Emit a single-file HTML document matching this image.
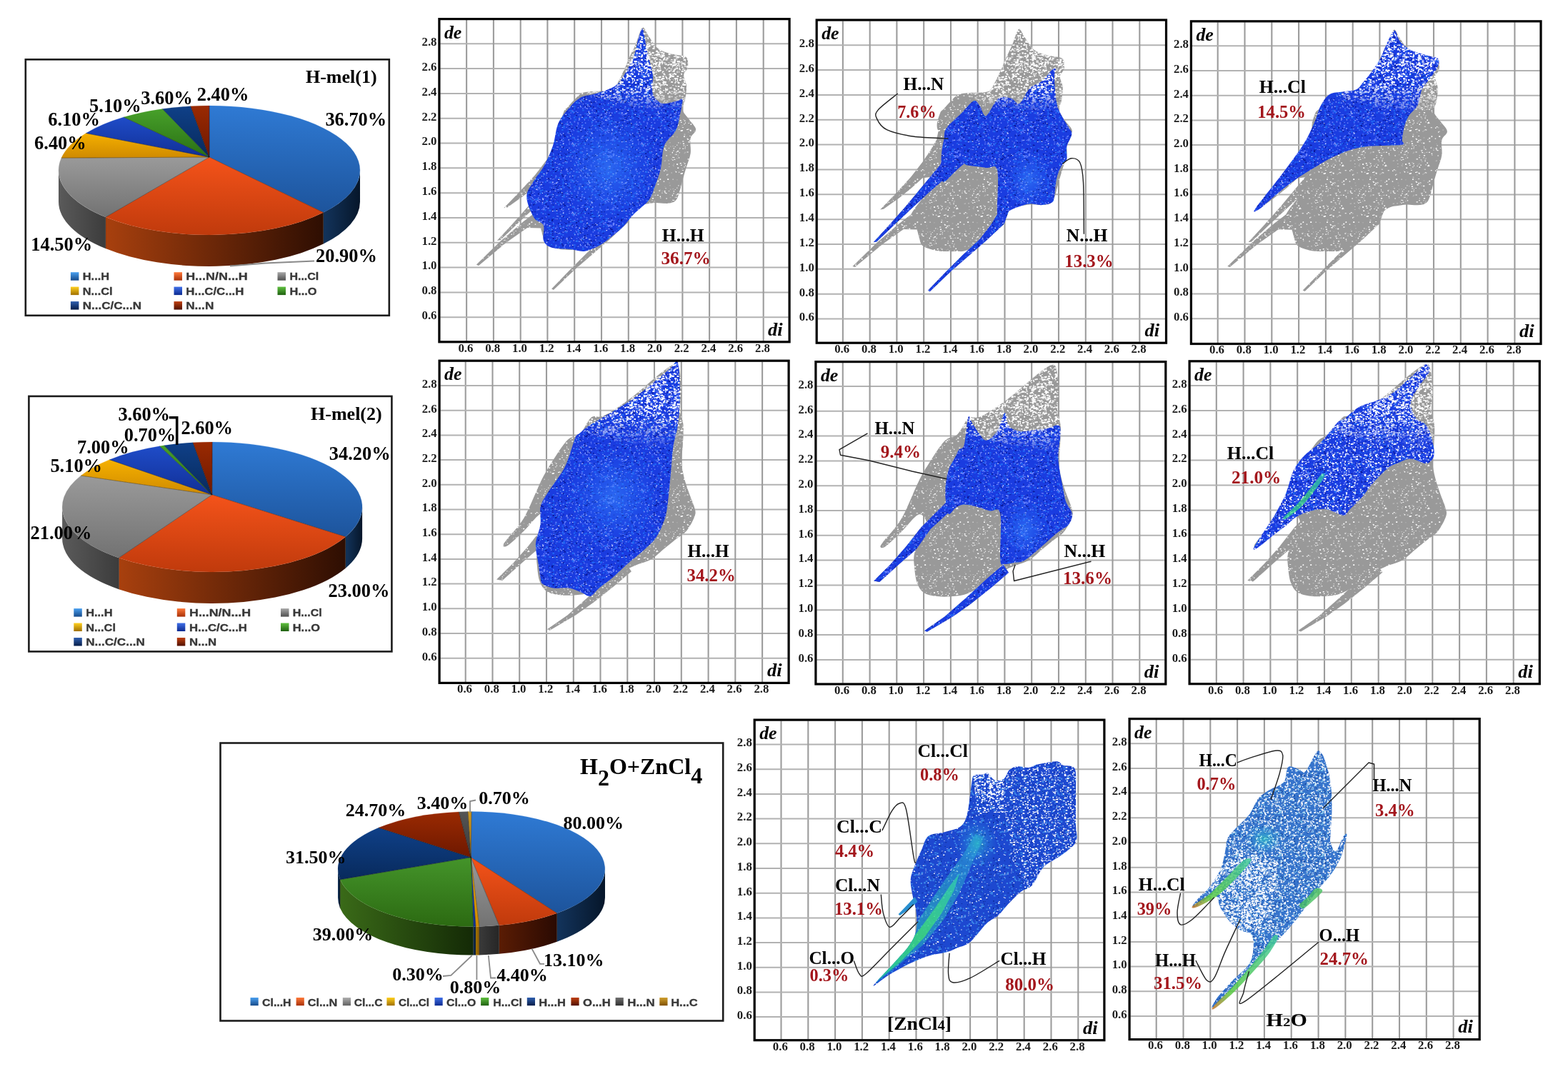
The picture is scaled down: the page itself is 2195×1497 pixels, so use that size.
<!DOCTYPE html>
<html><head><meta charset="utf-8"><title>Hirshfeld fingerprint plots</title>
<style>html,body{margin:0;padding:0;background:#fff;overflow:hidden;width:2195px;height:1497px} svg{display:block}</style></head>
<body><svg width="2195" height="1497" viewBox="0 0 2195 1497">
<defs><pattern id="gsp" width="60" height="60" patternUnits="userSpaceOnUse"><rect width="60" height="60" fill="#999999"/><path d="M8.1 50.8h1.9v1.0h-1.9zM29.7 27.0h1.8v1.5h-1.8zM5.6 1.7h2.0v1.2h-2.0zM45.7 0.1h1.5v1.5h-1.5zM13.7 56.7h2.1v0.7h-2.1zM1.5 32.5h2.1v1.1h-2.1zM13.0 25.3h1.0v0.9h-1.0zM26.3 29.7h1.3v0.9h-1.3zM13.1 27.6h1.3v0.7h-1.3zM50.3 33.4h1.8v0.9h-1.8zM58.9 51.6h1.1v1.1h-1.1zM43.3 42.7h2.1v1.1h-2.1zM49.8 40.2h1.4v1.3h-1.4zM52.9 50.8h1.6v1.3h-1.6zM2.1 14.6h2.0v1.1h-2.0zM10.4 32.9h1.8v1.4h-1.8zM22.5 26.3h1.6v1.5h-1.6zM31.3 23.6h1.6v0.7h-1.6zM2.6 42.2h2.2v1.3h-2.2zM23.6 10.2h1.6v1.7h-1.6zM46.2 32.4h2.0v0.9h-2.0zM30.8 57.1h1.7v1.2h-1.7zM16.2 32.9h2.1v0.7h-2.1zM47.0 49.2h2.1v1.5h-2.1zM48.5 31.1h1.7v1.2h-1.7zM3.4 52.2h1.7v0.9h-1.7zM30.3 29.1h1.4v1.1h-1.4zM32.3 37.4h1.7v1.2h-1.7zM1.7 13.8h1.2v1.3h-1.2zM51.7 47.9h2.0v1.6h-2.0zM15.3 50.5h1.8v0.8h-1.8zM1.0 0.9h1.9v1.0h-1.9zM6.6 37.5h1.4v0.8h-1.4zM9.6 31.6h1.2v1.0h-1.2zM42.7 27.3h1.4v1.2h-1.4zM1.4 23.2h1.5v0.9h-1.5zM6.5 54.0h1.6v0.9h-1.6zM36.3 49.0h1.0v0.7h-1.0zM8.8 43.1h1.2v1.4h-1.2zM40.7 32.7h1.3v1.7h-1.3zM47.9 31.0h1.3v1.4h-1.3zM23.7 34.6h1.4v1.4h-1.4zM3.5 17.9h2.2v1.6h-2.2zM18.4 51.5h1.4v1.7h-1.4zM44.6 25.0h1.3v0.7h-1.3zM52.7 2.3h2.0v1.7h-2.0zM34.2 10.3h2.0v1.7h-2.0zM42.2 30.5h1.5v1.1h-1.5zM12.3 40.4h1.5v0.9h-1.5zM6.3 40.0h1.4v1.2h-1.4zM19.5 52.3h2.1v0.7h-2.1zM12.1 19.7h2.2v1.5h-2.2zM20.3 12.8h1.8v1.6h-1.8zM55.9 20.6h2.1v1.4h-2.1zM29.1 58.5h1.3v1.5h-1.3zM5.1 10.2h2.1v0.9h-2.1zM45.5 36.0h2.0v1.1h-2.0zM20.4 17.5h2.0v1.3h-2.0zM57.3 53.2h1.2v1.3h-1.2zM6.3 2.3h1.1v1.6h-1.1zM47.3 49.7h1.4v1.4h-1.4zM46.9 22.7h1.7v0.9h-1.7zM4.9 16.0h2.1v1.3h-2.1zM55.5 27.5h1.3v1.5h-1.3zM49.7 0.7h1.8v0.8h-1.8zM6.9 53.1h1.0v1.0h-1.0zM58.9 25.3h1.1v0.9h-1.1zM14.5 44.6h1.1v1.7h-1.1zM22.7 58.2h2.1v1.0h-2.1zM15.2 28.6h1.1v1.4h-1.1zM2.4 0.6h2.2v1.0h-2.2zM35.8 27.0h1.4v0.8h-1.4zM54.8 58.2h2.2v0.8h-2.2zM12.9 37.1h2.2v1.3h-2.2zM41.3 39.7h1.3v1.3h-1.3zM18.4 14.8h1.1v1.0h-1.1zM58.2 26.9h1.8v1.4h-1.8zM56.4 23.4h1.4v1.0h-1.4zM19.0 50.8h2.1v1.0h-2.1zM20.1 32.7h1.7v1.3h-1.7zM14.7 1.2h1.3v0.8h-1.3zM33.1 4.3h1.1v1.4h-1.1zM17.4 47.5h1.6v1.6h-1.6zM9.3 30.1h2.0v0.8h-2.0zM57.0 10.4h1.9v1.7h-1.9zM49.3 19.2h1.1v1.2h-1.1zM55.2 17.6h2.1v0.9h-2.1zM54.6 1.9h1.4v1.7h-1.4zM48.2 54.4h2.0v1.5h-2.0zM41.4 10.7h1.5v0.9h-1.5zM42.9 40.1h1.3v0.8h-1.3zM57.8 48.5h1.7v1.3h-1.7zM51.1 27.2h1.5v1.1h-1.5zM15.5 1.5h1.8v1.1h-1.8zM34.2 3.7h1.4v0.8h-1.4zM7.5 15.5h2.0v1.1h-2.0zM24.1 36.7h1.3v0.7h-1.3zM31.7 30.1h1.8v1.2h-1.8zM41.2 43.9h1.3v1.2h-1.3zM28.7 13.5h1.5v1.3h-1.5z" fill="#ffffff"/><path d="M54.4 55.1h1.3v1.3h-1.3zM2.9 4.3h1.5v1.5h-1.5zM9.6 46.0h1.9v1.0h-1.9zM41.6 50.9h1.4v1.3h-1.4zM44.2 35.7h1.9v1.5h-1.9zM57.6 34.3h1.2v0.9h-1.2zM13.1 34.2h1.8v0.7h-1.8zM40.9 43.0h1.3v1.2h-1.3zM9.9 43.8h1.0v1.6h-1.0zM48.5 37.7h1.3v1.5h-1.3zM57.6 8.3h1.8v1.5h-1.8zM39.6 42.0h1.4v1.5h-1.4zM58.2 22.9h1.8v1.1h-1.8zM9.9 19.5h1.1v1.5h-1.1zM57.6 7.2h1.6v1.1h-1.6zM7.1 17.7h1.2v1.4h-1.2zM0.2 11.4h1.4v0.7h-1.4zM37.7 36.3h1.8v0.9h-1.8zM17.1 32.5h1.3v1.2h-1.3zM15.1 41.0h1.8v1.4h-1.8zM58.4 32.7h1.5v1.5h-1.5zM46.1 34.2h1.4v1.0h-1.4zM6.5 48.5h1.1v1.4h-1.1zM32.7 57.9h1.8v1.6h-1.8zM8.2 30.0h1.6v1.0h-1.6zM30.2 21.4h1.5v0.7h-1.5zM26.5 27.0h1.3v1.1h-1.3zM47.0 41.0h1.5v1.3h-1.5zM22.7 12.2h1.0v0.9h-1.0zM35.9 52.9h1.8v1.2h-1.8zM58.2 27.7h1.8v1.1h-1.8zM44.7 59.1h1.3v0.9h-1.3zM37.2 31.9h1.4v0.7h-1.4zM23.3 25.6h1.4v1.5h-1.4zM35.1 44.0h1.9v1.4h-1.9zM29.6 44.7h1.6v1.3h-1.6zM37.8 24.4h1.6v1.3h-1.6zM56.2 46.9h1.8v1.4h-1.8zM48.9 36.3h1.3v0.9h-1.3zM42.5 52.4h1.5v0.8h-1.5zM50.0 29.1h1.5v0.7h-1.5zM30.6 44.7h1.4v1.0h-1.4zM39.4 1.2h1.5v1.6h-1.5zM41.4 24.1h1.7v1.2h-1.7zM12.5 12.5h1.9v0.9h-1.9zM4.5 49.8h1.5v1.0h-1.5zM30.7 44.2h1.2v1.3h-1.2zM42.8 48.9h1.3v1.2h-1.3zM13.9 33.7h1.2v1.4h-1.2zM52.0 19.8h1.2v1.6h-1.2zM42.4 50.6h1.0v1.5h-1.0zM37.3 19.0h1.4v1.4h-1.4zM47.1 11.4h1.6v0.8h-1.6zM58.1 26.6h1.9v1.4h-1.9zM36.4 15.7h1.5v0.8h-1.5zM8.3 42.9h1.4v1.4h-1.4zM14.4 43.1h1.7v1.0h-1.7zM6.4 23.8h1.5v0.8h-1.5zM11.2 3.3h1.6v1.5h-1.6zM13.0 2.1h1.7v1.4h-1.7z" fill="#b8b8b8"/></pattern><pattern id="bsp" width="97" height="97" patternUnits="userSpaceOnUse"><rect width="97" height="97" fill="#1a3ce0"/><path d="M92.7 91.9h1.1v0.8h-1.1zM81.0 71.4h1.9v1.1h-1.9zM58.8 58.9h1.8v0.9h-1.8zM41.8 38.2h2.0v1.9h-2.0zM92.1 52.8h1.6v1.0h-1.6zM3.5 2.7h1.7v1.1h-1.7zM36.9 86.5h1.7v1.4h-1.7zM22.9 2.3h1.5v0.9h-1.5zM49.5 96.1h1.9v0.9h-1.9zM86.7 77.3h2.0v1.8h-2.0zM74.0 76.6h1.5v1.9h-1.5zM93.3 15.6h2.1v1.6h-2.1zM44.8 51.4h1.7v1.8h-1.7zM48.6 80.7h1.5v1.8h-1.5zM87.3 44.7h1.8v1.8h-1.8zM70.2 47.2h1.3v1.1h-1.3zM67.9 16.1h2.3v1.0h-2.3zM88.4 30.0h2.3v1.6h-2.3zM48.9 50.2h1.9v1.4h-1.9zM30.2 20.2h1.7v1.8h-1.7zM60.5 7.3h2.1v1.6h-2.1zM88.0 18.6h2.0v0.8h-2.0zM63.3 26.5h1.3v1.8h-1.3zM10.3 50.7h2.2v1.0h-2.2zM20.4 85.4h1.6v1.6h-1.6zM3.1 35.1h1.2v1.5h-1.2zM8.0 92.6h1.0v1.6h-1.0zM2.1 24.8h2.1v0.9h-2.1zM17.8 67.1h1.5v0.8h-1.5zM95.9 14.7h1.1v1.1h-1.1zM59.7 72.0h1.2v1.1h-1.2zM3.0 43.5h2.1v1.6h-2.1zM87.5 73.3h2.2v1.6h-2.2zM45.9 21.9h1.9v1.1h-1.9zM9.9 43.4h2.2v0.9h-2.2zM56.7 38.1h1.7v0.9h-1.7zM93.1 25.1h1.8v1.2h-1.8zM1.7 54.1h1.2v0.8h-1.2zM3.3 15.6h1.1v1.5h-1.1zM49.3 95.1h2.3v1.9h-2.3zM22.5 43.1h1.4v1.4h-1.4zM60.5 77.6h2.0v1.0h-2.0zM41.0 51.0h1.0v0.7h-1.0zM39.6 10.8h2.0v1.0h-2.0zM9.7 17.6h1.3v1.0h-1.3zM50.5 45.0h1.4v1.5h-1.4zM20.6 87.9h2.3v1.6h-2.3zM42.1 49.6h1.8v0.8h-1.8zM40.5 50.9h1.3v0.8h-1.3zM77.9 35.5h1.7v1.8h-1.7zM59.2 28.1h2.4v1.2h-2.4zM1.8 66.5h1.1v1.1h-1.1zM81.5 65.2h1.0v1.3h-1.0zM39.8 47.1h1.3v1.4h-1.3zM7.2 27.6h1.5v1.8h-1.5zM7.4 73.2h1.3v1.4h-1.3zM38.0 44.9h2.1v1.2h-2.1zM11.8 11.8h1.1v1.7h-1.1zM62.2 93.1h2.0v0.7h-2.0zM63.9 75.4h2.0v1.3h-2.0zM34.7 44.3h2.1v1.0h-2.1zM51.1 46.3h2.3v1.7h-2.3zM90.4 81.1h1.4v1.0h-1.4zM47.4 25.2h1.6v1.5h-1.6zM89.1 56.8h2.1v0.8h-2.1zM34.5 95.8h1.2v1.2h-1.2zM6.5 8.4h2.3v1.9h-2.3zM62.9 12.5h1.4v1.0h-1.4zM65.1 66.1h1.6v1.3h-1.6zM10.9 52.5h2.3v1.6h-2.3zM9.3 50.1h2.0v1.0h-2.0zM86.8 44.7h2.0v1.2h-2.0zM95.2 75.9h1.8v0.9h-1.8zM42.8 2.9h1.8v1.8h-1.8zM17.5 49.5h1.7v1.2h-1.7zM68.9 90.9h2.0v1.3h-2.0zM93.3 32.1h2.0v1.5h-2.0zM73.9 82.7h1.3v1.5h-1.3zM39.1 64.7h2.4v1.5h-2.4zM1.1 45.1h2.0v1.8h-2.0zM63.1 79.2h1.0v1.9h-1.0zM70.8 58.8h2.3v1.8h-2.3zM9.7 79.1h2.1v0.9h-2.1zM72.2 56.9h1.3v1.7h-1.3zM13.4 59.4h1.6v1.0h-1.6zM54.9 45.3h1.3v1.9h-1.3zM7.1 0.3h1.7v1.7h-1.7zM63.9 73.2h1.7v1.5h-1.7zM32.5 25.9h1.7v0.7h-1.7zM7.7 73.1h1.2v1.6h-1.2zM76.1 39.2h1.9v1.7h-1.9zM83.8 13.1h1.2v1.2h-1.2zM45.1 28.6h1.0v1.4h-1.0zM93.8 35.5h1.8v1.2h-1.8zM43.0 84.4h1.4v1.5h-1.4zM46.9 52.2h2.3v0.8h-2.3zM80.0 29.5h1.9v1.7h-1.9zM63.4 38.1h2.2v0.8h-2.2zM61.4 37.9h1.7v1.7h-1.7zM77.4 61.0h1.4v1.0h-1.4zM44.4 22.5h1.4v1.9h-1.4zM10.9 79.4h1.5v1.1h-1.5zM30.9 7.5h1.6v0.9h-1.6zM42.9 28.3h2.3v1.8h-2.3zM42.9 62.0h2.3v1.1h-2.3zM9.7 23.1h1.3v1.5h-1.3zM36.3 34.5h2.1v1.0h-2.1zM78.4 61.4h1.6v1.7h-1.6zM33.2 85.2h2.3v1.3h-2.3zM66.9 92.0h2.0v1.6h-2.0zM84.3 90.8h2.1v1.9h-2.1zM28.3 60.4h1.9v1.1h-1.9zM38.3 17.0h2.3v1.1h-2.3zM46.2 86.7h1.3v1.9h-1.3zM12.3 2.7h1.5v1.1h-1.5zM89.0 85.7h2.1v1.2h-2.1zM52.6 23.0h2.2v1.2h-2.2zM27.6 61.9h1.2v1.1h-1.2zM89.8 9.2h1.2v0.9h-1.2zM24.3 40.8h1.4v1.1h-1.4zM23.9 23.3h1.9v1.1h-1.9zM36.2 74.5h1.1v0.9h-1.1zM82.5 41.7h2.1v0.9h-2.1zM50.7 82.0h1.5v1.6h-1.5zM59.2 38.3h2.4v1.2h-2.4zM46.0 60.1h1.4v1.7h-1.4zM58.0 57.0h1.8v1.9h-1.8zM95.4 81.6h1.6v1.2h-1.6zM50.9 4.5h1.2v1.9h-1.2zM12.4 90.9h2.0v1.8h-2.0zM7.5 29.7h2.1v0.7h-2.1zM10.3 34.0h1.2v0.9h-1.2zM65.0 8.9h2.4v1.5h-2.4zM4.8 87.2h1.3v1.3h-1.3zM54.2 13.4h1.7v0.8h-1.7zM19.4 89.1h2.2v1.3h-2.2zM66.1 84.9h1.2v1.3h-1.2zM12.8 11.3h1.2v1.0h-1.2zM5.2 20.9h1.5v1.5h-1.5zM83.3 87.7h2.0v1.3h-2.0zM88.9 15.8h1.1v1.7h-1.1zM60.8 20.4h1.5v1.1h-1.5zM41.8 41.5h1.6v1.7h-1.6zM78.7 54.6h1.7v1.0h-1.7zM74.2 95.4h1.3v1.6h-1.3zM67.8 63.8h1.0v1.4h-1.0zM19.6 18.9h1.8v1.5h-1.8zM60.7 72.0h2.0v1.3h-2.0zM4.6 74.9h2.2v1.7h-2.2zM58.0 3.7h1.3v0.8h-1.3zM61.7 52.8h1.3v1.9h-1.3zM94.9 87.2h1.6v1.1h-1.6zM20.3 79.9h2.0v1.0h-2.0zM87.5 55.2h1.6v1.2h-1.6zM69.9 44.2h1.9v0.8h-1.9zM68.1 26.4h2.3v1.0h-2.3zM32.3 52.2h1.5v1.3h-1.5zM89.6 19.5h2.1v1.5h-2.1zM76.3 43.4h1.6v1.1h-1.6zM45.9 24.7h1.3v1.3h-1.3zM18.6 45.5h1.8v1.1h-1.8zM16.5 58.7h2.2v1.0h-2.2zM59.7 63.9h2.2v1.5h-2.2zM29.9 20.1h2.2v1.1h-2.2zM1.2 84.4h1.3v1.1h-1.3zM30.9 24.8h2.0v1.1h-2.0zM42.7 40.7h2.2v0.7h-2.2zM56.2 12.8h1.2v1.4h-1.2zM36.4 6.3h1.8v1.8h-1.8zM62.6 48.1h2.1v1.8h-2.1zM14.7 29.0h2.4v1.8h-2.4zM19.7 68.3h2.2v1.4h-2.2zM68.1 50.8h1.3v1.0h-1.3zM6.0 64.6h1.2v1.5h-1.2zM38.0 42.3h2.4v1.2h-2.4zM46.1 36.9h1.3v1.0h-1.3zM51.7 79.3h1.1v1.9h-1.1zM65.4 5.2h2.0v1.2h-2.0zM49.9 9.8h1.7v1.3h-1.7zM75.9 56.3h2.0v1.6h-2.0zM21.5 2.4h1.7v0.9h-1.7zM13.8 31.2h1.8v1.5h-1.8zM62.7 91.4h1.1v1.4h-1.1zM8.4 65.0h1.6v0.9h-1.6zM30.1 64.1h1.7v1.9h-1.7zM34.5 33.0h2.3v1.4h-2.3zM10.4 76.1h1.5v1.9h-1.5zM61.7 78.1h2.3v1.3h-2.3zM93.8 2.5h1.5v1.7h-1.5zM0.8 65.2h2.4v1.6h-2.4zM83.6 7.4h1.8v1.4h-1.8zM42.2 40.7h2.1v0.9h-2.1zM4.4 57.5h2.4v1.7h-2.4zM65.3 28.6h2.3v0.7h-2.3zM23.9 76.4h2.3v1.2h-2.3zM88.2 10.8h1.8v0.8h-1.8zM22.6 18.4h1.0v1.2h-1.0zM48.5 27.3h1.9v0.8h-1.9zM50.2 51.2h1.6v1.8h-1.6zM12.3 41.4h1.6v1.2h-1.6zM94.4 55.5h1.7v1.2h-1.7zM42.4 92.2h2.1v1.5h-2.1zM15.8 57.7h1.2v1.1h-1.2zM2.2 68.4h2.4v1.5h-2.4zM55.3 24.3h1.6v1.3h-1.6zM41.0 26.1h1.3v1.6h-1.3zM92.4 79.7h1.9v0.7h-1.9zM29.3 81.5h2.4v1.4h-2.4zM55.2 66.6h1.3v1.6h-1.3zM35.4 82.2h1.6v1.5h-1.6zM53.9 51.9h1.6v1.9h-1.6zM73.2 40.7h1.7v1.8h-1.7zM72.5 63.3h2.3v0.8h-2.3zM58.0 60.5h1.6v1.9h-1.6zM93.8 37.9h1.9v1.6h-1.9zM67.5 35.2h2.1v1.1h-2.1zM14.2 64.5h1.9v1.2h-1.9zM48.4 95.8h2.1v1.2h-2.1zM88.4 55.3h1.6v1.5h-1.6zM76.0 86.9h1.9v1.5h-1.9zM38.9 3.9h1.6v0.8h-1.6zM91.4 35.2h1.8v1.6h-1.8zM17.3 80.9h1.5v0.8h-1.5zM58.2 39.0h2.3v1.2h-2.3zM9.2 1.8h1.0v1.3h-1.0zM69.3 5.0h1.5v1.3h-1.5zM87.1 94.1h2.2v1.5h-2.2zM55.8 21.6h1.9v0.9h-1.9zM29.4 80.5h1.8v1.6h-1.8zM45.1 27.1h1.7v1.4h-1.7zM23.4 82.0h2.4v0.9h-2.4zM23.5 78.7h2.0v1.0h-2.0zM56.8 23.1h2.2v1.4h-2.2zM49.5 15.7h1.6v1.3h-1.6zM35.1 17.4h1.3v1.6h-1.3zM89.7 81.9h1.9v1.7h-1.9zM13.0 20.4h2.0v0.7h-2.0zM8.1 75.5h1.3v0.9h-1.3zM38.4 81.2h1.0v1.8h-1.0zM29.6 55.4h1.7v0.8h-1.7zM93.0 17.1h2.1v1.8h-2.1zM44.0 93.1h1.1v0.9h-1.1zM46.9 7.2h2.1v1.3h-2.1zM77.5 27.8h1.0v1.8h-1.0zM20.2 40.4h1.2v1.4h-1.2zM45.0 19.2h1.1v1.1h-1.1zM76.0 14.9h1.3v1.5h-1.3zM61.6 78.0h1.9v1.7h-1.9zM15.1 89.4h1.0v0.8h-1.0zM10.1 75.2h1.7v1.8h-1.7zM94.6 92.4h1.9v1.1h-1.9zM92.8 71.1h1.3v1.4h-1.3zM2.0 1.7h1.9v1.6h-1.9zM83.5 73.1h1.2v1.6h-1.2zM95.2 65.7h1.7v1.1h-1.7zM6.2 60.7h2.3v0.8h-2.3zM79.6 87.1h1.5v1.7h-1.5zM15.1 29.2h1.8v1.8h-1.8zM52.0 8.7h2.3v1.4h-2.3zM75.6 22.3h1.5v0.8h-1.5zM18.1 42.4h1.6v1.5h-1.6zM80.9 32.4h2.3v1.5h-2.3zM33.4 17.9h2.3v1.5h-2.3zM4.2 66.4h1.5v1.2h-1.5zM74.3 21.6h1.4v1.4h-1.4zM87.7 8.4h2.2v1.6h-2.2zM17.2 64.2h1.9v1.6h-1.9zM52.1 30.4h1.7v1.0h-1.7zM44.2 39.4h1.1v1.0h-1.1zM33.4 38.2h1.8v1.6h-1.8zM25.1 53.8h1.5v1.0h-1.5zM13.6 93.1h2.3v1.7h-2.3zM16.6 14.6h1.1v1.1h-1.1zM41.3 0.7h1.6v1.5h-1.6zM80.9 18.4h1.0v1.7h-1.0zM36.9 30.4h1.2v1.0h-1.2zM25.8 24.9h1.3v1.3h-1.3zM78.9 30.0h1.6v1.3h-1.6zM81.7 74.3h2.4v0.9h-2.4zM78.1 28.6h1.8v1.3h-1.8zM55.7 31.2h1.1v0.7h-1.1zM90.0 86.0h1.6v0.8h-1.6zM81.3 48.7h1.7v1.5h-1.7zM15.3 21.2h2.1v1.6h-2.1zM94.6 42.0h2.4v1.8h-2.4zM49.2 86.5h1.2v0.8h-1.2zM79.0 13.7h1.7v1.6h-1.7zM65.9 21.3h2.1v0.8h-2.1zM54.5 87.1h1.8v1.1h-1.8zM94.9 70.5h2.1v1.8h-2.1z" fill="#0a1a9a"/><path d="M90.7 55.7h2.0v1.2h-2.0zM24.7 27.0h1.3v0.7h-1.3zM60.1 38.8h2.1v0.8h-2.1zM76.0 18.9h1.4v1.0h-1.4zM92.9 62.7h1.6v0.9h-1.6zM4.6 35.6h2.2v1.2h-2.2zM65.5 85.4h1.1v1.0h-1.1zM40.5 21.9h1.5v1.4h-1.5zM13.1 67.4h1.4v1.4h-1.4zM16.8 76.6h1.5v1.6h-1.5zM93.9 56.4h1.0v1.1h-1.0zM94.7 63.3h1.9v1.2h-1.9zM91.2 88.0h1.7v1.3h-1.7zM10.0 0.7h1.2v1.5h-1.2zM82.2 74.7h2.1v0.7h-2.1zM2.8 24.8h1.0v1.3h-1.0zM90.2 87.2h1.1v1.4h-1.1zM65.1 63.8h1.5v1.0h-1.5zM86.0 87.7h1.9v1.3h-1.9zM3.2 26.8h1.3v1.0h-1.3zM21.0 64.8h1.8v0.9h-1.8zM87.5 0.1h2.1v1.3h-2.1zM62.6 27.3h1.8v1.6h-1.8zM19.9 12.8h1.9v1.0h-1.9zM10.2 47.7h1.2v0.9h-1.2zM27.5 8.2h2.0v1.3h-2.0zM63.4 28.3h1.9v1.7h-1.9zM95.6 4.1h1.4v0.8h-1.4zM46.1 63.8h1.7v1.1h-1.7zM93.5 60.5h2.2v1.2h-2.2zM62.5 9.6h1.6v1.4h-1.6zM22.6 60.6h1.2v1.2h-1.2zM58.9 46.5h1.2v0.9h-1.2zM36.4 63.2h1.5v0.9h-1.5zM32.8 29.9h1.2v1.3h-1.2zM45.7 31.6h1.0v1.7h-1.0zM4.4 11.2h1.4v1.5h-1.4zM90.8 73.6h1.2v1.6h-1.2zM3.1 10.9h1.1v1.3h-1.1zM57.6 60.8h2.1v1.5h-2.1zM72.1 16.8h2.1v1.7h-2.1zM80.3 7.8h1.9v1.3h-1.9zM52.1 26.0h1.9v1.6h-1.9zM74.7 29.3h1.9v0.8h-1.9zM66.0 3.0h1.0v0.8h-1.0zM63.3 95.4h1.6v1.4h-1.6zM56.9 81.6h2.2v1.6h-2.2zM32.2 7.0h2.1v1.0h-2.1zM73.6 83.9h1.2v0.9h-1.2zM41.0 81.9h2.0v1.8h-2.0zM26.5 60.4h2.0v1.1h-2.0zM56.9 21.8h2.0v1.2h-2.0zM47.2 63.6h1.4v1.6h-1.4zM44.5 41.7h1.9v1.4h-1.9zM68.8 84.9h2.0v1.1h-2.0zM62.5 83.8h1.1v1.4h-1.1zM51.2 39.1h1.1v1.0h-1.1zM72.7 85.8h2.2v1.5h-2.2zM85.4 80.1h1.2v1.4h-1.2zM84.3 72.9h1.3v1.4h-1.3zM37.8 42.0h1.9v1.4h-1.9zM13.2 62.2h1.1v0.9h-1.1zM80.0 88.6h1.3v1.5h-1.3zM17.7 48.3h1.4v0.8h-1.4zM42.0 53.5h2.0v0.8h-2.0zM27.9 0.4h1.3v1.0h-1.3zM79.5 91.1h1.3v1.2h-1.3zM50.8 47.6h2.2v1.7h-2.2zM3.7 39.6h1.6v1.4h-1.6zM51.4 79.6h1.1v1.2h-1.1zM80.5 16.6h1.2v1.4h-1.2zM14.1 52.9h1.1v0.9h-1.1zM32.4 76.0h1.7v1.3h-1.7zM60.9 38.5h2.2v1.3h-2.2zM61.0 6.5h1.3v1.3h-1.3zM92.7 68.2h1.1v1.6h-1.1zM20.6 57.8h1.2v0.8h-1.2zM74.9 47.1h1.7v1.4h-1.7zM57.6 40.4h1.4v1.3h-1.4zM23.9 25.4h2.0v1.1h-2.0zM69.9 65.9h1.6v1.5h-1.6zM32.0 0.4h2.0v1.5h-2.0zM71.6 89.2h1.5v1.2h-1.5zM59.4 84.6h1.3v1.5h-1.3zM92.8 24.7h1.0v0.9h-1.0zM62.6 21.0h2.1v0.8h-2.1zM86.8 34.3h2.1v1.1h-2.1zM10.8 65.5h1.4v1.7h-1.4zM79.8 24.9h1.6v1.3h-1.6zM75.0 25.6h1.7v1.2h-1.7zM57.0 53.9h1.5v1.1h-1.5zM38.3 96.2h1.6v0.8h-1.6zM38.2 74.3h1.8v0.8h-1.8zM40.1 43.8h2.0v1.0h-2.0zM88.9 78.9h1.0v1.2h-1.0zM51.7 61.2h2.1v0.9h-2.1zM80.4 0.9h2.0v1.0h-2.0zM2.5 78.9h2.2v1.4h-2.2zM75.5 38.5h1.3v1.4h-1.3zM78.4 26.0h1.5v1.0h-1.5zM25.7 84.0h1.0v0.7h-1.0zM17.8 76.1h1.7v1.5h-1.7zM67.5 86.2h1.7v0.7h-1.7zM9.9 39.9h1.1v1.0h-1.1zM26.6 95.4h2.2v1.4h-2.2zM40.9 40.1h1.1v1.2h-1.1zM13.9 51.6h2.0v1.1h-2.0zM68.5 79.0h2.1v1.2h-2.1zM23.0 86.3h1.6v1.0h-1.6zM66.3 83.7h2.2v1.1h-2.2zM25.7 24.3h1.4v0.9h-1.4zM89.2 61.5h1.1v0.8h-1.1zM18.0 93.9h1.4v1.6h-1.4zM21.8 19.0h2.1v0.8h-2.1zM48.6 51.3h1.4v1.5h-1.4zM82.9 22.2h1.4v1.2h-1.4zM46.5 61.3h1.9v1.1h-1.9zM91.2 44.3h1.0v1.1h-1.0zM51.4 17.7h2.1v1.3h-2.1zM50.4 27.6h1.2v1.0h-1.2zM62.2 66.2h1.8v0.7h-1.8zM75.5 67.4h1.8v1.3h-1.8zM82.8 93.4h1.7v1.2h-1.7zM52.5 77.7h1.8v1.5h-1.8zM30.0 58.4h1.3v1.3h-1.3zM1.4 51.8h1.9v1.7h-1.9zM47.1 84.6h1.2v0.7h-1.2zM53.6 33.3h1.5v1.3h-1.5zM73.3 83.6h1.4v1.3h-1.4zM61.1 66.5h1.7v1.2h-1.7zM78.5 1.9h1.9v0.9h-1.9zM17.7 65.2h1.5v1.1h-1.5zM7.6 5.0h1.3v0.8h-1.3zM67.6 19.5h1.5v1.1h-1.5zM68.4 79.2h1.8v0.9h-1.8zM13.3 54.3h1.4v1.5h-1.4zM21.0 67.0h1.4v1.0h-1.4zM17.5 73.2h1.6v1.3h-1.6zM80.7 2.6h1.7v1.0h-1.7zM23.6 80.4h1.3v1.1h-1.3zM42.1 13.4h1.4v0.7h-1.4zM48.5 60.9h2.2v1.7h-2.2zM32.2 93.4h1.1v0.9h-1.1zM51.4 66.2h1.7v0.7h-1.7zM39.6 47.8h1.5v1.5h-1.5zM72.2 8.4h1.6v1.4h-1.6zM76.5 64.3h2.2v1.5h-2.2zM38.2 81.0h1.7v1.3h-1.7zM57.6 73.0h1.9v1.2h-1.9zM76.4 40.8h1.9v1.7h-1.9zM51.4 14.4h2.1v0.9h-2.1zM20.5 4.4h1.5v1.1h-1.5zM79.4 16.7h1.5v1.5h-1.5zM2.3 40.1h1.2v1.5h-1.2zM29.0 13.7h1.1v0.9h-1.1zM68.2 11.2h1.0v1.0h-1.0zM4.1 70.9h1.9v1.3h-1.9zM32.4 3.8h1.9v1.0h-1.9zM53.3 95.6h1.3v1.4h-1.3zM42.5 51.8h1.5v1.4h-1.5zM50.5 3.1h2.0v1.0h-2.0zM34.0 46.5h1.7v1.5h-1.7zM11.5 37.2h1.7v1.2h-1.7zM23.6 77.2h2.2v1.4h-2.2zM51.9 15.0h1.6v1.5h-1.6zM30.6 42.4h1.5v1.0h-1.5zM59.8 28.7h2.1v1.6h-2.1zM29.8 6.5h1.0v1.6h-1.0zM41.1 11.6h1.1v1.5h-1.1zM20.0 89.3h1.4v1.4h-1.4zM33.6 63.6h1.2v1.0h-1.2zM11.9 6.1h1.7v1.8h-1.7zM0.6 85.2h1.3v0.9h-1.3zM3.0 33.9h1.1v1.2h-1.1zM44.5 16.2h2.1v1.3h-2.1zM73.7 23.3h1.9v1.4h-1.9zM75.1 18.0h2.1v1.2h-2.1zM7.8 89.4h1.4v1.6h-1.4zM20.2 7.0h1.6v1.3h-1.6zM65.4 62.2h1.4v1.5h-1.4zM50.0 14.0h1.7v1.1h-1.7zM52.9 15.4h1.3v1.0h-1.3zM64.4 2.3h1.5v1.1h-1.5zM84.7 11.9h1.6v1.6h-1.6zM39.6 92.7h1.3v1.2h-1.3zM29.6 27.3h1.1v1.5h-1.1zM63.4 81.1h1.6v0.9h-1.6zM64.1 90.6h1.7v1.0h-1.7zM50.7 82.8h2.0v1.4h-2.0zM71.9 3.1h1.2v0.7h-1.2zM43.7 47.5h1.0v1.6h-1.0zM53.1 71.0h2.2v1.5h-2.2zM72.4 61.9h1.6v1.5h-1.6zM75.9 29.0h2.0v0.9h-2.0zM51.6 89.3h1.3v1.6h-1.3zM47.0 70.8h1.2v0.8h-1.2zM24.4 57.8h2.1v1.3h-2.1zM50.7 36.8h1.6v1.5h-1.6zM84.1 33.6h1.8v1.1h-1.8zM24.6 5.3h1.5v1.3h-1.5zM49.4 43.5h1.9v1.2h-1.9zM67.0 53.9h2.1v1.1h-2.1zM42.9 74.5h1.4v1.5h-1.4zM31.5 14.9h1.7v1.3h-1.7zM29.6 26.5h2.2v1.2h-2.2zM68.9 40.7h1.7v1.0h-1.7zM16.4 80.8h1.8v1.0h-1.8zM39.4 54.3h1.1v1.4h-1.1zM95.4 66.4h1.6v0.8h-1.6zM52.3 56.4h1.8v1.6h-1.8zM26.1 10.2h2.2v1.3h-2.2zM86.1 58.6h2.1v1.3h-2.1zM70.4 61.5h2.1v1.5h-2.1zM94.5 40.4h1.2v0.9h-1.2zM44.3 54.0h1.8v1.2h-1.8zM93.6 39.3h1.0v1.3h-1.0zM63.8 23.5h1.9v0.9h-1.9zM87.7 43.3h2.1v1.4h-2.1zM70.2 19.9h2.1v1.7h-2.1zM14.5 56.2h1.2v1.6h-1.2zM83.9 88.4h1.9v1.1h-1.9zM61.3 5.7h1.1v1.3h-1.1zM71.9 28.5h1.0v0.7h-1.0zM32.0 36.1h2.1v1.4h-2.1zM85.6 73.3h1.8v1.5h-1.8zM21.5 73.5h1.7v1.4h-1.7zM48.1 43.4h2.0v1.5h-2.0zM18.7 83.4h1.6v0.8h-1.6zM76.6 85.4h1.5v1.2h-1.5zM26.2 18.8h1.6v1.2h-1.6zM63.4 63.8h1.2v1.5h-1.2zM43.7 39.5h1.2v1.3h-1.2zM65.9 75.9h2.0v1.1h-2.0zM53.0 59.6h1.5v0.7h-1.5zM70.7 87.2h1.6v1.7h-1.6zM5.0 56.7h1.5v1.4h-1.5zM35.0 69.7h1.2v1.0h-1.2zM40.0 40.5h1.5v1.7h-1.5zM49.8 54.4h1.2v1.3h-1.2zM73.8 68.2h2.1v1.3h-2.1zM36.0 84.5h2.2v1.7h-2.2zM11.1 65.6h1.2v1.0h-1.2zM75.3 84.7h1.7v1.0h-1.7zM47.1 29.9h1.3v0.9h-1.3zM92.1 90.4h1.2v1.6h-1.2zM72.6 70.3h1.3v1.3h-1.3zM79.1 68.0h2.1v0.8h-2.1zM32.1 35.9h1.5v1.7h-1.5zM93.9 80.7h1.8v1.5h-1.8zM82.3 20.8h1.8v1.7h-1.8zM16.1 43.2h1.4v1.6h-1.4zM44.9 13.4h1.4v1.4h-1.4zM52.9 2.7h2.0v1.0h-2.0zM3.4 60.6h1.8v1.3h-1.8zM8.9 2.0h1.9v1.2h-1.9zM1.1 54.3h1.1v1.2h-1.1zM68.8 21.9h1.5v1.5h-1.5zM26.7 60.2h1.1v1.4h-1.1zM22.9 41.9h2.2v1.5h-2.2zM17.9 77.4h1.5v1.2h-1.5zM27.2 16.9h2.2v1.1h-2.2zM20.0 77.8h1.1v1.1h-1.1zM11.2 3.3h2.2v1.2h-2.2zM63.4 14.3h1.4v0.8h-1.4zM81.7 0.8h2.1v1.7h-2.1zM19.2 27.9h1.2v0.7h-1.2zM46.1 51.0h2.1v1.2h-2.1zM16.9 41.6h1.2v0.7h-1.2zM37.6 80.7h1.1v1.7h-1.1zM81.6 96.0h1.7v1.0h-1.7zM74.7 14.4h1.6v1.6h-1.6zM52.1 74.2h1.2v1.6h-1.2zM14.6 32.3h1.7v1.7h-1.7zM11.6 27.1h1.9v1.0h-1.9zM38.2 17.5h2.2v1.5h-2.2zM36.8 96.0h2.1v1.0h-2.1zM7.3 69.5h1.8v1.0h-1.8zM0.8 27.8h2.1v1.4h-2.1zM64.9 67.6h1.3v1.6h-1.3zM45.8 89.9h1.7v1.4h-1.7zM84.6 95.2h1.9v1.7h-1.9zM40.0 30.6h1.3v1.1h-1.3zM86.8 31.7h1.3v0.8h-1.3zM69.8 90.5h1.5v0.9h-1.5zM74.0 82.3h1.5v1.2h-1.5zM36.3 51.9h1.8v1.7h-1.8zM32.4 93.4h1.7v1.2h-1.7zM81.8 23.2h1.7v1.7h-1.7zM80.9 83.5h1.6v1.4h-1.6zM75.7 23.8h2.2v1.5h-2.2zM47.3 58.1h2.1v0.7h-2.1zM26.6 85.1h1.1v1.4h-1.1zM28.9 23.7h1.1v1.0h-1.1zM35.5 63.3h2.0v1.3h-2.0zM14.9 50.9h2.1v0.9h-2.1zM67.7 21.4h1.4v1.3h-1.4zM80.8 52.2h1.2v1.3h-1.2zM5.1 71.1h1.7v1.1h-1.7zM60.8 34.6h1.6v1.3h-1.6zM77.6 18.6h2.2v1.6h-2.2zM18.3 88.3h1.3v1.6h-1.3zM20.7 83.6h2.0v1.3h-2.0zM65.9 73.2h1.8v1.1h-1.8zM74.7 87.6h1.6v1.6h-1.6zM35.1 43.5h1.8v1.0h-1.8zM76.5 77.2h1.2v1.1h-1.2zM85.5 50.0h1.0v1.6h-1.0zM17.7 45.4h2.1v1.5h-2.1zM72.2 1.6h1.3v0.8h-1.3zM95.1 20.8h1.2v1.5h-1.2zM75.8 69.5h1.6v1.6h-1.6zM58.2 3.6h2.0v0.7h-2.0zM95.2 56.3h1.8v1.0h-1.8zM83.6 35.1h1.7v0.8h-1.7zM65.3 81.7h1.7v1.6h-1.7zM55.2 53.9h2.0v0.9h-2.0zM38.1 78.0h1.9v1.7h-1.9zM70.7 65.1h1.8v0.9h-1.8zM75.1 79.3h1.3v1.1h-1.3zM41.9 71.2h1.1v0.8h-1.1zM89.6 74.5h1.5v0.9h-1.5zM0.4 14.8h2.1v0.8h-2.1zM82.5 17.4h2.0v0.9h-2.0zM68.3 74.7h1.6v1.0h-1.6zM48.1 23.7h2.2v1.2h-2.2zM55.6 31.1h1.5v1.7h-1.5zM86.1 80.5h2.1v1.7h-2.1zM1.4 28.1h1.1v1.6h-1.1zM14.1 76.9h1.2v0.9h-1.2zM31.5 86.6h1.3v0.9h-1.3zM75.9 25.1h1.7v1.2h-1.7zM68.6 47.9h1.3v0.8h-1.3zM81.5 21.9h1.3v1.3h-1.3zM91.9 35.1h1.4v1.1h-1.4zM44.3 88.8h1.7v1.3h-1.7zM30.5 33.0h1.5v1.6h-1.5zM87.5 79.0h1.3v1.7h-1.3zM29.4 31.7h1.6v0.8h-1.6zM50.1 91.8h1.1v1.7h-1.1zM39.7 24.4h1.6v0.8h-1.6zM32.4 73.9h1.4v1.5h-1.4zM27.4 73.0h1.9v1.3h-1.9zM44.7 21.9h1.1v1.2h-1.1zM33.4 81.9h1.1v0.8h-1.1zM32.5 53.2h1.9v1.4h-1.9zM24.8 7.6h1.8v0.8h-1.8zM76.2 60.6h2.1v1.2h-2.1zM44.6 62.0h1.1v1.6h-1.1zM57.6 66.9h1.1v1.0h-1.1zM14.6 31.6h1.5v1.7h-1.5zM45.5 54.6h1.5v1.1h-1.5zM6.7 65.8h1.6v0.9h-1.6zM73.1 1.9h2.1v1.3h-2.1zM81.1 48.5h1.2v1.2h-1.2zM21.0 53.3h1.0v1.4h-1.0zM77.1 54.4h1.4v1.4h-1.4zM38.2 93.8h2.1v1.2h-2.1zM78.1 23.8h2.1v1.4h-2.1zM0.1 62.3h1.5v1.4h-1.5zM11.3 33.4h2.1v1.3h-2.1zM49.3 65.4h1.1v0.8h-1.1zM39.2 34.5h1.6v1.3h-1.6zM8.0 27.9h2.0v1.5h-2.0zM61.2 4.8h1.8v0.8h-1.8zM20.2 24.6h2.2v1.1h-2.2zM30.2 9.6h1.5v1.5h-1.5zM33.3 40.9h1.1v0.9h-1.1zM10.7 80.8h2.0v1.2h-2.0zM55.6 38.0h1.8v0.9h-1.8zM33.9 70.3h1.4v1.8h-1.4zM45.2 0.0h1.6v1.6h-1.6zM17.3 42.8h1.7v1.6h-1.7zM1.4 69.8h1.1v1.4h-1.1zM91.0 61.6h1.0v1.0h-1.0zM45.8 87.1h1.5v1.0h-1.5zM72.4 71.2h2.2v1.4h-2.2zM74.5 85.4h1.2v0.7h-1.2zM79.6 60.5h2.0v1.6h-2.0zM11.8 26.4h2.0v1.3h-2.0zM76.3 88.0h1.0v1.0h-1.0zM7.1 22.0h1.5v1.7h-1.5zM21.1 47.6h1.5v1.7h-1.5zM65.6 40.1h1.1v1.0h-1.1zM12.0 96.1h1.4v0.9h-1.4zM3.0 15.0h1.7v1.2h-1.7zM56.5 69.9h1.2v1.3h-1.2zM57.0 94.8h1.5v0.9h-1.5zM21.9 68.8h2.0v1.0h-2.0zM80.0 90.4h1.5v0.8h-1.5zM89.7 24.6h2.2v1.1h-2.2z" fill="#7088ff"/><path d="M48.5 43.6h0.9v0.9h-0.9zM8.6 47.2h0.9v1.1h-0.9zM52.2 89.3h1.6v1.1h-1.6zM77.1 38.6h1.6v1.1h-1.6zM80.5 84.8h1.5v1.4h-1.5zM1.3 90.5h1.3v1.0h-1.3zM22.6 30.9h1.4v0.9h-1.4zM0.7 33.1h1.0v1.4h-1.0zM8.9 69.9h1.6v1.4h-1.6zM71.2 70.6h1.4v1.3h-1.4zM81.8 49.1h1.8v1.1h-1.8zM39.8 28.3h1.4v1.0h-1.4zM30.2 45.9h1.2v1.3h-1.2zM11.9 7.0h1.3v1.0h-1.3zM3.0 43.2h0.9v0.7h-0.9zM75.1 1.8h1.0v1.0h-1.0zM79.7 76.0h1.3v1.0h-1.3zM78.5 52.4h1.6v0.9h-1.6zM12.1 89.3h1.0v1.1h-1.0zM65.5 48.0h1.2v0.6h-1.2zM42.6 7.6h1.3v1.0h-1.3zM6.9 34.9h1.2v0.8h-1.2zM92.3 28.9h0.9v0.6h-0.9zM6.2 41.9h0.8v1.0h-0.8zM89.6 25.1h1.5v1.0h-1.5zM16.9 42.3h0.8v0.9h-0.8zM10.0 11.3h1.3v0.9h-1.3zM18.0 15.1h1.1v1.4h-1.1zM93.5 30.0h0.8v1.0h-0.8zM86.0 23.4h1.8v0.9h-1.8zM26.2 7.5h1.1v1.0h-1.1zM28.1 37.2h1.5v1.0h-1.5zM7.9 8.7h1.7v0.7h-1.7zM38.1 66.8h1.8v1.0h-1.8zM72.6 59.7h1.6v1.0h-1.6zM21.1 52.5h1.4v0.7h-1.4zM57.3 44.4h1.2v1.0h-1.2zM35.5 35.4h1.8v0.8h-1.8zM46.0 0.4h1.1v1.3h-1.1zM48.9 66.3h1.7v1.2h-1.7zM92.1 83.8h1.0v1.1h-1.0zM2.2 61.8h1.7v1.2h-1.7zM85.9 55.5h1.6v0.8h-1.6zM27.3 8.5h0.9v1.2h-0.9zM10.1 74.9h1.1v1.3h-1.1zM93.9 4.1h1.4v1.1h-1.4zM44.8 2.3h1.3v1.2h-1.3zM50.6 15.4h1.3v0.6h-1.3zM17.1 32.5h1.3v0.9h-1.3zM25.1 90.8h0.9v0.7h-0.9zM72.4 30.9h1.7v1.3h-1.7zM48.9 61.5h1.2v1.2h-1.2zM94.3 60.7h1.2v1.4h-1.2zM0.5 73.2h1.8v0.8h-1.8zM61.8 10.4h1.2v1.4h-1.2zM8.4 18.3h1.0v0.7h-1.0zM21.8 92.8h1.4v1.0h-1.4zM78.1 63.8h1.8v0.9h-1.8zM51.5 87.9h1.1v1.4h-1.1zM36.8 44.0h1.2v0.7h-1.2zM34.1 68.5h1.6v1.1h-1.6zM5.7 56.8h1.5v1.1h-1.5zM25.1 5.9h1.3v0.8h-1.3zM80.0 83.2h0.9v1.2h-0.9zM43.8 41.7h1.3v1.3h-1.3zM9.0 91.4h1.7v0.9h-1.7zM94.6 77.7h1.5v1.0h-1.5zM69.4 55.9h1.6v0.8h-1.6zM41.1 25.9h0.8v1.2h-0.8zM58.9 23.2h1.6v1.2h-1.6zM74.1 56.8h1.1v1.1h-1.1zM24.9 51.8h1.6v1.0h-1.6zM83.7 80.0h1.3v0.9h-1.3zM26.8 45.2h0.9v1.3h-0.9zM23.7 7.3h0.9v0.9h-0.9zM32.2 60.0h1.1v0.8h-1.1zM46.2 49.3h1.3v0.9h-1.3zM53.0 95.4h1.2v1.2h-1.2zM41.8 69.1h1.2v1.3h-1.2zM95.5 68.9h1.5v0.6h-1.5zM66.5 67.2h1.0v1.2h-1.0zM79.7 89.0h1.2v0.7h-1.2zM19.6 1.2h1.3v1.4h-1.3zM35.9 50.8h0.9v1.2h-0.9zM34.4 27.7h1.6v1.2h-1.6zM55.7 69.4h0.9v1.2h-0.9zM55.6 60.4h1.1v1.0h-1.1zM9.0 44.4h1.3v1.1h-1.3zM47.7 59.3h1.3v1.4h-1.3zM15.5 62.8h1.5v1.3h-1.5zM16.8 25.0h1.5v1.1h-1.5zM31.4 79.2h1.2v0.8h-1.2zM45.4 20.7h1.5v1.4h-1.5zM70.1 55.9h0.9v1.4h-0.9zM84.6 80.5h1.5v0.6h-1.5zM30.7 47.1h1.4v0.7h-1.4zM85.7 47.8h1.5v1.3h-1.5zM24.8 18.8h1.4v0.7h-1.4zM2.7 3.4h1.6v1.3h-1.6zM37.3 45.4h1.4v0.8h-1.4z" fill="#d8e0ff"/><path d="M32.7 37.5h1.9v2.0h-1.9zM53.9 10.9h1.6v2.1h-1.6zM46.8 83.3h2.6v1.8h-2.6zM24.7 59.2h2.2v2.1h-2.2zM24.8 94.6h2.9v2.4h-2.9zM37.3 18.8h2.2v2.1h-2.2zM63.3 1.3h1.8v2.3h-1.8zM51.8 6.7h2.4v2.1h-2.4zM88.2 11.2h2.6v1.2h-2.6zM62.0 52.6h1.5v1.3h-1.5zM40.6 68.6h3.0v1.4h-3.0zM26.8 66.8h2.2v1.9h-2.2zM82.6 72.9h2.1v1.5h-2.1zM67.1 58.3h2.5v1.7h-2.5zM70.9 22.7h2.7v1.6h-2.7zM40.9 4.8h2.7v1.8h-2.7zM61.6 31.9h1.6v1.8h-1.6zM49.6 18.7h2.7v1.1h-2.7zM83.0 88.6h1.7v2.3h-1.7zM91.1 34.3h2.2v2.2h-2.2zM5.9 79.1h1.5v1.9h-1.5zM4.5 43.9h2.6v1.8h-2.6zM35.1 25.6h1.6v1.4h-1.6zM20.7 22.8h1.7v1.3h-1.7zM39.5 9.8h2.6v1.4h-2.6zM75.3 54.5h2.6v2.0h-2.6zM34.7 66.0h1.6v2.2h-1.6zM69.8 89.6h2.0v1.3h-2.0zM71.0 17.5h2.8v1.5h-2.8zM83.5 7.2h1.9v2.1h-1.9zM7.4 70.6h2.1v1.8h-2.1zM17.2 23.5h2.8v2.0h-2.8zM11.1 8.0h1.7v1.3h-1.7zM27.4 51.0h2.0v2.3h-2.0zM7.7 48.4h2.4v2.1h-2.4zM46.2 61.1h1.7v1.4h-1.7zM83.1 2.3h2.3v2.3h-2.3zM89.4 18.5h3.0v1.7h-3.0zM12.6 78.8h2.3v2.4h-2.3zM12.1 81.7h2.0v1.1h-2.0zM15.4 75.2h2.9v2.0h-2.9zM63.9 41.3h2.0v1.6h-2.0zM7.0 13.6h1.9v2.3h-1.9zM88.3 27.1h2.9v1.2h-2.9zM64.0 10.9h2.4v2.4h-2.4zM71.4 66.3h2.5v2.2h-2.5zM48.0 86.5h2.6v2.0h-2.6zM23.0 76.6h2.9v1.1h-2.9zM43.2 67.1h2.7v2.1h-2.7zM30.8 45.6h2.6v2.4h-2.6zM11.5 1.5h2.8v1.1h-2.8zM8.2 35.4h1.5v2.3h-1.5zM2.6 7.2h2.2v1.6h-2.2zM72.8 83.8h1.5v2.3h-1.5zM6.6 35.9h1.9v1.3h-1.9zM7.7 77.8h2.0v1.5h-2.0zM86.5 37.9h1.7v1.2h-1.7zM34.9 5.9h2.5v1.5h-2.5zM65.9 42.7h1.6v2.4h-1.6zM72.6 56.7h1.7v1.9h-1.7zM51.6 68.9h1.6v1.9h-1.6zM92.1 78.1h2.5v1.3h-2.5zM61.0 66.2h1.9v2.3h-1.9zM27.7 6.2h2.2v2.3h-2.2zM68.1 25.2h2.1v2.3h-2.1zM90.9 43.6h2.2v1.4h-2.2zM65.4 86.3h2.0v2.2h-2.0zM48.4 67.1h2.6v1.9h-2.6zM16.9 93.7h1.6v1.3h-1.6zM10.8 65.4h2.2v2.4h-2.2zM16.5 8.5h1.5v1.5h-1.5zM78.8 34.8h2.3v1.4h-2.3zM27.5 70.8h1.5v1.8h-1.5zM91.4 30.5h2.2v1.9h-2.2zM28.1 18.7h2.8v1.1h-2.8zM22.5 46.3h1.6v1.1h-1.6zM84.5 78.0h2.3v2.3h-2.3zM79.9 71.3h2.0v2.0h-2.0zM33.5 33.7h1.8v1.1h-1.8zM77.2 75.3h2.8v1.6h-2.8zM68.0 58.1h1.9v1.7h-1.9zM10.7 79.7h2.6v1.1h-2.6zM68.3 68.6h1.6v2.4h-1.6zM94.9 47.3h2.1v1.1h-2.1zM74.2 70.5h1.8v1.1h-1.8zM39.1 77.2h2.0v1.9h-2.0zM66.6 17.6h2.4v1.2h-2.4zM77.8 46.3h2.8v1.6h-2.8zM38.9 42.8h2.2v2.1h-2.2zM29.1 1.5h2.5v1.3h-2.5zM14.8 33.1h2.2v1.4h-2.2zM88.5 29.8h2.9v1.4h-2.9zM1.4 81.4h2.1v1.1h-2.1zM60.1 76.1h2.1v2.0h-2.1zM94.6 26.6h2.4v2.4h-2.4zM28.3 80.9h1.6v2.0h-1.6zM51.7 72.5h2.3v2.0h-2.3zM10.2 83.9h2.3v2.0h-2.3zM73.8 48.8h2.8v2.0h-2.8zM24.7 8.7h2.6v2.3h-2.6zM32.6 31.1h2.5v2.3h-2.5zM59.7 7.6h2.2v1.7h-2.2zM19.5 62.3h2.3v1.6h-2.3zM59.1 11.4h2.9v1.5h-2.9zM32.7 85.8h2.4v2.4h-2.4zM76.3 72.3h2.9v2.0h-2.9zM6.0 54.0h2.2v1.8h-2.2zM94.4 94.8h2.6v2.2h-2.6zM0.4 43.5h2.2v1.4h-2.2zM89.4 2.7h2.8v2.4h-2.8zM32.8 2.6h2.1v1.2h-2.1zM92.3 50.7h1.8v2.0h-1.8zM50.0 53.7h1.8v2.4h-1.8zM85.0 86.0h2.7v2.3h-2.7zM22.6 75.2h2.1v1.3h-2.1zM69.2 49.4h1.9v1.8h-1.9zM39.1 56.4h2.6v2.1h-2.6zM27.3 34.8h1.8v2.3h-1.8zM94.9 22.3h2.1v1.7h-2.1zM11.0 62.2h2.5v1.3h-2.5zM28.3 65.4h2.9v1.2h-2.9zM70.0 84.2h2.6v2.4h-2.6zM24.6 18.4h3.0v1.7h-3.0zM66.5 51.6h2.4v1.1h-2.4zM6.5 8.5h2.8v1.2h-2.8zM36.1 12.8h2.5v2.0h-2.5zM77.7 71.9h2.7v1.3h-2.7zM43.4 93.9h2.2v2.2h-2.2zM53.0 30.4h2.9v1.1h-2.9zM62.4 73.9h2.7v1.1h-2.7zM59.6 30.3h2.5v1.1h-2.5zM45.5 47.5h1.9v1.4h-1.9zM71.4 55.5h2.1v1.7h-2.1zM60.5 58.1h2.5v2.3h-2.5zM94.7 13.3h2.2v1.8h-2.2zM12.2 25.7h1.8v1.6h-1.8zM32.5 7.7h2.6v2.1h-2.6zM22.0 15.6h2.0v2.0h-2.0zM11.4 68.4h2.9v1.4h-2.9zM22.3 57.1h2.8v1.3h-2.8zM5.7 41.1h2.1v1.2h-2.1zM77.9 6.2h2.5v1.4h-2.5zM10.8 37.0h2.1v1.5h-2.1zM61.4 45.3h2.0v1.3h-2.0zM58.0 82.2h2.8v1.4h-2.8zM65.7 33.5h2.5v1.1h-2.5zM74.2 40.7h2.6v2.2h-2.6zM12.5 81.4h2.9v1.4h-2.9zM63.6 84.2h1.6v1.9h-1.6zM29.9 46.5h1.8v1.6h-1.8zM86.7 26.7h2.1v1.2h-2.1zM35.9 19.6h2.0v1.6h-2.0zM51.2 60.3h2.4v1.1h-2.4zM47.4 95.1h2.8v1.9h-2.8zM66.8 31.9h1.5v1.4h-1.5zM90.7 38.2h2.2v1.5h-2.2zM2.1 53.3h1.6v2.1h-1.6zM55.6 11.3h1.8v1.1h-1.8zM15.7 28.3h2.1v1.6h-2.1zM5.1 91.3h2.1v2.4h-2.1zM17.9 65.3h2.8v1.6h-2.8zM72.4 25.7h2.6v1.3h-2.6zM82.2 89.8h1.9v1.4h-1.9zM69.2 31.9h2.4v1.6h-2.4zM90.1 60.3h2.8v1.8h-2.8zM55.7 78.1h2.8v2.1h-2.8zM42.2 61.5h2.6v1.3h-2.6zM11.6 59.7h1.9v2.0h-1.9zM1.4 66.6h1.6v1.1h-1.6zM16.5 33.6h1.7v1.9h-1.7zM83.9 59.6h1.8v2.3h-1.8zM94.1 39.4h2.9v1.9h-2.9zM0.3 3.2h1.7v2.4h-1.7zM18.6 86.5h2.6v2.3h-2.6zM62.5 23.6h2.7v1.1h-2.7zM33.1 33.7h2.7v1.6h-2.7zM13.6 12.5h1.8v1.6h-1.8zM51.0 0.1h3.0v1.9h-3.0zM25.5 59.1h3.0v1.2h-3.0zM7.0 24.8h2.4v2.3h-2.4zM52.5 10.2h2.5v2.3h-2.5zM64.7 19.3h2.4v1.9h-2.4zM62.6 31.0h2.3v1.6h-2.3zM71.6 14.0h2.6v2.3h-2.6zM41.0 25.2h1.9v1.5h-1.9zM60.1 50.5h1.8v1.7h-1.8zM22.4 21.4h2.0v2.0h-2.0zM43.2 23.1h1.5v1.3h-1.5zM58.2 61.7h1.8v1.5h-1.8zM65.1 9.8h2.4v1.7h-2.4zM27.5 54.6h1.7v1.7h-1.7zM35.2 17.8h2.1v2.3h-2.1zM81.3 49.7h2.7v2.0h-2.7zM47.0 21.6h1.9v1.6h-1.9zM10.6 56.7h2.2v2.0h-2.2zM3.1 88.2h2.5v1.8h-2.5zM29.1 69.5h1.8v2.3h-1.8zM18.3 48.0h1.9v2.4h-1.9zM22.8 57.5h1.6v2.3h-1.6zM90.4 67.6h1.6v1.4h-1.6z" fill="#1f66f4"/></pattern><pattern id="bsp2" width="60" height="60" patternUnits="userSpaceOnUse"><rect width="60" height="60" fill="#1d48d0"/><path d="M14.3 32.7h1.2v1.2h-1.2zM37.5 3.9h0.8v1.4h-0.8zM15.6 14.1h2.0v1.0h-2.0zM50.2 28.6h1.6v0.7h-1.6zM38.1 52.1h1.4v1.3h-1.4zM40.3 3.8h1.7v1.2h-1.7zM18.1 1.9h1.8v1.1h-1.8zM43.1 52.7h1.7v1.5h-1.7zM23.7 48.1h1.3v1.5h-1.3zM52.7 5.8h1.0v0.8h-1.0zM57.9 26.2h1.6v0.9h-1.6zM30.4 23.2h1.2v1.2h-1.2zM35.1 54.3h1.6v1.5h-1.6zM51.4 59.3h1.6v0.7h-1.6zM51.6 57.9h1.9v1.2h-1.9zM42.8 12.7h1.8v1.2h-1.8zM17.1 3.8h1.8v1.6h-1.8zM5.3 48.0h1.3v0.7h-1.3zM17.6 46.1h1.8v0.6h-1.8zM36.9 2.7h1.7v0.9h-1.7zM52.9 58.4h1.4v1.6h-1.4zM18.6 4.6h1.5v0.6h-1.5zM11.8 24.5h1.5v0.7h-1.5zM2.5 52.1h1.2v1.6h-1.2zM53.8 22.7h1.4v1.1h-1.4zM38.6 35.7h1.5v1.2h-1.5zM56.4 30.4h1.3v1.3h-1.3zM14.3 18.1h2.0v1.1h-2.0zM32.9 0.7h1.3v1.2h-1.3zM1.2 36.9h1.6v0.6h-1.6zM37.6 28.0h1.6v0.9h-1.6zM42.4 44.3h0.8v0.6h-0.8zM40.6 57.8h1.1v1.0h-1.1zM35.6 19.2h1.2v0.9h-1.2zM22.1 35.7h1.2v1.0h-1.2zM46.3 1.6h1.5v1.3h-1.5zM18.6 13.4h1.8v0.8h-1.8zM11.2 26.1h1.6v0.7h-1.6zM19.3 20.0h1.8v1.0h-1.8zM51.3 10.2h1.2v1.2h-1.2zM53.1 27.1h1.1v0.7h-1.1zM31.8 11.4h1.8v1.4h-1.8zM11.0 16.7h1.8v1.2h-1.8zM48.4 20.7h1.0v0.9h-1.0zM47.6 16.3h1.2v1.0h-1.2zM25.2 24.6h1.9v0.7h-1.9zM0.3 56.6h1.9v1.6h-1.9zM26.1 57.0h1.9v0.8h-1.9zM44.7 50.2h1.6v1.1h-1.6zM17.3 20.5h1.1v0.6h-1.1zM35.3 17.2h1.8v0.6h-1.8zM54.2 41.6h1.9v1.5h-1.9zM54.0 34.6h0.8v1.3h-0.8zM10.3 18.0h1.6v1.1h-1.6zM24.8 56.3h1.5v0.9h-1.5zM15.1 51.7h1.4v1.4h-1.4zM21.1 11.8h1.4v1.4h-1.4zM10.3 47.5h1.9v1.4h-1.9zM49.4 0.5h1.6v1.5h-1.6zM3.0 16.3h1.1v1.1h-1.1zM25.4 28.4h1.7v0.6h-1.7zM3.3 7.6h0.9v0.6h-0.9zM58.5 51.3h0.9v1.1h-0.9zM19.0 18.9h1.2v1.2h-1.2zM35.2 21.7h1.0v0.9h-1.0zM7.4 33.3h1.7v1.0h-1.7zM4.8 10.7h1.2v1.2h-1.2zM47.0 22.8h1.8v1.2h-1.8zM25.9 22.3h1.4v1.3h-1.4zM25.2 41.6h1.4v0.8h-1.4z" fill="#ffffff"/><path d="M32.2 41.7h1.6v1.6h-1.6zM25.6 52.8h2.9v1.6h-2.9zM53.9 47.5h1.9v1.7h-1.9zM7.4 48.8h2.5v2.2h-2.5zM47.5 40.1h2.6v1.8h-2.6zM6.2 35.3h1.5v1.2h-1.5zM46.5 2.7h1.6v1.2h-1.6zM52.8 10.7h1.5v2.2h-1.5zM7.3 50.6h2.5v2.2h-2.5zM57.1 34.7h2.7v1.1h-2.7zM46.0 30.7h2.6v1.2h-2.6zM44.9 56.1h1.6v1.5h-1.6zM33.8 49.7h1.9v1.3h-1.9zM15.0 37.0h2.6v1.6h-2.6zM22.0 23.8h2.0v1.6h-2.0zM5.0 30.0h3.0v1.6h-3.0zM44.8 9.6h2.5v2.1h-2.5zM40.4 31.0h2.2v1.9h-2.2zM53.8 9.0h1.6v2.1h-1.6zM55.0 31.0h2.2v2.0h-2.2zM11.2 16.0h1.8v1.8h-1.8zM18.9 13.9h2.5v2.3h-2.5zM17.8 42.3h2.1v2.2h-2.1zM35.1 16.0h1.8v1.1h-1.8zM28.8 23.0h1.8v1.5h-1.8zM19.3 46.5h1.7v2.4h-1.7zM28.8 35.9h2.2v2.2h-2.2zM49.3 33.4h2.2v2.0h-2.2zM51.4 24.0h2.6v2.3h-2.6zM28.0 13.8h1.9v2.0h-1.9zM40.5 57.5h2.8v1.4h-2.8zM11.4 15.5h1.8v2.0h-1.8zM51.5 54.0h1.9v2.2h-1.9zM18.8 25.4h2.6v1.2h-2.6zM5.6 50.0h1.9v1.5h-1.9zM34.8 40.5h1.5v1.5h-1.5zM26.2 29.2h1.8v1.8h-1.8zM57.3 23.5h2.3v1.2h-2.3zM16.5 39.9h1.7v2.2h-1.7zM54.5 5.8h2.9v1.6h-2.9zM46.3 45.4h1.9v2.0h-1.9zM39.2 48.4h1.9v2.1h-1.9zM57.7 40.4h2.3v1.2h-2.3zM29.6 21.1h2.6v2.0h-2.6zM34.0 10.9h2.5v1.9h-2.5zM10.7 53.4h2.5v1.2h-2.5zM55.9 8.5h2.0v2.0h-2.0zM35.8 33.3h2.5v1.7h-2.5zM18.7 10.6h1.6v2.0h-1.6zM45.3 32.6h2.6v1.5h-2.6zM16.0 23.0h2.8v1.1h-2.8zM30.3 14.8h2.7v1.5h-2.7zM20.0 24.2h2.3v2.1h-2.3zM21.2 50.8h1.7v1.4h-1.7zM6.0 6.8h2.7v2.0h-2.7zM11.1 11.4h2.1v2.1h-2.1zM48.9 44.9h2.4v1.2h-2.4zM23.9 11.6h2.3v1.8h-2.3zM12.1 15.0h2.7v1.1h-2.7zM48.2 53.5h2.9v1.6h-2.9zM33.2 35.0h2.5v2.4h-2.5zM41.2 18.0h2.8v1.7h-2.8zM36.1 43.6h1.5v2.1h-1.5zM39.7 29.5h2.3v1.7h-2.3zM11.6 31.8h1.6v1.7h-1.6zM38.8 26.7h2.3v2.3h-2.3zM53.5 8.1h2.7v1.9h-2.7zM3.0 21.6h1.9v1.2h-1.9zM32.3 55.8h2.0v2.2h-2.0zM41.7 8.1h2.8v1.9h-2.8zM55.6 43.0h2.6v1.5h-2.6zM48.4 55.9h2.8v1.6h-2.8zM45.4 29.1h1.7v1.1h-1.7zM4.7 12.0h1.7v1.7h-1.7zM42.0 32.2h2.1v1.9h-2.1zM18.3 27.9h2.6v1.6h-2.6zM10.8 54.0h2.6v1.5h-2.6zM22.3 31.8h2.4v1.4h-2.4zM0.2 12.5h2.7v1.2h-2.7zM27.6 11.7h1.8v1.3h-1.8zM24.2 10.1h1.5v1.2h-1.5zM10.1 29.4h1.6v1.1h-1.6zM26.9 24.5h2.6v1.1h-2.6zM24.2 23.8h1.5v2.4h-1.5zM13.1 5.7h2.2v1.3h-2.2zM37.3 20.8h1.7v1.1h-1.7zM43.7 16.5h2.7v1.7h-2.7zM56.0 18.0h1.9v1.4h-1.9zM48.9 37.7h2.0v1.2h-2.0zM40.9 58.2h2.4v1.1h-2.4z" fill="#3a86e8"/><path d="M1.8 5.4h1.2v0.7h-1.2zM3.2 39.3h2.1v0.9h-2.1zM58.0 28.6h2.0v1.7h-2.0zM56.4 2.1h1.4v1.3h-1.4zM56.8 5.3h1.4v1.6h-1.4zM6.9 23.4h1.4v1.4h-1.4zM55.7 10.5h1.9v1.5h-1.9zM50.1 33.2h2.1v1.1h-2.1zM24.9 13.8h1.9v1.2h-1.9zM16.2 10.2h1.9v1.3h-1.9zM42.6 23.2h1.6v0.9h-1.6zM42.6 1.4h1.6v1.5h-1.6zM40.6 5.8h1.3v1.6h-1.3zM38.5 52.7h2.0v1.2h-2.0zM53.8 44.0h1.4v1.1h-1.4zM4.3 24.0h2.1v0.8h-2.1zM34.1 6.6h1.1v1.4h-1.1zM14.4 2.9h1.2v1.4h-1.2zM35.1 0.7h1.3v1.7h-1.3zM13.2 33.7h1.5v1.5h-1.5zM36.3 47.3h1.6v0.9h-1.6zM10.7 4.7h2.0v0.8h-2.0zM1.4 58.0h1.2v1.6h-1.2zM5.1 27.9h1.3v1.6h-1.3zM36.9 38.5h1.9v1.6h-1.9zM20.8 36.2h1.5v0.8h-1.5zM50.1 35.7h2.0v0.9h-2.0zM32.4 27.9h1.9v0.8h-1.9zM20.8 29.1h1.1v1.3h-1.1zM44.1 25.4h1.8v1.3h-1.8zM12.9 21.0h2.2v1.1h-2.2zM25.8 5.1h1.3v0.9h-1.3zM55.9 43.6h2.0v1.7h-2.0zM36.7 55.9h1.6v1.1h-1.6zM56.9 54.2h2.1v1.2h-2.1zM46.4 24.4h2.2v1.7h-2.2zM17.5 56.1h1.2v0.8h-1.2zM43.3 17.7h1.6v1.4h-1.6zM2.4 44.7h1.3v1.2h-1.3zM20.7 44.5h1.9v1.0h-1.9zM6.2 18.0h1.5v0.8h-1.5zM9.2 45.8h1.8v1.7h-1.8zM58.6 52.6h1.4v0.9h-1.4zM18.7 27.8h1.6v1.3h-1.6zM21.6 51.2h1.3v1.2h-1.3zM53.2 48.4h1.4v1.0h-1.4zM48.4 0.6h1.2v1.3h-1.2zM32.2 9.9h1.1v0.9h-1.1zM46.2 27.9h2.2v1.5h-2.2zM58.8 2.1h1.2v0.7h-1.2zM25.9 20.3h1.1v1.3h-1.1zM5.6 18.7h1.3v1.6h-1.3zM25.1 15.6h1.1v1.2h-1.1zM37.6 40.5h2.1v1.6h-2.1zM14.8 8.1h1.9v1.5h-1.9zM30.5 49.9h1.7v1.0h-1.7zM10.1 1.0h1.8v1.7h-1.8zM54.4 28.0h1.8v1.7h-1.8zM48.8 36.2h1.5v1.2h-1.5zM10.2 11.0h1.8v1.8h-1.8z" fill="#0c2a9a"/></pattern><pattern id="hsp" width="60" height="60" patternUnits="userSpaceOnUse"><rect width="60" height="60" fill="#3674cc"/><path d="M14.2 6.2h1.6v0.9h-1.6zM4.0 24.1h2.5v1.8h-2.5zM45.9 13.3h1.9v1.1h-1.9zM10.4 6.4h1.3v2.0h-1.3zM49.7 48.4h2.3v1.0h-2.3zM18.6 37.6h2.2v1.9h-2.2zM52.8 5.2h2.0v1.6h-2.0zM30.4 10.7h1.8v0.8h-1.8zM56.1 51.9h1.9v1.1h-1.9zM54.5 34.3h2.4v1.9h-2.4zM30.5 24.8h2.0v1.3h-2.0zM9.7 18.3h2.3v0.8h-2.3zM2.8 37.6h1.4v1.4h-1.4zM28.3 20.6h2.6v1.0h-2.6zM24.8 12.2h2.0v1.1h-2.0zM21.3 44.8h1.5v1.5h-1.5zM54.3 6.1h1.1v1.0h-1.1zM45.9 36.9h1.4v1.2h-1.4zM10.7 27.5h1.1v1.7h-1.1zM53.8 57.3h2.2v2.0h-2.2zM1.1 17.3h2.5v1.8h-2.5zM24.6 56.6h2.0v1.8h-2.0zM17.6 11.5h1.7v0.9h-1.7zM22.9 57.7h1.5v0.7h-1.5zM2.7 10.2h2.3v1.2h-2.3zM17.4 5.8h2.6v1.3h-2.6zM12.5 3.6h1.1v0.9h-1.1zM40.6 9.0h1.1v1.4h-1.1zM14.9 58.6h1.2v1.4h-1.2zM46.4 24.6h2.6v1.4h-2.6zM14.5 24.6h1.1v1.3h-1.1zM14.9 53.4h2.3v1.4h-2.3zM1.9 15.3h1.4v1.0h-1.4zM13.9 52.2h1.2v0.8h-1.2zM55.7 33.9h2.6v1.3h-2.6zM54.1 39.2h2.3v1.7h-2.3zM29.7 5.6h1.3v1.9h-1.3zM54.0 55.5h1.5v1.6h-1.5zM48.0 38.5h2.3v1.4h-2.3zM39.3 41.2h1.4v2.0h-1.4zM57.4 4.5h2.6v2.0h-2.6zM40.1 2.7h2.4v0.9h-2.4zM58.1 40.0h1.1v0.9h-1.1zM38.1 34.2h2.2v2.0h-2.2zM13.1 0.2h2.5v0.7h-2.5zM52.6 7.0h2.3v1.8h-2.3zM52.7 33.0h2.4v1.0h-2.4zM40.3 19.8h2.4v1.8h-2.4zM28.3 31.6h1.0v0.7h-1.0zM35.7 29.3h2.4v1.5h-2.4zM8.3 21.8h2.2v1.4h-2.2zM0.6 50.3h2.3v0.8h-2.3zM32.6 22.9h2.3v1.1h-2.3zM14.0 29.2h2.5v0.8h-2.5zM6.9 37.3h2.4v1.4h-2.4zM26.0 51.5h2.2v0.8h-2.2zM52.9 11.8h1.5v1.9h-1.5zM25.3 47.9h1.3v1.9h-1.3zM10.6 9.0h1.8v1.2h-1.8zM32.5 54.2h2.1v0.7h-2.1zM18.7 32.7h1.8v1.7h-1.8zM29.1 4.5h1.4v1.9h-1.4zM21.4 46.0h2.6v1.6h-2.6zM40.6 36.6h1.5v2.0h-1.5zM28.0 54.7h1.5v1.9h-1.5zM47.2 36.8h1.7v0.9h-1.7zM46.3 21.7h2.1v0.9h-2.1zM5.0 8.6h2.3v0.9h-2.3zM54.1 22.3h1.9v1.2h-1.9zM37.2 5.6h1.6v2.0h-1.6zM10.8 39.3h1.5v1.1h-1.5zM1.4 1.2h2.5v1.8h-2.5zM48.1 48.4h2.5v0.9h-2.5zM35.1 29.7h1.9v2.0h-1.9zM45.6 58.1h1.2v1.6h-1.2zM40.5 44.7h2.0v1.8h-2.0zM18.2 55.7h1.6v1.5h-1.6zM53.8 42.2h1.5v1.0h-1.5zM19.6 37.6h2.6v1.9h-2.6zM24.0 24.0h2.3v1.1h-2.3zM24.7 0.8h1.3v1.4h-1.3zM41.6 36.9h1.6v2.0h-1.6zM37.4 9.4h1.1v2.0h-1.1zM58.0 55.2h2.0v1.1h-2.0zM5.5 15.5h1.4v2.0h-1.4zM53.6 46.7h1.2v1.0h-1.2zM18.0 56.9h1.3v1.8h-1.3zM40.8 32.8h2.5v1.1h-2.5zM31.5 9.5h1.2v0.7h-1.2zM19.0 7.3h1.1v2.1h-1.1zM17.3 53.4h2.1v1.7h-2.1zM39.3 57.2h2.4v1.7h-2.4zM33.6 41.6h2.2v1.5h-2.2zM30.2 9.3h2.4v1.4h-2.4zM4.1 10.1h2.4v1.1h-2.4zM23.5 40.9h2.4v1.2h-2.4zM23.2 25.4h1.0v1.9h-1.0zM1.1 57.6h1.2v0.9h-1.2zM50.9 49.4h1.4v1.5h-1.4zM28.6 43.1h1.3v1.8h-1.3zM57.5 42.4h2.5v2.0h-2.5zM22.8 50.9h2.3v1.5h-2.3zM6.4 37.2h2.5v1.1h-2.5zM38.8 53.8h2.0v0.8h-2.0zM37.9 15.3h2.4v1.6h-2.4zM18.4 53.7h2.0v1.2h-2.0zM50.1 53.5h2.4v1.9h-2.4zM39.5 41.9h2.0v1.4h-2.0zM58.9 21.2h1.1v1.7h-1.1zM29.9 32.7h2.0v1.0h-2.0zM12.1 4.3h2.3v2.0h-2.3zM41.8 7.0h2.6v1.8h-2.6zM30.6 0.1h2.4v1.6h-2.4zM37.3 1.1h2.2v0.7h-2.2zM28.7 8.7h1.6v1.9h-1.6zM44.9 49.0h1.5v1.2h-1.5zM36.3 2.0h1.7v2.0h-1.7zM45.2 51.8h1.5v1.7h-1.5zM47.3 42.3h1.7v0.9h-1.7zM1.1 53.2h2.5v1.1h-2.5zM45.3 24.4h2.0v1.9h-2.0zM19.3 37.2h1.4v1.4h-1.4zM1.8 15.8h1.5v2.0h-1.5zM7.9 45.5h1.1v2.1h-1.1zM10.0 5.5h1.3v2.0h-1.3zM40.1 53.4h1.8v0.9h-1.8zM20.4 27.3h2.6v0.9h-2.6zM14.6 50.6h1.2v2.0h-1.2zM17.8 34.0h2.1v2.0h-2.1zM4.5 50.8h1.3v1.7h-1.3zM1.6 46.0h1.3v1.0h-1.3zM2.1 19.5h1.5v2.1h-1.5zM36.4 21.9h2.6v0.9h-2.6zM12.9 57.4h2.5v1.6h-2.5zM57.6 3.4h2.4v1.7h-2.4zM40.1 50.6h1.2v1.0h-1.2zM8.3 28.7h1.9v1.4h-1.9zM21.7 44.6h2.3v1.7h-2.3zM2.3 9.2h1.4v1.0h-1.4zM34.4 11.7h2.0v1.2h-2.0zM21.8 42.5h2.5v1.0h-2.5zM20.9 58.9h1.3v0.7h-1.3zM11.5 49.5h2.2v2.0h-2.2zM29.8 2.5h1.5v1.7h-1.5zM23.6 8.4h1.6v1.3h-1.6zM21.4 26.8h1.2v0.7h-1.2zM47.0 43.9h1.7v0.9h-1.7zM17.7 33.5h2.4v1.4h-2.4zM58.4 31.6h1.3v1.5h-1.3zM36.0 36.0h2.2v0.7h-2.2zM26.2 48.0h1.2v0.8h-1.2zM11.0 17.1h1.7v1.1h-1.7zM38.1 10.2h1.6v1.6h-1.6zM32.7 57.5h2.5v1.1h-2.5zM20.1 32.3h1.9v1.2h-1.9zM51.8 11.8h1.8v0.9h-1.8zM53.0 35.7h2.6v0.9h-2.6zM42.7 35.8h1.1v1.8h-1.1zM52.5 4.8h2.5v1.8h-2.5zM36.3 32.6h1.4v0.8h-1.4zM28.5 52.0h1.3v1.4h-1.3zM16.9 41.5h2.5v1.9h-2.5zM17.3 25.0h1.0v1.4h-1.0zM51.2 50.7h1.1v1.3h-1.1zM4.8 25.5h2.5v1.1h-2.5zM50.7 57.3h2.3v1.0h-2.3zM55.1 55.4h2.6v0.7h-2.6zM0.2 17.5h1.8v1.3h-1.8zM5.5 38.4h2.1v1.6h-2.1zM30.6 33.0h2.1v0.8h-2.1zM26.2 8.1h1.2v1.8h-1.2zM19.5 20.4h1.4v1.5h-1.4zM7.1 38.5h1.1v2.0h-1.1zM9.4 46.1h1.9v1.3h-1.9zM18.3 21.6h2.2v1.4h-2.2zM32.2 14.9h2.0v0.9h-2.0zM28.9 39.1h1.9v1.5h-1.9zM34.2 11.6h2.5v1.6h-2.5zM43.5 57.3h1.7v1.2h-1.7zM18.2 19.0h1.5v1.1h-1.5zM12.5 29.0h1.5v1.2h-1.5zM39.8 18.9h2.4v1.8h-2.4zM19.7 50.1h1.3v0.8h-1.3zM59.0 2.0h1.0v1.9h-1.0zM0.2 39.3h1.9v1.0h-1.9zM14.7 58.0h1.6v1.0h-1.6zM26.5 43.9h1.5v0.8h-1.5zM47.4 5.8h1.1v0.7h-1.1zM57.8 26.1h2.2v1.5h-2.2zM58.4 20.6h1.6v1.6h-1.6zM0.0 21.8h2.2v1.5h-2.2zM29.4 56.2h1.7v1.7h-1.7zM23.5 5.2h1.6v1.0h-1.6zM1.6 17.2h1.2v1.3h-1.2zM44.3 45.5h2.4v1.1h-2.4zM40.2 53.3h1.6v2.0h-1.6zM6.2 55.2h2.4v2.1h-2.4zM49.8 42.6h1.7v1.7h-1.7zM52.7 34.6h2.0v2.0h-2.0zM17.1 20.1h1.1v1.9h-1.1zM37.8 40.4h1.4v1.0h-1.4zM28.7 52.6h1.6v1.3h-1.6zM25.1 50.7h1.2v1.9h-1.2zM0.7 41.9h2.2v1.3h-2.2zM44.5 16.8h1.2v1.2h-1.2zM15.9 43.0h1.9v1.6h-1.9zM57.7 46.4h2.3v2.0h-2.3zM55.7 44.5h1.6v1.4h-1.6zM45.3 47.2h2.4v1.7h-2.4zM40.1 15.3h2.0v1.0h-2.0zM38.8 10.6h1.0v2.0h-1.0zM52.2 18.3h1.1v1.8h-1.1zM46.3 9.3h2.3v1.9h-2.3zM34.5 16.4h1.1v0.8h-1.1zM26.5 43.3h2.0v1.0h-2.0zM47.9 3.8h2.0v0.9h-2.0zM0.3 11.6h2.3v1.0h-2.3zM0.8 29.0h1.6v1.5h-1.6zM34.6 42.5h2.5v1.2h-2.5zM38.1 7.1h1.4v0.8h-1.4zM51.7 20.3h2.1v1.9h-2.1zM23.1 12.4h1.4v1.4h-1.4zM23.2 4.2h2.4v1.6h-2.4zM52.3 50.7h2.2v1.8h-2.2zM42.2 25.7h2.3v2.0h-2.3zM6.5 8.7h1.3v1.3h-1.3zM51.9 31.6h2.4v1.2h-2.4zM33.9 14.8h2.0v1.1h-2.0zM0.4 23.9h1.9v1.9h-1.9zM17.2 55.6h2.3v0.9h-2.3zM46.7 56.1h2.5v1.7h-2.5zM23.4 32.6h2.0v1.5h-2.0zM11.3 53.1h1.9v0.8h-1.9zM18.4 4.8h1.7v0.8h-1.7zM31.8 16.7h2.3v1.8h-2.3zM11.3 48.7h1.9v1.1h-1.9zM54.7 0.4h1.6v1.5h-1.6zM9.8 29.5h2.4v1.2h-2.4zM42.5 11.4h2.6v2.0h-2.6zM9.9 45.9h1.5v0.7h-1.5zM12.7 43.7h1.7v1.4h-1.7zM7.7 10.3h1.6v1.4h-1.6zM49.2 27.0h1.5v2.0h-1.5zM41.4 45.4h2.3v1.4h-2.3zM15.6 6.7h2.1v1.7h-2.1zM54.1 55.2h1.8v1.4h-1.8zM57.9 5.1h1.6v1.5h-1.6zM36.1 36.7h1.3v1.4h-1.3zM10.6 23.0h1.3v1.1h-1.3zM37.6 23.9h1.3v1.3h-1.3zM40.2 18.1h1.4v1.3h-1.4zM41.7 2.2h2.1v0.8h-2.1zM53.4 11.5h2.3v0.7h-2.3zM29.6 15.4h2.2v1.8h-2.2zM7.6 3.1h2.2v1.3h-2.2zM22.4 20.9h1.6v1.5h-1.6zM23.3 7.7h1.8v2.1h-1.8zM46.0 43.1h2.5v1.3h-2.5zM21.7 47.6h1.2v1.8h-1.2zM8.9 37.4h1.8v1.8h-1.8zM3.8 40.3h2.3v0.8h-2.3zM41.0 16.8h2.2v2.1h-2.2zM0.2 24.4h1.8v2.1h-1.8zM55.4 1.7h1.2v1.3h-1.2zM48.2 47.4h1.9v2.0h-1.9zM49.2 52.7h2.0v1.1h-2.0zM44.1 43.0h2.5v0.9h-2.5zM1.3 20.5h1.4v1.2h-1.4zM3.6 36.6h1.7v1.1h-1.7zM6.1 34.4h1.2v1.9h-1.2zM16.6 53.9h1.2v1.2h-1.2zM46.7 31.3h1.7v1.9h-1.7zM9.8 51.1h1.8v1.1h-1.8zM21.0 16.7h2.0v1.3h-2.0zM31.1 39.0h2.4v1.7h-2.4zM17.7 39.9h2.1v2.0h-2.1zM23.2 31.9h2.2v1.2h-2.2zM19.6 37.3h1.6v1.9h-1.6zM20.8 13.2h2.0v1.5h-2.0zM58.3 56.5h1.7v1.3h-1.7zM39.1 30.3h1.9v1.3h-1.9zM51.6 53.5h2.3v1.7h-2.3zM53.3 15.3h2.5v1.0h-2.5zM6.1 29.7h1.3v1.1h-1.3zM36.3 8.9h1.6v1.2h-1.6zM56.6 4.7h1.8v1.3h-1.8zM9.7 20.8h1.6v1.2h-1.6zM33.4 33.4h1.7v1.3h-1.7zM36.6 29.1h1.2v1.6h-1.2zM24.5 51.2h1.2v1.5h-1.2zM18.0 38.0h2.3v1.6h-2.3zM34.3 55.9h1.4v2.1h-1.4zM26.3 38.0h1.2v0.7h-1.2zM9.5 32.6h1.4v1.8h-1.4zM9.3 39.8h2.4v1.7h-2.4zM55.4 49.4h2.4v0.8h-2.4zM30.6 17.9h1.7v1.7h-1.7zM43.9 12.2h1.3v0.8h-1.3zM44.4 49.4h1.1v0.9h-1.1zM8.3 58.5h1.1v1.5h-1.1zM52.6 10.2h2.1v1.2h-2.1zM38.5 28.1h1.2v1.9h-1.2zM30.0 58.0h2.0v2.0h-2.0zM39.3 3.5h1.0v2.1h-1.0zM40.0 47.5h2.3v1.2h-2.3zM42.3 38.8h1.1v1.4h-1.1zM55.8 33.4h2.3v0.8h-2.3zM24.9 30.4h1.9v1.9h-1.9zM29.4 34.0h1.8v1.6h-1.8zM34.8 23.7h1.5v1.9h-1.5zM21.3 42.8h1.4v2.1h-1.4zM13.0 25.2h1.6v1.9h-1.6zM43.9 15.7h1.4v1.7h-1.4zM26.8 10.8h1.2v1.7h-1.2zM39.7 48.4h1.1v1.4h-1.1zM8.7 34.2h1.4v1.0h-1.4zM33.7 9.8h2.3v0.9h-2.3zM16.0 45.3h1.4v1.1h-1.4zM47.0 33.8h2.3v1.9h-2.3zM57.8 5.2h1.6v1.3h-1.6zM17.2 52.0h1.6v2.0h-1.6zM4.2 26.7h2.0v1.8h-2.0zM29.0 54.0h1.5v1.2h-1.5zM11.6 11.4h1.8v1.7h-1.8zM11.6 29.3h1.7v2.1h-1.7zM29.6 48.5h1.4v1.9h-1.4zM1.4 9.1h2.0v1.4h-2.0zM31.6 37.3h1.6v1.6h-1.6zM23.8 35.1h2.1v1.1h-2.1zM45.7 49.5h2.6v0.8h-2.6zM25.6 9.8h1.3v1.4h-1.3zM46.7 7.5h2.3v1.9h-2.3zM58.0 45.4h1.3v1.7h-1.3zM34.5 16.4h2.3v1.2h-2.3zM50.4 52.8h1.6v0.9h-1.6zM48.9 9.4h1.2v1.9h-1.2zM14.2 15.6h1.6v1.7h-1.6zM11.7 19.0h1.1v1.1h-1.1zM44.8 38.3h2.0v1.9h-2.0zM1.8 16.9h2.0v1.2h-2.0zM57.5 13.4h2.5v1.7h-2.5zM40.6 56.5h1.7v1.2h-1.7zM26.2 44.1h2.3v1.6h-2.3zM47.5 39.9h2.2v0.9h-2.2zM49.8 32.0h1.5v0.9h-1.5zM36.4 13.2h1.6v1.5h-1.6zM12.5 13.9h1.1v1.2h-1.1zM49.6 14.7h1.4v0.9h-1.4zM36.4 44.5h1.3v1.8h-1.3zM0.6 7.0h1.2v1.8h-1.2zM5.0 43.8h1.3v1.1h-1.3zM6.0 48.7h1.6v2.0h-1.6zM41.6 33.8h1.7v1.5h-1.7zM34.8 58.2h1.4v0.9h-1.4zM58.0 41.3h2.0v1.3h-2.0zM0.8 13.4h2.3v1.1h-2.3zM36.3 29.3h1.3v0.8h-1.3zM3.9 42.8h1.4v1.4h-1.4zM34.6 45.6h1.3v1.3h-1.3zM45.3 39.9h1.8v1.6h-1.8z" fill="#ffffff"/><path d="M47.2 52.6h1.7v0.8h-1.7zM7.8 39.9h2.0v1.2h-2.0zM41.8 13.1h1.6v1.2h-1.6zM45.0 57.9h1.4v0.8h-1.4zM22.2 52.0h2.4v0.8h-2.4zM20.2 28.6h2.3v1.4h-2.3zM25.7 58.2h2.0v1.8h-2.0zM48.6 58.3h2.0v1.7h-2.0zM30.2 40.7h2.3v1.9h-2.3zM54.0 40.5h1.7v1.2h-1.7zM23.5 57.1h1.9v1.7h-1.9zM40.0 6.0h1.6v1.1h-1.6zM58.1 41.3h1.5v1.3h-1.5zM53.6 31.7h2.0v1.1h-2.0zM25.6 46.0h1.3v1.5h-1.3zM50.5 58.6h1.7v1.4h-1.7zM57.8 47.6h2.2v1.3h-2.2zM7.9 49.6h1.1v1.6h-1.1zM17.5 48.5h1.9v1.3h-1.9zM28.8 17.9h2.4v1.4h-2.4zM57.6 7.2h1.0v0.9h-1.0zM19.2 58.7h1.2v1.3h-1.2zM51.4 18.3h1.4v1.0h-1.4zM3.3 34.9h1.8v1.0h-1.8zM33.7 30.1h2.0v1.0h-2.0zM13.6 52.6h2.0v1.6h-2.0zM20.6 35.0h1.5v1.5h-1.5zM57.4 29.3h1.6v1.6h-1.6zM29.8 22.0h1.0v1.7h-1.0zM30.6 50.9h1.5v1.8h-1.5zM48.4 14.0h2.1v0.8h-2.1zM38.7 46.8h2.0v1.1h-2.0zM21.1 10.9h2.3v1.4h-2.3zM46.9 29.4h1.6v1.8h-1.6zM56.1 44.5h1.9v1.8h-1.9zM19.4 19.2h2.1v1.5h-2.1zM45.9 42.9h1.6v0.8h-1.6zM46.4 52.2h1.7v1.1h-1.7zM50.7 11.3h1.3v1.4h-1.3zM28.8 45.6h1.0v1.8h-1.0zM16.8 29.9h1.0v1.2h-1.0zM30.4 56.8h1.3v0.9h-1.3zM51.9 55.3h1.7v1.3h-1.7zM52.8 27.7h1.6v1.2h-1.6zM14.6 16.5h1.5v0.8h-1.5zM27.8 46.8h2.2v0.9h-2.2zM21.9 52.2h2.3v1.1h-2.3zM10.7 50.4h1.4v1.5h-1.4zM55.5 15.1h1.4v1.4h-1.4zM5.1 30.4h1.8v1.2h-1.8zM44.4 40.0h1.8v1.7h-1.8zM8.6 10.7h1.4v0.9h-1.4zM53.9 51.0h2.3v1.2h-2.3zM51.1 56.1h2.1v1.7h-2.1zM41.1 0.7h1.5v1.0h-1.5zM31.8 33.8h2.3v1.0h-2.3zM57.9 9.1h2.1v1.1h-2.1zM33.8 37.0h1.1v1.4h-1.1zM39.6 15.6h1.1v1.4h-1.1zM15.6 10.6h1.3v1.4h-1.3zM28.1 23.0h1.2v1.0h-1.2zM36.8 24.0h1.3v1.7h-1.3zM32.8 20.7h2.4v1.4h-2.4zM9.2 28.7h1.4v1.7h-1.4zM46.8 4.5h1.2v1.5h-1.2zM30.2 18.7h1.7v0.9h-1.7zM28.1 34.0h2.3v1.4h-2.3zM34.6 2.3h1.7v1.4h-1.7zM39.9 18.8h2.3v1.6h-2.3zM43.3 58.7h2.3v0.9h-2.3zM53.9 31.8h1.8v0.7h-1.8zM4.0 47.8h1.5v1.9h-1.5zM56.8 32.4h1.8v1.4h-1.8zM32.3 48.7h2.4v1.1h-2.4zM24.9 23.5h1.1v0.9h-1.1zM10.9 44.6h1.3v1.4h-1.3zM57.6 24.5h2.4v1.0h-2.4zM21.3 8.6h1.2v1.2h-1.2zM46.5 39.3h1.3v0.8h-1.3zM4.5 19.8h1.8v0.7h-1.8zM6.3 40.0h1.3v0.8h-1.3zM48.6 4.5h2.0v0.8h-2.0zM51.7 28.4h1.5v1.0h-1.5zM49.2 25.0h1.8v1.1h-1.8zM10.8 18.5h1.4v1.6h-1.4zM49.4 46.5h1.4v1.1h-1.4zM56.6 27.7h1.8v0.8h-1.8zM46.6 26.6h1.3v1.3h-1.3zM12.1 21.1h1.5v1.2h-1.5zM20.3 10.1h2.2v1.3h-2.2zM22.7 37.7h1.1v1.1h-1.1zM21.4 28.9h2.2v1.2h-2.2zM24.5 36.1h2.1v1.1h-2.1zM40.7 21.8h1.0v0.8h-1.0zM3.0 23.5h1.3v1.4h-1.3zM44.1 27.1h2.0v1.1h-2.0zM11.3 49.5h1.8v1.0h-1.8zM21.5 53.0h1.1v1.7h-1.1zM6.9 52.7h1.7v0.9h-1.7zM16.5 23.6h1.8v1.7h-1.8zM50.6 13.2h1.8v1.6h-1.8zM11.4 48.5h1.3v1.4h-1.3zM29.9 32.1h2.2v0.9h-2.2zM15.6 57.9h1.9v1.8h-1.9zM13.8 19.2h1.8v1.6h-1.8zM30.7 4.5h1.6v1.6h-1.6zM52.9 5.4h1.5v1.8h-1.5zM44.0 37.0h1.2v1.3h-1.2zM25.1 30.1h1.7v0.8h-1.7zM48.7 26.4h1.3v1.5h-1.3z" fill="#8ad0f0"/><path d="M19.4 7.6h1.6v0.7h-1.6zM55.0 34.2h1.3v1.5h-1.3zM34.9 0.8h1.7v0.7h-1.7zM16.6 34.2h1.7v1.6h-1.7zM49.1 10.7h1.5v0.8h-1.5zM42.2 25.6h1.7v0.8h-1.7zM29.6 26.2h1.0v1.3h-1.0zM58.0 44.8h2.0v0.8h-2.0zM38.4 35.0h1.5v1.4h-1.5zM24.7 5.2h1.6v1.5h-1.6zM22.2 37.7h1.1v1.6h-1.1zM58.4 0.9h1.6v1.5h-1.6zM30.8 4.8h1.7v1.2h-1.7zM20.5 3.5h1.2v1.4h-1.2zM28.2 31.9h1.6v1.0h-1.6zM45.6 43.4h1.0v1.3h-1.0zM1.6 30.3h1.9v1.4h-1.9zM18.2 56.0h1.2v1.3h-1.2zM45.9 2.4h1.3v1.2h-1.3zM58.5 9.9h1.5v1.5h-1.5zM10.3 50.1h1.7v1.4h-1.7zM20.5 36.2h1.1v1.0h-1.1zM48.6 6.8h1.5v0.8h-1.5zM48.4 38.5h1.1v1.5h-1.1zM39.1 38.6h1.1v1.4h-1.1zM41.9 23.1h1.1v1.4h-1.1zM13.2 47.3h1.6v1.0h-1.6zM26.9 16.9h1.5v1.5h-1.5zM33.8 23.3h1.7v1.6h-1.7zM11.0 33.6h1.9v1.2h-1.9zM14.2 11.2h1.7v1.2h-1.7zM4.7 6.4h1.3v1.2h-1.3zM26.4 17.6h1.2v1.2h-1.2zM47.2 22.5h1.5v1.3h-1.5zM21.9 46.4h1.0v0.9h-1.0zM34.6 6.8h1.0v1.3h-1.0zM33.7 39.1h1.8v1.0h-1.8zM54.4 51.5h2.0v1.0h-2.0zM3.8 46.7h1.2v0.8h-1.2zM43.4 41.8h1.7v0.8h-1.7zM42.9 14.7h1.5v1.3h-1.5zM21.1 21.5h1.8v1.3h-1.8zM49.9 3.0h1.8v0.9h-1.8zM19.4 39.0h1.8v1.3h-1.8zM30.4 32.2h1.6v0.9h-1.6zM22.3 25.9h1.1v1.1h-1.1zM41.5 0.5h1.3v1.5h-1.3zM54.3 7.5h1.9v1.5h-1.9zM37.9 12.7h1.5v0.8h-1.5zM32.9 6.0h1.4v0.8h-1.4zM40.7 21.0h1.8v1.4h-1.8zM9.4 43.8h1.7v0.9h-1.7zM49.6 3.6h1.3v1.3h-1.3zM48.3 56.7h1.6v1.4h-1.6zM57.0 56.1h1.3v1.1h-1.3zM46.3 31.3h1.1v1.5h-1.1zM23.3 9.4h1.3v0.7h-1.3zM54.8 8.4h1.0v1.6h-1.0zM18.5 37.4h1.4v1.0h-1.4zM55.5 43.9h1.3v1.4h-1.3zM46.2 52.0h1.4v1.1h-1.4zM54.0 27.7h1.4v1.3h-1.4zM41.8 31.2h1.1v1.6h-1.1zM10.9 35.1h1.3v0.7h-1.3zM14.0 24.7h1.0v0.8h-1.0zM31.0 24.2h1.1v1.0h-1.1zM13.5 51.5h1.9v1.5h-1.9zM53.7 28.7h1.2v1.3h-1.2zM13.4 55.3h1.2v1.2h-1.2zM36.9 6.0h1.7v1.1h-1.7zM41.8 32.5h1.8v0.8h-1.8zM13.2 40.8h1.1v1.1h-1.1zM42.7 8.4h1.4v1.3h-1.4zM12.4 18.5h1.5v1.5h-1.5zM31.2 51.1h1.5v0.8h-1.5zM53.7 26.2h1.1v1.2h-1.1zM26.3 0.2h1.3v0.8h-1.3zM23.8 19.3h1.9v0.7h-1.9zM17.9 1.6h1.4v1.0h-1.4zM19.3 11.3h1.3v1.5h-1.3zM54.2 31.6h1.6v0.9h-1.6zM57.1 1.3h1.5v1.2h-1.5zM30.5 55.8h1.6v0.8h-1.6zM6.5 35.6h1.0v1.0h-1.0zM46.7 27.9h2.0v1.1h-2.0zM20.4 5.3h1.5v1.1h-1.5zM43.0 35.0h1.9v1.1h-1.9zM25.3 6.3h1.7v1.0h-1.7zM27.9 39.7h1.5v0.9h-1.5zM40.1 9.0h1.9v1.6h-1.9zM58.6 28.9h1.4v1.2h-1.4zM45.9 13.4h1.6v1.0h-1.6zM22.7 4.1h1.7v1.0h-1.7zM33.5 31.9h1.9v1.4h-1.9zM44.4 56.0h1.8v0.8h-1.8zM52.1 52.7h1.2v1.0h-1.2zM45.8 53.2h1.1v1.4h-1.1zM52.3 26.9h1.2v0.9h-1.2zM14.3 51.1h1.8v0.9h-1.8zM44.7 49.1h1.3v1.5h-1.3zM36.9 3.9h1.4v1.0h-1.4zM11.7 37.6h1.4v1.6h-1.4zM27.0 34.1h1.9v0.7h-1.9zM18.8 54.3h1.7v1.5h-1.7zM4.0 47.5h1.3v1.0h-1.3zM21.3 31.6h1.8v1.3h-1.8zM41.6 13.7h1.7v1.0h-1.7zM49.9 36.6h1.2v1.1h-1.2zM39.9 38.8h1.2v0.9h-1.2zM44.4 5.5h1.5v1.4h-1.5z" fill="#12409a"/></pattern><pattern id="wsp" width="60" height="60" patternUnits="userSpaceOnUse"><path d="M37.4 44.5h2.6v2.3h-2.6zM44.4 55.3h1.3v1.6h-1.3zM56.6 38.9h2.8v1.0h-2.8zM28.1 14.8h2.2v1.7h-2.2zM0.8 13.0h1.7v2.3h-1.7zM45.9 9.6h2.6v1.1h-2.6zM37.0 7.6h1.2v2.2h-1.2zM12.6 12.9h3.0v2.2h-3.0zM17.4 57.7h2.2v1.9h-2.2zM12.3 56.5h2.4v2.3h-2.4zM53.6 17.9h1.9v1.1h-1.9zM8.7 3.9h1.7v1.8h-1.7zM0.2 40.7h1.8v1.3h-1.8zM49.1 28.8h1.8v1.6h-1.8zM42.3 3.4h3.0v0.9h-3.0zM45.0 50.7h1.2v2.1h-1.2zM22.0 34.7h1.2v0.9h-1.2zM10.9 57.3h1.6v2.0h-1.6zM55.8 56.5h1.8v1.4h-1.8zM31.5 46.5h1.4v2.0h-1.4zM47.8 51.6h1.3v2.3h-1.3zM5.5 20.4h2.3v2.3h-2.3zM20.4 55.5h2.2v1.3h-2.2zM19.0 10.6h1.3v1.1h-1.3zM41.4 59.1h1.5v0.9h-1.5zM58.1 32.0h1.9v1.2h-1.9zM35.6 49.6h2.0v1.5h-2.0zM3.3 55.0h1.3v1.6h-1.3zM50.3 7.8h2.5v2.3h-2.5zM37.8 47.3h1.4v1.5h-1.4zM9.0 50.7h1.7v1.5h-1.7zM57.0 51.1h3.0v1.5h-3.0zM29.3 43.8h2.1v1.3h-2.1zM24.2 8.8h1.9v2.4h-1.9zM57.6 37.6h2.1v1.4h-2.1zM5.3 16.3h2.6v2.2h-2.6zM21.7 47.2h2.6v1.9h-2.6zM39.8 45.6h1.9v1.9h-1.9zM16.9 29.1h2.6v1.9h-2.6zM17.6 56.7h2.4v1.7h-2.4zM0.7 32.8h1.7v1.9h-1.7zM27.8 49.0h2.4v2.1h-2.4zM20.9 38.6h2.5v2.1h-2.5zM21.0 50.6h2.8v1.9h-2.8zM57.9 57.4h2.1v1.7h-2.1zM10.0 50.2h2.9v1.6h-2.9zM41.5 43.2h2.5v1.1h-2.5zM46.8 34.9h2.4v1.5h-2.4zM37.4 46.5h2.3v2.0h-2.3zM1.7 9.6h2.0v1.9h-2.0zM13.1 41.2h2.3v0.9h-2.3zM28.3 13.6h1.3v1.0h-1.3zM19.0 10.9h1.5v0.9h-1.5zM27.9 22.8h2.3v1.8h-2.3zM14.3 54.2h1.2v1.5h-1.2zM16.7 24.6h1.4v2.1h-1.4zM22.4 2.2h2.3v1.0h-2.3zM32.7 20.4h2.2v2.3h-2.2zM49.1 25.1h2.7v1.8h-2.7zM22.2 8.5h2.3v1.7h-2.3zM57.4 58.1h2.3v1.4h-2.3zM53.6 0.1h1.4v1.7h-1.4zM36.9 8.4h2.3v2.2h-2.3zM22.6 25.9h1.6v1.3h-1.6zM57.1 22.8h2.9v2.3h-2.9zM35.7 15.6h3.0v1.6h-3.0zM24.9 19.1h3.0v1.6h-3.0zM17.2 28.6h1.4v1.8h-1.4zM26.6 17.6h2.6v2.1h-2.6zM0.8 32.0h1.7v2.3h-1.7zM46.9 14.7h1.7v1.1h-1.7zM57.7 17.6h2.3v1.6h-2.3zM38.7 36.2h2.5v1.0h-2.5zM45.6 18.0h2.2v1.4h-2.2zM17.8 31.8h2.0v1.4h-2.0zM44.7 35.4h1.3v1.2h-1.3zM27.3 55.0h2.8v1.7h-2.8zM0.9 46.7h2.0v1.7h-2.0zM42.5 37.9h2.1v2.3h-2.1zM23.1 23.5h2.7v1.1h-2.7zM17.8 49.8h1.3v2.1h-1.3zM41.7 26.0h1.7v2.1h-1.7zM54.6 8.6h2.1v1.7h-2.1zM29.9 19.8h1.5v1.8h-1.5zM48.7 4.1h1.6v2.1h-1.6zM47.5 39.8h1.2v2.0h-1.2zM57.5 59.1h2.5v0.9h-2.5zM50.5 13.2h2.4v2.3h-2.4zM42.7 8.1h1.7v2.3h-1.7zM9.0 36.6h1.9v1.1h-1.9zM37.3 2.6h1.4v1.4h-1.4zM4.3 3.5h2.2v2.0h-2.2zM52.7 8.1h2.0v1.3h-2.0zM36.0 29.4h2.9v1.4h-2.9zM3.3 41.8h1.5v1.8h-1.5zM30.4 54.6h2.2v1.8h-2.2zM15.8 33.1h1.7v2.0h-1.7zM31.0 8.0h1.6v1.4h-1.6zM44.2 10.8h2.5v1.9h-2.5zM5.1 40.1h1.4v1.0h-1.4zM35.6 14.3h2.8v1.6h-2.8zM19.4 47.8h1.3v2.0h-1.3zM3.2 9.0h2.9v1.9h-2.9zM13.4 7.0h3.0v1.9h-3.0zM49.2 8.4h2.3v1.4h-2.3zM14.1 20.0h2.3v1.4h-2.3zM23.1 8.2h2.7v1.9h-2.7zM48.3 26.0h2.7v1.6h-2.7zM35.6 34.4h2.5v1.5h-2.5zM5.8 2.0h1.6v0.9h-1.6zM53.4 28.9h2.6v0.8h-2.6zM28.2 53.4h2.3v1.5h-2.3zM27.9 6.0h1.5v1.1h-1.5zM22.5 23.1h2.8v1.1h-2.8zM15.2 16.6h1.5v1.3h-1.5zM14.1 28.9h1.3v2.3h-1.3zM22.1 56.3h2.4v1.9h-2.4zM28.3 56.7h1.4v1.9h-1.4zM17.5 40.5h2.5v1.1h-2.5zM12.1 1.5h1.6v1.0h-1.6zM24.1 58.4h1.9v1.3h-1.9zM28.1 17.0h2.5v2.0h-2.5zM9.8 14.4h2.4v2.3h-2.4zM38.8 25.8h3.0v0.8h-3.0zM3.7 46.8h1.9v0.9h-1.9zM32.9 58.6h2.1v1.4h-2.1zM5.6 4.3h2.8v1.6h-2.8zM56.1 3.2h1.6v0.9h-1.6zM23.8 3.6h1.7v1.5h-1.7zM18.4 3.1h1.3v2.4h-1.3zM10.8 30.5h1.9v1.7h-1.9zM5.1 18.8h1.4v1.7h-1.4zM55.3 35.9h2.7v1.2h-2.7zM1.0 32.4h2.1v1.7h-2.1zM22.6 37.5h2.5v2.3h-2.5zM18.5 26.9h2.7v1.2h-2.7zM6.9 18.7h1.4v2.0h-1.4zM49.2 18.8h1.4v1.0h-1.4zM14.7 5.1h2.0v1.7h-2.0zM14.7 3.7h2.5v0.9h-2.5zM12.0 17.2h1.9v1.0h-1.9zM25.2 18.8h2.6v1.7h-2.6zM53.8 39.2h2.6v1.7h-2.6zM26.5 49.0h2.4v2.3h-2.4zM43.7 42.1h1.7v2.1h-1.7zM22.9 7.8h1.3v1.1h-1.3zM15.8 40.6h1.7v0.9h-1.7zM45.8 33.4h1.2v0.9h-1.2zM7.8 21.4h2.7v2.3h-2.7zM36.7 13.9h2.0v1.4h-2.0zM19.8 0.7h2.3v2.1h-2.3zM43.6 5.7h2.2v1.1h-2.2zM42.6 26.8h2.9v2.1h-2.9zM7.1 19.0h2.8v1.6h-2.8zM26.0 26.5h2.6v2.3h-2.6zM32.0 58.2h2.3v1.0h-2.3zM48.9 25.2h1.3v2.4h-1.3zM2.0 34.6h2.1v2.2h-2.1zM23.6 12.9h1.7v1.2h-1.7zM33.7 21.4h2.6v1.2h-2.6zM21.1 14.9h3.0v2.2h-3.0zM51.0 37.1h1.9v1.1h-1.9zM49.9 29.4h1.3v1.1h-1.3zM5.9 43.1h2.8v1.2h-2.8zM47.8 19.4h2.4v2.2h-2.4zM37.4 48.0h1.9v0.9h-1.9zM30.7 35.2h1.5v1.4h-1.5zM19.0 1.6h1.8v1.4h-1.8zM28.6 42.2h1.9v2.4h-1.9zM48.9 55.4h2.4v1.9h-2.4zM32.2 47.9h1.9v1.8h-1.9zM40.8 31.3h1.7v1.0h-1.7zM5.2 21.4h2.2v2.0h-2.2zM42.9 18.4h2.9v1.3h-2.9zM43.0 4.3h2.6v1.9h-2.6zM57.4 53.8h2.4v2.1h-2.4zM44.3 36.7h1.6v1.6h-1.6zM53.8 14.3h3.0v1.7h-3.0zM23.6 0.2h1.9v1.1h-1.9zM39.2 54.0h2.8v1.8h-2.8zM23.2 6.5h2.4v1.7h-2.4zM42.9 22.4h2.8v1.2h-2.8zM18.3 16.1h2.3v2.2h-2.3zM10.0 38.0h2.6v1.2h-2.6zM3.8 34.0h2.7v2.2h-2.7zM43.7 25.0h2.0v1.7h-2.0zM54.3 18.1h1.7v1.8h-1.7zM58.0 11.2h1.3v1.0h-1.3zM33.8 36.2h1.5v1.1h-1.5zM35.7 38.8h2.4v2.0h-2.4zM3.7 29.1h2.7v2.3h-2.7zM19.1 51.0h2.4v2.3h-2.4zM13.7 41.8h2.7v1.6h-2.7zM6.0 11.6h1.5v1.0h-1.5zM9.1 36.9h1.4v2.0h-1.4zM44.2 49.0h2.6v2.0h-2.6zM55.4 57.4h2.3v2.3h-2.3zM6.2 6.2h1.3v1.2h-1.3zM22.5 27.5h2.4v2.0h-2.4zM5.0 24.2h2.2v1.4h-2.2zM7.1 35.8h1.9v1.9h-1.9zM29.7 57.8h2.9v1.0h-2.9zM45.6 43.3h1.7v1.0h-1.7zM28.7 21.2h2.5v2.3h-2.5zM22.9 17.4h2.1v1.9h-2.1zM47.3 34.5h1.7v1.4h-1.7zM50.9 31.2h1.3v1.5h-1.3zM14.3 40.0h1.3v1.3h-1.3zM5.8 28.7h3.0v1.7h-3.0zM23.2 56.0h1.4v1.4h-1.4zM48.6 0.3h2.6v1.4h-2.6zM1.0 15.1h2.0v1.4h-2.0zM31.0 3.2h1.6v2.4h-1.6zM26.6 28.3h1.4v1.3h-1.4zM57.3 41.2h2.1v0.9h-2.1zM23.6 46.7h2.0v1.8h-2.0zM54.1 38.7h2.3v0.9h-2.3zM1.4 46.2h1.9v2.2h-1.9zM49.5 54.9h1.9v2.4h-1.9zM45.4 53.5h1.5v2.1h-1.5zM25.3 58.3h3.0v1.2h-3.0zM25.3 16.3h2.0v1.3h-2.0zM40.0 7.4h1.5v1.6h-1.5zM4.4 22.9h2.8v2.2h-2.8zM11.8 1.1h2.7v2.3h-2.7zM35.9 8.2h1.6v2.3h-1.6zM56.3 1.9h1.5v1.5h-1.5zM16.0 45.2h1.9v2.0h-1.9zM9.1 31.1h3.0v1.9h-3.0zM5.4 6.7h2.4v1.4h-2.4zM22.1 28.7h2.2v2.3h-2.2zM14.5 34.1h1.7v1.7h-1.7zM43.9 8.0h2.1v1.9h-2.1zM0.5 46.3h2.0v1.6h-2.0zM36.6 47.6h1.3v1.6h-1.3zM2.3 23.1h1.8v0.9h-1.8zM17.9 27.0h2.4v2.3h-2.4zM22.2 31.8h2.5v2.3h-2.5zM57.0 58.9h1.7v1.1h-1.7zM55.9 4.6h2.0v2.0h-2.0zM31.7 23.3h2.9v1.3h-2.9zM33.1 49.8h1.4v1.4h-1.4zM29.7 34.0h1.6v1.5h-1.6zM3.6 5.3h1.8v1.1h-1.8zM58.1 15.8h1.7v2.1h-1.7zM44.5 15.7h2.7v1.8h-2.7zM23.3 37.7h1.6v1.3h-1.6zM52.6 26.3h2.8v1.1h-2.8zM8.2 3.1h2.5v1.7h-2.5zM0.6 2.6h2.7v1.6h-2.7zM52.3 2.4h2.3v1.0h-2.3zM43.3 36.7h2.3v1.2h-2.3zM56.9 6.7h1.3v1.9h-1.3zM5.6 4.0h2.0v1.9h-2.0zM53.5 43.3h1.3v1.8h-1.3zM50.6 7.2h2.6v1.2h-2.6zM17.9 0.1h2.6v1.6h-2.6zM54.1 27.9h1.5v1.2h-1.5zM15.8 56.8h1.6v1.0h-1.6zM21.2 4.7h2.0v1.8h-2.0zM39.0 10.5h1.4v1.6h-1.4zM41.2 26.8h2.2v2.3h-2.2zM8.7 16.1h2.1v1.7h-2.1zM54.0 33.3h2.4v1.5h-2.4zM47.1 50.2h1.7v1.0h-1.7zM15.6 21.5h2.8v1.3h-2.8zM37.8 38.4h2.9v1.0h-2.9zM46.2 20.2h1.4v1.8h-1.4zM50.7 34.9h1.3v2.4h-1.3zM23.0 38.2h2.5v1.2h-2.5zM24.5 19.8h1.4v0.9h-1.4zM43.0 24.6h2.8v0.9h-2.8zM18.1 10.8h2.9v2.1h-2.9zM53.8 30.4h1.4v1.5h-1.4zM13.6 1.6h2.2v1.3h-2.2zM6.5 30.7h2.9v2.3h-2.9zM28.0 6.2h2.6v1.0h-2.6zM32.2 5.0h3.0v1.7h-3.0zM26.2 16.3h2.2v2.4h-2.2zM25.7 12.6h2.1v2.3h-2.1zM22.9 38.0h2.9v1.3h-2.9zM48.7 31.7h1.5v0.9h-1.5zM56.3 28.0h2.0v2.3h-2.0zM34.4 30.0h1.7v2.0h-1.7zM15.4 28.2h2.6v1.8h-2.6zM8.1 12.2h2.5v2.0h-2.5zM6.2 58.9h1.4v1.1h-1.4zM5.4 26.8h2.3v2.2h-2.3zM9.8 41.9h1.4v1.7h-1.4zM15.1 21.4h1.3v2.0h-1.3zM7.3 45.8h1.8v1.8h-1.8zM38.3 29.3h2.8v2.3h-2.8zM16.9 20.0h2.8v1.0h-2.8zM25.2 24.9h3.0v1.0h-3.0zM39.3 45.4h2.5v0.8h-2.5zM56.6 18.7h2.7v1.9h-2.7zM25.2 50.3h2.4v1.4h-2.4zM43.9 30.3h2.5v1.8h-2.5zM47.8 9.6h2.1v0.8h-2.1zM47.4 46.3h2.7v0.9h-2.7zM32.1 28.7h1.4v1.2h-1.4zM58.4 51.2h1.6v2.1h-1.6zM39.1 23.1h2.4v1.2h-2.4zM16.4 0.6h2.4v1.7h-2.4zM44.6 30.2h2.0v1.3h-2.0zM44.1 22.4h2.3v2.0h-2.3zM26.7 41.2h1.3v1.2h-1.3zM50.4 8.8h1.3v0.9h-1.3zM46.0 6.4h2.0v1.5h-2.0zM48.2 28.6h2.1v0.9h-2.1zM47.7 46.0h2.3v2.1h-2.3zM36.8 43.0h2.7v1.8h-2.7zM1.2 53.1h3.0v1.2h-3.0zM4.0 20.4h1.4v1.4h-1.4zM5.4 13.2h1.2v1.5h-1.2zM18.0 43.7h1.9v1.1h-1.9zM57.2 53.7h2.4v1.2h-2.4zM24.2 27.1h1.9v0.9h-1.9zM27.3 46.1h2.4v2.2h-2.4zM41.0 45.8h2.8v2.3h-2.8zM47.6 25.0h2.4v1.9h-2.4zM53.0 42.8h2.0v1.1h-2.0zM19.6 15.0h2.4v2.0h-2.4zM11.5 32.0h2.7v1.4h-2.7zM5.7 36.3h1.9v1.1h-1.9zM17.3 0.4h1.5v1.5h-1.5zM6.3 0.4h2.2v2.3h-2.2zM50.0 19.6h2.9v1.0h-2.9zM9.0 0.4h1.3v1.8h-1.3zM45.4 28.7h2.6v1.5h-2.6zM55.1 36.5h2.2v1.1h-2.2zM25.6 26.4h2.7v1.2h-2.7zM17.7 49.0h1.3v1.7h-1.3zM13.2 39.9h2.3v1.0h-2.3zM43.8 24.4h1.8v2.2h-1.8zM46.7 18.6h2.4v1.0h-2.4zM31.1 5.0h2.4v2.3h-2.4zM38.2 2.4h2.1v1.6h-2.1zM26.6 9.1h1.7v1.5h-1.7zM4.3 40.5h1.6v1.3h-1.6zM5.4 18.2h2.9v1.3h-2.9zM5.8 20.7h2.9v1.0h-2.9zM20.5 12.5h2.4v1.6h-2.4zM5.9 51.7h1.8v1.9h-1.8zM27.2 52.3h1.3v1.2h-1.3zM17.1 15.9h2.7v1.6h-2.7zM20.8 30.4h2.7v1.7h-2.7zM27.1 39.4h2.3v1.5h-2.3zM25.6 7.9h2.0v2.2h-2.0zM18.4 21.9h2.3v1.8h-2.3zM10.5 26.8h2.5v0.9h-2.5zM6.5 45.3h2.8v0.9h-2.8zM4.9 37.6h1.7v1.9h-1.7zM2.1 27.4h1.5v1.4h-1.5zM41.6 30.6h2.7v2.2h-2.7zM37.2 50.9h1.5v1.6h-1.5zM19.2 37.5h1.4v2.2h-1.4zM22.2 47.0h2.9v2.3h-2.9zM23.4 51.4h3.0v1.0h-3.0zM44.8 43.6h2.0v1.3h-2.0zM10.4 24.7h2.9v1.5h-2.9zM15.3 37.2h2.0v1.8h-2.0zM27.3 17.2h1.3v2.1h-1.3zM39.5 14.6h2.1v1.7h-2.1zM30.2 54.1h2.6v1.3h-2.6zM20.3 36.7h1.5v2.3h-1.5zM2.7 30.0h1.7v1.7h-1.7zM2.7 13.5h3.0v2.1h-3.0zM13.3 27.4h1.3v1.0h-1.3zM11.5 58.8h1.8v1.2h-1.8zM3.9 6.6h3.0v2.0h-3.0zM55.2 50.1h2.6v1.2h-2.6zM10.1 16.2h1.3v1.1h-1.3zM43.2 29.5h1.2v1.3h-1.2zM51.0 51.1h2.5v2.0h-2.5zM54.7 33.4h1.9v1.7h-1.9zM16.9 2.2h1.7v1.6h-1.7zM7.2 4.8h1.6v1.4h-1.6zM57.3 29.2h2.7v2.0h-2.7zM35.5 19.3h1.9v1.3h-1.9z" fill="#ffffff"/></pattern><pattern id="wsp2" width="60" height="60" patternUnits="userSpaceOnUse"><path d="M47.6 49.3h1.8v1.1h-1.8zM0.0 39.8h1.8v1.7h-1.8zM22.4 46.2h1.4v1.8h-1.4zM43.8 24.8h1.9v1.6h-1.9zM11.6 33.2h2.3v1.1h-2.3zM48.2 41.1h2.4v1.2h-2.4zM5.6 48.0h2.3v1.3h-2.3zM5.6 11.8h2.0v1.1h-2.0zM57.1 35.3h1.3v1.6h-1.3zM21.6 56.0h2.5v1.4h-2.5zM38.7 41.9h2.3v2.0h-2.3zM1.7 21.7h2.0v1.1h-2.0zM35.3 5.4h2.4v1.4h-2.4zM7.0 39.8h1.5v1.0h-1.5zM29.0 8.3h1.3v1.9h-1.3zM41.9 0.8h2.2v0.7h-2.2zM20.0 54.3h2.0v1.1h-2.0zM22.6 23.3h1.2v2.1h-1.2zM3.2 25.4h2.2v1.2h-2.2zM57.4 14.7h2.6v1.9h-2.6zM40.2 53.4h1.7v1.8h-1.7zM47.8 31.0h1.8v1.7h-1.8zM24.5 5.2h2.2v1.1h-2.2zM29.3 47.0h1.3v0.7h-1.3zM7.4 35.4h1.6v1.1h-1.6zM27.1 55.7h1.4v1.3h-1.4zM52.8 36.7h1.4v1.4h-1.4zM28.7 8.5h1.6v1.1h-1.6zM48.3 19.4h2.1v2.0h-2.1zM55.4 22.6h2.0v1.1h-2.0zM23.9 29.3h2.3v2.0h-2.3zM17.4 0.4h1.7v0.8h-1.7zM1.8 46.4h1.2v1.7h-1.2zM21.7 56.3h2.4v0.8h-2.4zM11.6 56.8h2.0v1.3h-2.0zM46.9 48.8h1.8v1.3h-1.8zM6.0 21.7h1.2v1.6h-1.2zM36.4 8.7h2.0v0.8h-2.0zM6.3 38.7h1.7v1.9h-1.7zM37.8 42.1h1.2v1.8h-1.2zM5.0 37.1h2.5v2.0h-2.5zM53.6 27.1h2.1v1.8h-2.1zM8.2 56.6h2.5v1.3h-2.5zM46.7 26.8h1.4v1.7h-1.4zM3.8 48.0h2.6v1.1h-2.6zM56.4 5.0h2.4v1.1h-2.4zM57.5 25.8h2.5v0.7h-2.5zM5.1 49.0h2.0v1.4h-2.0zM2.0 10.4h1.6v0.8h-1.6zM57.5 45.9h2.5v1.7h-2.5zM20.6 4.7h2.2v0.9h-2.2zM32.8 27.8h1.8v0.8h-1.8zM4.4 31.2h1.0v1.4h-1.0zM9.0 16.9h1.2v1.5h-1.2zM23.3 13.4h1.4v1.5h-1.4zM54.6 25.1h1.3v1.1h-1.3zM14.4 34.3h2.3v1.5h-2.3zM11.3 19.5h1.6v1.3h-1.6zM23.9 58.4h1.9v1.6h-1.9zM43.0 38.7h2.3v1.2h-2.3zM40.0 58.4h1.3v1.6h-1.3zM23.1 3.7h1.1v1.7h-1.1zM6.9 42.7h1.2v1.2h-1.2zM1.9 32.6h2.3v1.0h-2.3zM33.9 55.3h1.5v1.4h-1.5zM43.4 51.9h1.3v1.6h-1.3zM7.2 6.7h2.6v0.8h-2.6zM55.2 45.0h2.1v1.7h-2.1zM39.1 17.2h1.7v1.0h-1.7zM51.6 46.7h2.3v1.0h-2.3zM35.5 15.3h2.3v1.7h-2.3zM57.9 42.5h2.1v1.8h-2.1zM5.6 35.7h1.1v1.2h-1.1zM7.0 56.9h1.0v2.0h-1.0zM56.9 26.1h2.3v0.8h-2.3zM8.4 0.6h1.1v0.7h-1.1zM49.7 5.3h1.9v1.1h-1.9zM7.9 25.2h1.3v2.0h-1.3zM23.0 35.6h1.9v1.6h-1.9zM28.8 16.2h1.2v1.9h-1.2zM11.6 26.9h2.3v1.5h-2.3zM56.9 48.6h1.8v0.9h-1.8zM35.6 28.4h2.4v1.4h-2.4zM41.7 48.7h1.8v1.9h-1.8zM54.0 9.3h2.5v1.9h-2.5zM51.3 20.3h1.4v0.9h-1.4zM22.3 51.3h1.6v0.7h-1.6zM18.3 5.0h2.0v1.8h-2.0zM55.6 5.4h1.6v0.9h-1.6zM54.6 50.2h1.8v2.0h-1.8zM31.2 46.6h1.8v1.2h-1.8zM58.1 50.5h1.9v1.9h-1.9zM39.0 47.9h1.1v0.9h-1.1zM6.6 36.2h2.2v0.9h-2.2zM30.3 6.8h2.1v1.8h-2.1zM5.2 58.8h2.1v0.9h-2.1zM21.1 9.5h2.2v2.0h-2.2zM10.5 11.0h2.0v1.9h-2.0zM44.3 27.5h1.2v1.5h-1.2zM27.3 48.2h1.9v1.7h-1.9zM57.5 37.6h2.5v1.1h-2.5zM0.1 52.9h1.0v2.1h-1.0zM27.3 3.7h1.4v1.7h-1.4zM23.0 37.4h1.2v1.9h-1.2zM22.4 50.0h1.2v1.6h-1.2zM28.1 24.3h1.0v1.4h-1.0zM50.3 6.2h1.7v0.7h-1.7zM57.9 58.2h2.1v1.4h-2.1zM4.2 7.3h2.1v1.8h-2.1zM58.3 51.7h1.7v1.1h-1.7zM32.5 20.8h1.9v1.9h-1.9zM27.2 58.9h2.1v0.8h-2.1zM44.8 39.7h2.0v0.7h-2.0zM52.7 29.7h1.9v0.9h-1.9zM2.1 0.8h1.3v1.1h-1.3zM9.2 3.5h2.2v1.7h-2.2zM52.9 13.1h2.2v1.5h-2.2zM5.4 52.5h1.6v1.0h-1.6zM11.0 55.5h1.4v1.2h-1.4zM32.8 21.5h2.0v0.8h-2.0zM25.8 35.1h2.0v1.5h-2.0zM16.2 38.3h2.6v1.4h-2.6zM38.6 50.2h1.4v1.1h-1.4zM58.2 18.0h1.7v1.2h-1.7zM57.6 32.7h2.4v0.9h-2.4zM16.7 39.0h1.5v1.6h-1.5zM30.5 4.7h1.2v1.3h-1.2zM32.0 10.6h1.4v0.7h-1.4zM16.0 18.6h1.6v1.5h-1.6zM51.2 43.0h2.2v1.1h-2.2zM29.7 43.6h2.4v1.0h-2.4zM0.9 3.1h1.8v1.9h-1.8zM9.2 47.0h2.0v1.9h-2.0zM54.1 6.4h2.3v0.9h-2.3zM7.1 23.9h1.8v0.8h-1.8zM16.5 10.5h1.2v0.8h-1.2zM1.4 13.1h1.5v1.3h-1.5zM41.7 36.7h1.8v1.1h-1.8zM36.9 11.6h1.3v0.9h-1.3zM40.2 8.4h1.4v1.2h-1.4zM33.8 38.9h1.9v1.5h-1.9zM11.6 54.8h2.2v1.3h-2.2zM23.8 34.6h1.2v1.6h-1.2zM54.2 21.8h1.8v1.0h-1.8zM54.6 22.6h1.6v1.7h-1.6zM22.3 54.3h1.7v1.5h-1.7zM18.3 35.4h1.8v0.8h-1.8zM53.3 9.6h1.9v1.6h-1.9zM28.1 19.7h1.7v2.1h-1.7zM0.7 53.1h2.0v1.4h-2.0zM38.3 38.4h2.3v2.0h-2.3zM30.9 21.1h1.6v2.0h-1.6zM28.8 4.2h1.9v0.9h-1.9zM20.8 39.0h2.0v1.4h-2.0zM49.8 36.5h2.6v1.8h-2.6zM15.9 46.9h1.6v2.0h-1.6zM37.2 25.1h1.3v1.9h-1.3zM21.2 0.9h2.3v0.7h-2.3zM2.7 1.8h2.0v1.5h-2.0zM29.0 56.1h1.8v1.0h-1.8zM58.9 6.6h1.1v1.0h-1.1zM58.4 25.1h1.6v1.2h-1.6zM22.2 45.3h2.0v1.1h-2.0zM11.4 49.0h1.9v1.4h-1.9zM12.0 58.0h1.8v2.0h-1.8zM40.4 38.3h1.0v2.0h-1.0zM51.3 4.6h1.1v1.6h-1.1zM40.1 11.6h2.6v0.8h-2.6zM34.1 28.9h1.5v1.6h-1.5zM26.5 46.0h2.2v0.7h-2.2zM19.6 32.5h1.5v1.5h-1.5zM1.7 6.3h1.8v1.0h-1.8zM12.5 24.8h2.0v1.6h-2.0zM35.9 29.9h1.7v1.9h-1.7zM51.8 53.9h2.5v1.6h-2.5zM12.0 42.1h1.5v1.1h-1.5zM24.0 2.0h1.7v1.0h-1.7zM14.0 25.9h2.2v1.6h-2.2zM18.9 43.4h1.6v1.2h-1.6zM24.5 17.2h1.2v2.0h-1.2zM35.8 39.4h2.0v1.4h-2.0zM37.8 0.4h1.1v1.4h-1.1zM27.9 0.7h1.3v1.1h-1.3zM58.1 50.2h1.1v1.2h-1.1zM21.0 8.2h1.5v2.1h-1.5zM55.0 16.2h2.2v0.9h-2.2zM37.9 5.2h2.0v1.5h-2.0zM57.5 34.7h2.5v1.0h-2.5zM37.5 12.5h1.1v2.1h-1.1zM1.6 21.2h1.5v1.0h-1.5zM51.4 45.2h1.6v1.5h-1.6zM49.8 3.5h2.0v1.9h-2.0zM36.3 31.4h1.4v0.9h-1.4zM10.6 21.4h1.5v1.8h-1.5zM9.6 7.6h2.3v1.3h-2.3zM6.9 48.9h1.1v1.2h-1.1zM24.3 31.1h1.4v2.0h-1.4zM34.9 19.6h2.0v1.2h-2.0zM33.6 35.8h1.4v1.9h-1.4zM5.6 56.0h1.7v1.4h-1.7z" fill="#ffffff"/></pattern><clipPath id="cp1"><path d="M900.6,38.6 C902.6,39.4 905.0,46.1 908.1,50.8 C911.3,55.4 915.4,62.7 919.5,66.4 C923.6,70.2 928.0,71.6 932.7,73.4 C937.4,75.1 943.1,75.7 947.8,76.9 C952.5,78.0 958.5,77.5 961.0,80.4 C963.5,83.3 963.5,90.2 962.9,94.3 C962.3,98.3 957.6,100.4 957.2,104.7 C956.9,109.1 960.7,114.6 961.0,120.4 C961.3,126.2 960.1,134.0 959.1,139.6 C958.2,145.1 954.4,148.8 955.4,153.5 C956.3,158.1 961.7,162.8 964.8,167.4 C967.9,172.1 973.9,177.0 974.2,181.4 C974.6,185.7 967.9,188.0 966.7,193.5 C965.4,199.1 967.6,207.8 966.7,214.4 C965.7,221.1 962.9,227.2 961.0,233.6 C959.1,240.0 957.2,246.1 955.4,252.8 C953.5,259.4 951.6,268.7 949.7,273.6 C947.8,278.6 946.9,280.5 944.0,282.4 C941.2,284.2 937.1,284.7 932.7,285.0 C928.3,285.3 922.3,283.9 917.6,284.1 C912.8,284.2 908.1,285.3 904.3,285.8 C900.6,286.4 898.1,286.3 894.9,287.6 C891.8,288.9 888.0,290.8 885.5,293.7 C882.9,296.6 882.3,301.1 879.8,305.0 C877.3,308.9 874.8,312.5 870.3,317.2 C865.9,321.8 858.7,328.5 853.3,332.9 C848.0,337.2 843.3,340.5 838.2,343.3 C833.2,346.1 827.3,348.3 823.1,349.4 C818.9,350.5 817.5,349.8 813.1,349.9 C808.8,350.0 802.4,350.2 797.0,349.9 C791.7,349.7 786.4,349.7 781.0,348.4 C775.6,347.0 768.2,344.8 764.7,341.9 C761.3,339.0 761.3,334.5 760.0,330.8 C758.7,327.0 758.3,323.2 756.8,319.4 C755.4,315.7 752.7,312.0 751.3,308.5 C750.0,304.9 746.2,303.8 748.7,298.0 C751.2,292.2 760.3,281.2 766.4,273.6 C772.6,266.1 779.0,259.1 785.3,252.8 C791.6,246.4 801.7,244.0 804.2,235.3 C806.7,226.6 803.6,210.1 800.4,200.5 C797.3,190.9 787.2,185.1 785.3,177.9 C783.4,170.6 787.5,161.6 789.1,157.0 C790.7,152.3 792.3,152.9 794.8,150.0 C797.3,147.1 801.1,142.8 804.2,139.6 C807.4,136.4 810.2,132.7 813.7,130.9 C817.1,129.0 820.4,128.8 825.0,128.2 C829.6,127.7 835.7,127.8 841.1,127.4 C846.4,126.9 853.1,127.7 857.1,125.6 C861.1,123.6 862.2,120.1 865.1,115.2 C868.0,110.2 871.8,101.8 874.5,96.0 C877.2,90.2 878.4,86.3 881.1,80.4 C883.8,74.4 888.1,66.0 890.6,60.2 C893.0,54.4 894.2,49.1 895.8,45.5 C897.5,41.9 898.5,37.7 900.6,38.6 Z"/></clipPath><linearGradient id="fgcp1" gradientUnits="userSpaceOnUse" x1="0" y1="122.1" x2="0" y2="157.0"><stop offset="0" stop-color="#fff"/><stop offset="1" stop-color="#000"/></linearGradient><mask id="mkcp1"><rect x="613.3" y="25.0" width="493.4" height="455.4" fill="url(#fgcp1)"/></mask><clipPath id="cp2"><path d="M1427.3,40.7 C1429.3,41.5 1431.7,48.2 1434.8,52.8 C1438.0,57.5 1442.0,64.8 1446.1,68.5 C1450.2,72.3 1454.6,73.8 1459.4,75.5 C1464.1,77.2 1469.7,77.8 1474.5,79.0 C1479.2,80.1 1485.2,79.6 1487.7,82.5 C1490.2,85.4 1490.2,92.3 1489.6,96.4 C1488.9,100.5 1484.2,102.5 1483.9,106.8 C1483.6,111.2 1487.4,116.7 1487.7,122.5 C1488.0,128.3 1486.7,136.2 1485.8,141.7 C1484.8,147.2 1481.1,151.0 1482.0,155.6 C1483.0,160.3 1488.3,164.9 1491.4,169.6 C1494.6,174.2 1500.6,179.1 1500.9,183.5 C1501.2,187.8 1494.6,190.2 1493.3,195.7 C1492.1,201.2 1494.3,209.9 1493.3,216.6 C1492.4,223.3 1489.6,229.4 1487.7,235.7 C1485.8,242.1 1483.9,248.2 1482.0,254.9 C1480.1,261.6 1478.2,270.9 1476.3,275.8 C1474.5,280.7 1473.5,282.6 1470.7,284.5 C1467.8,286.4 1463.8,286.8 1459.4,287.1 C1454.9,287.4 1449.0,286.1 1444.2,286.3 C1439.5,286.4 1434.8,287.4 1431.0,288.0 C1427.3,288.6 1424.7,288.4 1421.6,289.7 C1418.4,291.0 1414.7,292.9 1412.1,295.8 C1409.6,298.7 1409.0,303.2 1406.5,307.2 C1404.0,311.1 1401.4,314.7 1397.0,319.3 C1392.6,324.0 1385.4,330.7 1380.0,335.0 C1374.7,339.4 1370.0,342.7 1364.9,345.5 C1359.9,348.2 1354.0,350.5 1349.8,351.6 C1345.7,352.7 1344.2,352.0 1339.8,352.1 C1335.5,352.2 1329.1,352.4 1323.8,352.1 C1318.4,351.8 1313.1,351.9 1307.7,350.5 C1302.3,349.2 1295.0,347.0 1291.5,344.1 C1288.0,341.1 1288.1,336.7 1286.8,332.9 C1285.4,329.2 1285.0,325.3 1283.6,321.6 C1282.1,317.9 1279.4,314.2 1278.1,310.6 C1276.7,307.1 1272.9,306.0 1275.4,300.2 C1278.0,294.4 1287.1,283.3 1293.2,275.8 C1299.3,268.3 1305.8,261.3 1312.1,254.9 C1318.4,248.5 1328.4,246.2 1331.0,237.5 C1333.5,228.8 1330.3,212.2 1327.2,202.6 C1324.0,193.1 1314.0,187.3 1312.1,180.0 C1310.2,172.7 1314.3,163.7 1315.8,159.1 C1317.4,154.5 1319.0,155.0 1321.5,152.1 C1324.0,149.2 1327.8,144.9 1331.0,141.7 C1334.1,138.5 1336.9,134.9 1340.4,133.0 C1343.9,131.1 1347.2,130.9 1351.7,130.4 C1356.3,129.8 1362.4,129.9 1367.8,129.5 C1373.1,129.1 1379.8,129.8 1383.8,127.7 C1387.8,125.7 1388.9,122.2 1391.8,117.3 C1394.6,112.4 1398.5,103.9 1401.2,98.1 C1403.9,92.3 1405.1,88.4 1407.8,82.5 C1410.5,76.5 1414.8,68.1 1417.2,62.3 C1419.7,56.4 1420.9,51.2 1422.5,47.6 C1424.2,44.0 1425.2,39.8 1427.3,40.7 Z"/></clipPath><linearGradient id="fgcp2" gradientUnits="userSpaceOnUse" x1="0" y1="124.3" x2="0" y2="159.1"><stop offset="0" stop-color="#fff"/><stop offset="1" stop-color="#000"/></linearGradient><mask id="mkcp2"><rect x="1141.6" y="26.4" width="492.5" height="455.4" fill="url(#fgcp2)"/></mask><clipPath id="cp3"><path d="M1952.2,41.6 C1954.3,42.5 1956.6,49.2 1959.8,53.8 C1962.9,58.4 1967.0,65.6 1971.1,69.4 C1975.2,73.2 1979.6,74.6 1984.4,76.4 C1989.1,78.1 1994.7,78.7 1999.5,79.8 C2004.2,81.0 2010.2,80.4 2012.7,83.3 C2015.2,86.2 2015.2,93.1 2014.6,97.2 C2014.0,101.2 2009.2,103.3 2008.9,107.6 C2008.6,111.9 2012.4,117.4 2012.7,123.2 C2013.0,129.0 2011.8,136.8 2010.8,142.3 C2009.9,147.8 2006.1,151.6 2007.0,156.2 C2008.0,160.9 2013.3,165.5 2016.5,170.1 C2019.6,174.7 2025.6,179.7 2025.9,184.0 C2026.2,188.3 2019.6,190.7 2018.4,196.2 C2017.1,201.7 2019.3,210.3 2018.4,217.0 C2017.4,223.7 2014.6,229.7 2012.7,236.1 C2010.8,242.5 2008.9,248.5 2007.0,255.2 C2005.1,261.9 2003.2,271.1 2001.4,276.0 C1999.5,281.0 1998.5,282.8 1995.7,284.7 C1992.9,286.6 1988.8,287.0 1984.4,287.3 C1979.9,287.6 1974.0,286.3 1969.2,286.5 C1964.5,286.6 1959.8,287.6 1956.0,288.2 C1952.2,288.8 1949.7,288.6 1946.6,289.9 C1943.4,291.2 1939.6,293.1 1937.1,296.0 C1934.6,298.9 1934.0,303.4 1931.4,307.3 C1928.9,311.2 1926.4,314.8 1922.0,319.4 C1917.6,324.1 1910.3,330.7 1905.0,335.1 C1899.6,339.4 1894.9,342.7 1889.9,345.5 C1884.8,348.2 1878.9,350.5 1874.8,351.6 C1870.6,352.7 1869.1,352.0 1864.7,352.1 C1860.4,352.2 1854.0,352.3 1848.7,352.1 C1843.3,351.8 1838.0,351.9 1832.6,350.5 C1827.2,349.2 1819.9,347.0 1816.4,344.1 C1812.9,341.2 1813.0,336.7 1811.6,333.0 C1810.3,329.3 1809.9,325.4 1808.4,321.7 C1807.0,318.0 1804.3,314.3 1803.0,310.8 C1801.6,307.2 1797.8,306.1 1800.3,300.3 C1802.8,294.6 1812.0,283.6 1818.1,276.0 C1824.2,268.5 1830.7,261.6 1837.0,255.2 C1843.3,248.8 1853.3,246.5 1855.9,237.8 C1858.4,229.2 1855.2,212.7 1852.1,203.1 C1848.9,193.6 1838.9,187.8 1837.0,180.5 C1835.1,173.3 1839.2,164.3 1840.7,159.7 C1842.3,155.1 1843.9,155.6 1846.4,152.8 C1848.9,149.9 1852.7,145.5 1855.9,142.3 C1859.0,139.2 1861.8,135.5 1865.3,133.7 C1868.8,131.8 1872.1,131.6 1876.6,131.0 C1881.2,130.5 1887.4,130.6 1892.7,130.2 C1898.1,129.7 1904.8,130.5 1908.8,128.4 C1912.8,126.4 1913.8,122.9 1916.7,118.0 C1919.6,113.1 1923.5,104.7 1926.2,98.9 C1928.8,93.1 1930.1,89.3 1932.8,83.3 C1935.4,77.3 1939.8,68.9 1942.2,63.2 C1944.7,57.4 1945.8,52.2 1947.5,48.6 C1949.2,45.0 1950.2,40.8 1952.2,41.6 Z"/><path d="M1756.9,292.7 C1761.9,284.8 1782.2,260.4 1793.5,245.3 C1804.8,230.2 1816.8,214.5 1824.5,202.2 C1832.2,190.0 1835.7,181.0 1839.8,171.9 C1843.9,162.7 1845.4,154.2 1849.1,147.5 C1852.7,140.9 1856.4,135.1 1861.5,131.9 C1866.7,128.7 1873.8,129.5 1879.9,128.4 C1886.0,127.4 1893.6,127.5 1898.2,125.5 C1902.8,123.5 1903.9,120.4 1907.4,116.3 C1911.0,112.2 1915.6,106.6 1919.7,101.0 C1923.8,95.4 1928.4,89.3 1932.0,82.6 C1935.6,75.9 1937.9,67.7 1941.3,61.1 C1944.6,54.4 1949.0,43.2 1952.0,42.7 C1955.1,42.2 1955.9,53.5 1959.8,58.1 C1963.6,62.7 1968.4,66.9 1975.1,70.3 C1981.7,73.6 1993.3,76.0 1999.7,78.1 C2006.1,80.1 2011.4,79.8 2013.5,82.6 C2015.5,85.4 2014.3,89.9 2011.9,94.9 C2009.6,100.0 2003.1,107.7 1999.5,112.8 C1995.9,117.9 1992.9,119.7 1990.4,125.5 C1987.9,131.3 1987.4,141.4 1984.4,147.5 C1981.3,153.7 1975.2,157.3 1972.1,162.3 C1969.0,167.3 1967.4,172.1 1965.8,177.8 C1964.3,183.4 1963.1,192.1 1962.8,196.2 C1962.6,200.2 1967.9,201.0 1964.3,202.2 C1960.7,203.5 1950.2,203.3 1941.3,203.8 C1932.3,204.3 1919.7,204.1 1910.5,205.4 C1901.2,206.6 1893.6,208.9 1885.9,211.4 C1878.3,214.0 1871.7,217.1 1864.6,220.6 C1857.4,224.2 1850.8,228.4 1843.0,233.0 C1835.3,237.6 1826.3,242.6 1818.1,248.3 C1809.8,253.9 1801.1,260.5 1793.5,266.7 C1785.9,272.8 1777.4,280.7 1772.3,285.1 C1767.3,289.4 1765.7,291.4 1763.1,292.7 C1760.5,294.0 1751.8,300.6 1756.9,292.7 Z"/></clipPath><linearGradient id="fgcp3" gradientUnits="userSpaceOnUse" x1="0" y1="116.3" x2="0" y2="168.4"><stop offset="0" stop-color="#fff"/><stop offset="1" stop-color="#000"/></linearGradient><mask id="mkcp3"><rect x="1665.8" y="28.2" width="492.8" height="454.9" fill="url(#fgcp3)"/></mask><clipPath id="cp4"><path d="M948.1,510.5 C950.1,512.3 951.0,516.0 951.9,522.6 C952.9,529.3 953.8,541.7 953.8,550.4 C953.8,559.1 951.4,567.2 951.9,574.7 C952.4,582.2 956.0,587.1 956.6,595.5 C957.3,603.9 956.2,616.6 955.7,625.0 C955.2,633.4 953.5,638.6 953.8,645.8 C954.1,653.1 955.9,661.2 957.6,668.4 C959.3,675.6 961.8,682.3 964.2,689.2 C966.6,696.2 970.5,704.5 971.9,710.0 C973.4,715.5 974.5,716.7 972.7,722.2 C970.9,727.7 965.8,737.5 961.4,743.0 C957.0,748.5 951.3,751.1 946.3,755.1 C941.2,759.2 936.8,762.7 931.2,767.3 C925.5,771.9 918.4,779.1 912.3,782.9 C906.1,786.7 900.0,787.5 894.3,789.8 C888.7,792.2 883.5,794.2 878.3,796.8 C873.1,799.4 868.8,801.7 863.2,805.5 C857.5,809.2 850.6,815.3 844.3,819.3 C838.0,823.4 831.7,827.4 825.4,829.7 C819.1,832.1 813.5,832.6 806.5,833.2 C799.6,833.8 790.8,834.1 783.9,833.2 C776.9,832.3 769.7,831.2 765.0,828.0 C760.3,824.8 757.8,820.2 755.5,814.1 C753.3,808.1 752.4,798.2 751.8,791.6 C751.1,784.9 750.5,780.9 751.8,774.2 C753.0,767.6 756.5,758.9 759.3,751.7 C762.2,744.4 769.1,736.3 768.8,730.9 C768.5,725.4 763.3,717.1 757.4,719.2 C751.6,721.3 741.0,736.2 733.5,743.5 C725.9,750.8 716.9,759.6 712.1,763.1 C707.3,766.6 705.2,765.7 704.6,764.7 C703.9,763.6 703.5,763.4 708.3,756.9 C713.2,750.3 725.3,739.2 733.5,725.3 C741.6,711.4 750.9,686.7 757.4,673.6 C764.0,660.5 766.8,656.1 772.9,646.5 C779.1,637.0 787.7,622.9 794.3,616.3 C800.8,609.8 806.6,612.4 812.2,607.1 C817.8,601.9 822.6,588.6 827.7,584.6 C832.8,580.6 836.7,585.3 842.8,583.0 C848.9,580.7 857.0,575.4 864.1,570.9 C871.2,566.3 878.7,560.8 885.3,555.8 C891.8,550.7 897.0,546.0 903.6,540.5 C910.2,535.0 918.7,527.4 924.7,522.6 C930.8,517.9 936.1,513.9 940.0,511.9 C943.9,509.9 946.2,508.7 948.1,510.5 Z"/></clipPath><linearGradient id="fgcp4" gradientUnits="userSpaceOnUse" x1="0" y1="583.4" x2="0" y2="626.8"><stop offset="0" stop-color="#fff"/><stop offset="1" stop-color="#000"/></linearGradient><mask id="mkcp4"><rect x="613.5" y="503.6" width="492.2" height="454.4" fill="url(#fgcp4)"/></mask><clipPath id="cp5"><path d="M1476.3,511.3 C1478.3,513.1 1479.1,516.8 1480.1,523.5 C1481.0,530.2 1482.0,542.6 1482.0,551.3 C1482.0,560.0 1479.6,568.2 1480.1,575.7 C1480.6,583.3 1484.2,588.2 1484.8,596.6 C1485.4,605.0 1484.3,617.8 1483.9,626.2 C1483.4,634.6 1481.7,639.8 1482.0,647.1 C1482.3,654.3 1484.0,662.5 1485.8,669.7 C1487.5,677.0 1490.0,683.7 1492.4,690.6 C1494.8,697.6 1498.7,706.0 1500.1,711.5 C1501.5,717.0 1502.6,718.2 1500.9,723.7 C1499.1,729.2 1493.9,739.1 1489.5,744.6 C1485.1,750.1 1479.5,752.7 1474.4,756.8 C1469.4,760.8 1465.0,764.3 1459.3,769.0 C1453.7,773.6 1446.6,780.9 1440.4,784.6 C1434.3,788.4 1428.2,789.3 1422.5,791.6 C1416.8,793.9 1411.6,795.9 1406.4,798.6 C1401.2,801.2 1397.0,803.5 1391.3,807.3 C1385.7,811.0 1378.7,817.1 1372.4,821.2 C1366.1,825.2 1359.8,829.3 1353.6,831.6 C1347.3,834.0 1341.6,834.5 1334.7,835.1 C1327.7,835.7 1318.9,836.0 1312.0,835.1 C1305.1,834.2 1297.8,833.1 1293.1,829.9 C1288.4,826.7 1285.9,822.1 1283.7,816.0 C1281.5,809.9 1280.5,800.0 1279.9,793.3 C1279.3,786.7 1278.6,782.6 1279.9,775.9 C1281.2,769.2 1284.6,760.5 1287.5,753.3 C1290.3,746.0 1297.2,737.8 1296.9,732.4 C1296.6,727.0 1291.4,718.6 1285.6,720.7 C1279.7,722.9 1269.1,737.8 1261.6,745.1 C1254.0,752.4 1245.1,761.2 1240.2,764.8 C1235.4,768.3 1233.3,767.4 1232.7,766.3 C1232.1,765.3 1231.6,765.1 1236.5,758.5 C1241.3,751.9 1253.4,740.8 1261.6,726.8 C1269.8,712.9 1279.0,688.1 1285.6,674.9 C1292.1,661.8 1294.9,657.4 1301.1,647.8 C1307.2,638.2 1315.8,624.1 1322.4,617.5 C1328.9,610.9 1334.8,613.6 1340.3,608.3 C1345.9,603.0 1350.7,589.7 1355.8,585.6 C1360.9,581.6 1364.9,586.4 1370.9,584.1 C1377.0,581.8 1385.2,576.4 1392.3,571.9 C1399.4,567.3 1406.8,561.8 1413.4,556.7 C1420.0,551.7 1425.2,547.0 1431.7,541.4 C1438.3,535.9 1446.8,528.3 1452.9,523.5 C1459.0,518.7 1464.3,514.7 1468.2,512.7 C1472.1,510.7 1474.3,509.5 1476.3,511.3 Z"/></clipPath><linearGradient id="fgcp5" gradientUnits="userSpaceOnUse" x1="0" y1="593.1" x2="0" y2="636.6"><stop offset="0" stop-color="#fff"/><stop offset="1" stop-color="#000"/></linearGradient><mask id="mkcp5"><rect x="1140.3" y="505.0" width="493.1" height="454.6" fill="url(#fgcp5)"/></mask><clipPath id="cp6"><path d="M1999.6,510.4 C2001.6,512.2 2002.4,515.9 2003.4,522.6 C2004.3,529.2 2005.3,541.7 2005.3,550.5 C2005.3,559.2 2002.9,567.3 2003.4,574.9 C2003.9,582.4 2007.5,587.4 2008.1,595.8 C2008.7,604.2 2007.6,617.0 2007.2,625.5 C2006.7,633.9 2005.0,639.1 2005.3,646.4 C2005.6,653.7 2007.3,661.8 2009.1,669.1 C2010.8,676.3 2013.3,683.0 2015.7,690.0 C2018.1,697.0 2022.0,705.4 2023.4,710.9 C2024.8,716.4 2025.9,717.6 2024.2,723.1 C2022.4,728.7 2017.2,738.5 2012.8,744.1 C2008.4,749.6 2002.8,752.2 1997.7,756.3 C1992.7,760.3 1988.3,763.8 1982.6,768.5 C1976.9,773.1 1969.8,780.4 1963.7,784.2 C1957.5,788.0 1951.4,788.8 1945.7,791.1 C1940.1,793.5 1934.9,795.5 1929.7,798.1 C1924.5,800.7 1920.2,803.1 1914.5,806.8 C1908.9,810.6 1901.9,816.7 1895.6,820.8 C1889.3,824.9 1883.0,828.9 1876.7,831.3 C1870.4,833.6 1864.7,834.2 1857.8,834.8 C1850.9,835.3 1842.1,835.6 1835.1,834.8 C1828.2,833.9 1821.0,832.7 1816.2,829.5 C1811.5,826.3 1809.0,821.7 1806.8,815.6 C1804.6,809.5 1803.6,799.6 1803.0,792.9 C1802.4,786.2 1801.7,782.1 1803.0,775.5 C1804.3,768.8 1807.7,760.0 1810.6,752.8 C1813.4,745.5 1820.3,737.3 1820.0,731.9 C1819.7,726.4 1814.6,718.0 1808.7,720.2 C1802.8,722.3 1792.2,737.2 1784.7,744.6 C1777.1,751.9 1768.1,760.7 1763.3,764.3 C1758.5,767.8 1756.4,766.9 1755.7,765.9 C1755.1,764.8 1754.7,764.6 1759.5,758.0 C1764.3,751.4 1776.5,740.2 1784.7,726.3 C1792.8,712.3 1802.1,687.5 1808.7,674.3 C1815.3,661.1 1818.0,656.7 1824.2,647.1 C1830.3,637.5 1839.0,623.3 1845.5,616.7 C1852.1,610.1 1857.9,612.8 1863.5,607.5 C1869.1,602.2 1873.9,588.9 1879.0,584.8 C1884.1,580.8 1888.0,585.5 1894.1,583.3 C1900.2,581.0 1908.4,575.6 1915.5,571.0 C1922.6,566.5 1930.1,561.0 1936.6,555.9 C1943.2,550.8 1948.4,546.1 1955.0,540.5 C1961.6,535.0 1970.1,527.4 1976.2,522.6 C1982.2,517.8 1987.6,513.8 1991.5,511.7 C1995.4,509.7 1997.6,508.5 1999.6,510.4 Z"/></clipPath><linearGradient id="fgcp6" gradientUnits="userSpaceOnUse" x1="0" y1="583.6" x2="0" y2="627.2"><stop offset="0" stop-color="#fff"/><stop offset="1" stop-color="#000"/></linearGradient><mask id="mkcp6"><rect x="1663.5" y="504.2" width="493.4" height="455.1" fill="url(#fgcp6)"/></mask><clipPath id="cp7"><path d="M1755.9,765.5 C1759.5,758.4 1775.5,736.1 1782.8,723.8 C1790.1,711.5 1795.1,702.4 1799.8,691.7 C1804.4,681.0 1806.3,668.5 1810.6,659.6 C1814.8,650.7 1818.7,645.5 1825.5,638.4 C1832.3,631.2 1843.4,624.8 1851.2,616.9 C1859.0,609.1 1867.6,596.2 1872.6,591.3 C1877.5,586.3 1876.1,590.6 1881.1,587.1 C1886.0,583.5 1895.0,574.3 1902.4,570.0 C1909.9,565.7 1918.8,564.3 1925.9,561.5 C1933.0,558.6 1938.7,556.8 1945.2,552.9 C1951.6,549.0 1957.7,543.6 1964.4,537.9 C1971.2,532.2 1980.4,523.2 1985.8,518.5 C1991.2,513.9 1994.1,509.6 1996.6,510.0 C1999.1,510.4 2002.5,515.5 2000.7,520.8 C1998.9,526.2 1990.1,535.0 1985.8,542.1 C1981.5,549.2 1975.8,556.4 1975.0,563.5 C1974.3,570.7 1977.9,579.5 1981.5,584.8 C1985.0,590.2 1992.6,590.3 1996.6,595.6 C2000.5,601.0 2003.3,609.8 2005.1,616.9 C2006.8,624.0 2008.6,633.0 2007.2,638.4 C2005.7,643.7 2001.9,648.3 1996.6,649.0 C1991.2,649.7 1981.5,642.7 1975.0,642.6 C1968.6,642.4 1963.3,646.0 1958.0,648.1 C1952.7,650.3 1949.1,650.7 1943.1,655.5 C1937.0,660.2 1927.8,670.0 1921.7,676.7 C1915.7,683.5 1912.1,690.0 1906.8,696.1 C1901.4,702.2 1893.9,708.9 1889.6,713.2 C1885.3,717.5 1886.4,721.7 1881.1,721.7 C1875.7,721.7 1864.9,714.3 1857.4,713.2 C1849.9,712.1 1843.2,713.5 1836.1,715.3 C1829.0,717.1 1820.8,720.3 1814.7,723.8 C1808.7,727.4 1805.1,732.3 1799.8,736.6 C1794.5,740.8 1789.2,744.3 1782.8,749.3 C1776.4,754.3 1765.9,763.7 1761.4,766.4 C1756.9,769.1 1752.4,772.6 1755.9,765.5 Z"/></clipPath><linearGradient id="gcore" x1="0" y1="1" x2="1" y2="0"><stop offset="0" stop-color="#18a8c8"/><stop offset="0.5" stop-color="#2ec8b8"/><stop offset="1" stop-color="#2a9ae0"/></linearGradient><linearGradient id="ggreen" x1="0" y1="1" x2="1" y2="0"><stop offset="0" stop-color="#28d890"/><stop offset="0.5" stop-color="#40e070"/><stop offset="1" stop-color="#30d0b0"/></linearGradient><linearGradient id="hstreak" x1="0" y1="1" x2="1" y2="0"><stop offset="0" stop-color="#c8702a"/><stop offset="0.25" stop-color="#58c840"/><stop offset="1" stop-color="#40c8a0"/></linearGradient><clipPath id="cp8"><path d="M1222.6,1380.4 C1221.5,1383.2 1236.3,1370.3 1244.7,1365.1 C1253.1,1360.0 1263.8,1354.0 1273.0,1349.5 C1282.3,1345.1 1291.7,1341.1 1300.3,1338.4 C1308.8,1335.8 1317.6,1335.5 1324.3,1333.6 C1330.9,1331.7 1334.7,1329.6 1340.3,1327.2 C1346.0,1324.8 1351.4,1324.8 1358.1,1319.2 C1364.8,1313.6 1374.2,1299.8 1380.6,1293.7 C1387.0,1287.6 1391.8,1286.8 1396.7,1282.6 C1401.5,1278.3 1404.2,1273.8 1409.5,1268.2 C1414.9,1262.6 1422.9,1253.9 1428.8,1249.1 C1434.7,1244.4 1439.7,1245.4 1445.0,1239.6 C1450.4,1233.8 1454.4,1221.0 1461.1,1214.1 C1467.8,1207.2 1477.6,1204.0 1485.1,1198.1 C1492.6,1192.3 1502.6,1186.1 1506.1,1178.9 C1509.6,1171.7 1506.1,1166.7 1506.1,1155.0 C1506.1,1143.2 1506.3,1121.6 1506.1,1108.5 C1505.8,1095.4 1507.5,1082.5 1504.6,1076.4 C1501.6,1070.3 1492.3,1073.3 1488.5,1071.7 C1484.8,1070.1 1484.8,1067.7 1482.1,1066.9 C1479.4,1066.1 1477.4,1066.3 1472.4,1066.9 C1467.5,1067.5 1458.0,1069.0 1452.6,1070.3 C1447.2,1071.7 1445.0,1074.4 1440.3,1074.9 C1435.6,1075.3 1428.8,1072.7 1424.2,1073.3 C1419.7,1073.8 1416.3,1075.2 1413.1,1078.1 C1409.9,1081.1 1408.6,1088.4 1405.2,1090.8 C1401.7,1093.2 1396.1,1093.7 1392.3,1092.4 C1388.6,1091.0 1385.3,1084.2 1382.7,1082.8 C1380.0,1081.5 1379.5,1083.8 1376.2,1084.4 C1373.0,1084.9 1366.1,1084.0 1363.4,1086.1 C1360.7,1088.3 1361.5,1089.5 1360.2,1097.2 C1358.9,1104.9 1357.1,1123.4 1355.5,1132.3 C1353.8,1141.1 1352.9,1145.6 1350.5,1150.1 C1348.1,1154.7 1346.1,1156.9 1341.1,1159.5 C1336.0,1162.1 1327.3,1163.8 1320.3,1165.7 C1313.3,1167.6 1304.4,1166.9 1299.3,1170.9 C1294.3,1175.0 1292.9,1183.9 1290.1,1190.0 C1287.3,1196.1 1285.0,1200.7 1282.5,1207.3 C1280.0,1214.0 1275.9,1222.7 1274.9,1229.9 C1274.0,1237.1 1275.6,1242.9 1276.8,1250.7 C1278.1,1258.5 1281.6,1268.0 1282.5,1276.7 C1283.4,1285.4 1284.1,1294.9 1282.5,1302.7 C1280.9,1310.5 1278.2,1315.9 1273.0,1323.5 C1267.9,1331.2 1259.9,1339.0 1251.5,1348.5 C1243.1,1358.0 1223.7,1377.6 1222.6,1380.4 Z"/></clipPath><clipPath id="cp9"><path d="M1222.6,1380.4 C1221.5,1383.2 1236.3,1370.3 1244.7,1365.1 C1253.1,1360.0 1263.8,1354.0 1273.0,1349.5 C1282.3,1345.1 1291.7,1341.1 1300.3,1338.4 C1308.8,1335.8 1317.6,1335.5 1324.3,1333.6 C1330.9,1331.7 1334.7,1329.6 1340.3,1327.2 C1346.0,1324.8 1351.4,1324.8 1358.1,1319.2 C1364.8,1313.6 1374.2,1299.8 1380.6,1293.7 C1387.0,1287.6 1391.8,1286.8 1396.7,1282.6 C1401.5,1278.3 1404.2,1273.8 1409.5,1268.2 C1414.9,1262.6 1422.9,1253.9 1428.8,1249.1 C1434.7,1244.4 1439.7,1245.4 1445.0,1239.6 C1450.4,1233.8 1454.4,1221.0 1461.1,1214.1 C1467.8,1207.2 1477.6,1204.0 1485.1,1198.1 C1492.6,1192.3 1502.6,1186.1 1506.1,1178.9 C1509.6,1171.7 1506.1,1166.7 1506.1,1155.0 C1506.1,1143.2 1506.3,1121.6 1506.1,1108.5 C1505.8,1095.4 1507.5,1082.5 1504.6,1076.4 C1501.6,1070.3 1492.3,1073.3 1488.5,1071.7 C1484.8,1070.1 1484.8,1067.7 1482.1,1066.9 C1479.4,1066.1 1477.4,1066.3 1472.4,1066.9 C1467.5,1067.5 1458.0,1069.0 1452.6,1070.3 C1447.2,1071.7 1445.0,1074.4 1440.3,1074.9 C1435.6,1075.3 1428.8,1072.7 1424.2,1073.3 C1419.7,1073.8 1416.3,1075.2 1413.1,1078.1 C1409.9,1081.1 1408.6,1088.4 1405.2,1090.8 C1401.7,1093.2 1396.1,1093.7 1392.3,1092.4 C1388.6,1091.0 1385.3,1084.2 1382.7,1082.8 C1380.0,1081.5 1379.5,1083.8 1376.2,1084.4 C1373.0,1084.9 1366.1,1084.0 1363.4,1086.1 C1360.7,1088.3 1361.5,1089.5 1360.2,1097.2 C1358.9,1104.9 1357.1,1123.4 1355.5,1132.3 C1353.8,1141.1 1352.9,1145.6 1350.5,1150.1 C1348.1,1154.7 1346.1,1156.9 1341.1,1159.5 C1336.0,1162.1 1327.3,1163.8 1320.3,1165.7 C1313.3,1167.6 1304.4,1166.9 1299.3,1170.9 C1294.3,1175.0 1292.9,1183.9 1290.1,1190.0 C1287.3,1196.1 1285.0,1200.7 1282.5,1207.3 C1280.0,1214.0 1275.9,1222.7 1274.9,1229.9 C1274.0,1237.1 1275.6,1242.9 1276.8,1250.7 C1278.1,1258.5 1281.6,1268.0 1282.5,1276.7 C1283.4,1285.4 1284.1,1294.9 1282.5,1302.7 C1280.9,1310.5 1278.2,1315.9 1273.0,1323.5 C1267.9,1331.2 1259.9,1339.0 1251.5,1348.5 C1243.1,1358.0 1223.7,1377.6 1222.6,1380.4 Z"/></clipPath><clipPath id="cp10"><path d="M1222.6,1380.4 C1221.5,1383.2 1236.3,1370.3 1244.7,1365.1 C1253.1,1360.0 1263.8,1354.0 1273.0,1349.5 C1282.3,1345.1 1291.7,1341.1 1300.3,1338.4 C1308.8,1335.8 1317.6,1335.5 1324.3,1333.6 C1330.9,1331.7 1334.7,1329.6 1340.3,1327.2 C1346.0,1324.8 1351.4,1324.8 1358.1,1319.2 C1364.8,1313.6 1374.2,1299.8 1380.6,1293.7 C1387.0,1287.6 1391.8,1286.8 1396.7,1282.6 C1401.5,1278.3 1404.2,1273.8 1409.5,1268.2 C1414.9,1262.6 1422.9,1253.9 1428.8,1249.1 C1434.7,1244.4 1439.7,1245.4 1445.0,1239.6 C1450.4,1233.8 1454.4,1221.0 1461.1,1214.1 C1467.8,1207.2 1477.6,1204.0 1485.1,1198.1 C1492.6,1192.3 1502.6,1186.1 1506.1,1178.9 C1509.6,1171.7 1506.1,1166.7 1506.1,1155.0 C1506.1,1143.2 1506.3,1121.6 1506.1,1108.5 C1505.8,1095.4 1507.5,1082.5 1504.6,1076.4 C1501.6,1070.3 1492.3,1073.3 1488.5,1071.7 C1484.8,1070.1 1484.8,1067.7 1482.1,1066.9 C1479.4,1066.1 1477.4,1066.3 1472.4,1066.9 C1467.5,1067.5 1458.0,1069.0 1452.6,1070.3 C1447.2,1071.7 1445.0,1074.4 1440.3,1074.9 C1435.6,1075.3 1428.8,1072.7 1424.2,1073.3 C1419.7,1073.8 1416.3,1075.2 1413.1,1078.1 C1409.9,1081.1 1408.6,1088.4 1405.2,1090.8 C1401.7,1093.2 1396.1,1093.7 1392.3,1092.4 C1388.6,1091.0 1385.3,1084.2 1382.7,1082.8 C1380.0,1081.5 1379.5,1083.8 1376.2,1084.4 C1373.0,1084.9 1366.1,1084.0 1363.4,1086.1 C1360.7,1088.3 1361.5,1089.5 1360.2,1097.2 C1358.9,1104.9 1357.1,1123.4 1355.5,1132.3 C1353.8,1141.1 1352.9,1145.6 1350.5,1150.1 C1348.1,1154.7 1346.1,1156.9 1341.1,1159.5 C1336.0,1162.1 1327.3,1163.8 1320.3,1165.7 C1313.3,1167.6 1304.4,1166.9 1299.3,1170.9 C1294.3,1175.0 1292.9,1183.9 1290.1,1190.0 C1287.3,1196.1 1285.0,1200.7 1282.5,1207.3 C1280.0,1214.0 1275.9,1222.7 1274.9,1229.9 C1274.0,1237.1 1275.6,1242.9 1276.8,1250.7 C1278.1,1258.5 1281.6,1268.0 1282.5,1276.7 C1283.4,1285.4 1284.1,1294.9 1282.5,1302.7 C1280.9,1310.5 1278.2,1315.9 1273.0,1323.5 C1267.9,1331.2 1259.9,1339.0 1251.5,1348.5 C1243.1,1358.0 1223.7,1377.6 1222.6,1380.4 Z"/></clipPath><clipPath id="cp11"><path d="M1222.6,1380.4 C1221.5,1383.2 1236.3,1370.3 1244.7,1365.1 C1253.1,1360.0 1263.8,1354.0 1273.0,1349.5 C1282.3,1345.1 1291.7,1341.1 1300.3,1338.4 C1308.8,1335.8 1317.6,1335.5 1324.3,1333.6 C1330.9,1331.7 1334.7,1329.6 1340.3,1327.2 C1346.0,1324.8 1351.4,1324.8 1358.1,1319.2 C1364.8,1313.6 1374.2,1299.8 1380.6,1293.7 C1387.0,1287.6 1391.8,1286.8 1396.7,1282.6 C1401.5,1278.3 1404.2,1273.8 1409.5,1268.2 C1414.9,1262.6 1422.9,1253.9 1428.8,1249.1 C1434.7,1244.4 1439.7,1245.4 1445.0,1239.6 C1450.4,1233.8 1454.4,1221.0 1461.1,1214.1 C1467.8,1207.2 1477.6,1204.0 1485.1,1198.1 C1492.6,1192.3 1502.6,1186.1 1506.1,1178.9 C1509.6,1171.7 1506.1,1166.7 1506.1,1155.0 C1506.1,1143.2 1506.3,1121.6 1506.1,1108.5 C1505.8,1095.4 1507.5,1082.5 1504.6,1076.4 C1501.6,1070.3 1492.3,1073.3 1488.5,1071.7 C1484.8,1070.1 1484.8,1067.7 1482.1,1066.9 C1479.4,1066.1 1477.4,1066.3 1472.4,1066.9 C1467.5,1067.5 1458.0,1069.0 1452.6,1070.3 C1447.2,1071.7 1445.0,1074.4 1440.3,1074.9 C1435.6,1075.3 1428.8,1072.7 1424.2,1073.3 C1419.7,1073.8 1416.3,1075.2 1413.1,1078.1 C1409.9,1081.1 1408.6,1088.4 1405.2,1090.8 C1401.7,1093.2 1396.1,1093.7 1392.3,1092.4 C1388.6,1091.0 1385.3,1084.2 1382.7,1082.8 C1380.0,1081.5 1379.5,1083.8 1376.2,1084.4 C1373.0,1084.9 1366.1,1084.0 1363.4,1086.1 C1360.7,1088.3 1361.5,1089.5 1360.2,1097.2 C1358.9,1104.9 1357.1,1123.4 1355.5,1132.3 C1353.8,1141.1 1352.9,1145.6 1350.5,1150.1 C1348.1,1154.7 1346.1,1156.9 1341.1,1159.5 C1336.0,1162.1 1327.3,1163.8 1320.3,1165.7 C1313.3,1167.6 1304.4,1166.9 1299.3,1170.9 C1294.3,1175.0 1292.9,1183.9 1290.1,1190.0 C1287.3,1196.1 1285.0,1200.7 1282.5,1207.3 C1280.0,1214.0 1275.9,1222.7 1274.9,1229.9 C1274.0,1237.1 1275.6,1242.9 1276.8,1250.7 C1278.1,1258.5 1281.6,1268.0 1282.5,1276.7 C1283.4,1285.4 1284.1,1294.9 1282.5,1302.7 C1280.9,1310.5 1278.2,1315.9 1273.0,1323.5 C1267.9,1331.2 1259.9,1339.0 1251.5,1348.5 C1243.1,1358.0 1223.7,1377.6 1222.6,1380.4 Z"/></clipPath><clipPath id="cp12"><path d="M1698.3,1410.5 C1702.9,1407.1 1719.8,1389.3 1730.2,1378.4 C1740.6,1367.5 1750.5,1355.5 1760.7,1344.9 C1770.8,1334.3 1782.0,1324.2 1791.1,1314.5 C1800.2,1304.9 1807.7,1296.7 1815.3,1287.1 C1822.9,1277.5 1831.2,1264.5 1836.9,1256.7 C1842.5,1249.0 1844.8,1246.4 1849.3,1240.8 C1853.9,1235.2 1859.6,1229.7 1864.1,1223.2 C1868.6,1216.8 1873.3,1208.5 1876.4,1201.9 C1879.4,1195.3 1880.9,1189.1 1882.4,1183.5 C1883.9,1177.9 1885.8,1170.4 1885.4,1168.4 C1885.1,1166.4 1883.1,1167.4 1880.5,1171.4 C1878.0,1175.3 1873.1,1190.7 1870.1,1192.2 C1867.1,1193.6 1863.8,1184.1 1862.6,1180.0 C1861.3,1176.0 1862.3,1176.0 1862.6,1167.9 C1862.9,1159.8 1864.5,1143.6 1864.5,1131.4 C1864.5,1119.3 1864.1,1106.0 1862.6,1095.0 C1861.0,1084.0 1857.2,1072.3 1855.0,1065.5 C1852.8,1058.7 1851.4,1056.2 1849.3,1054.2 C1847.3,1052.2 1846.5,1049.0 1842.9,1053.3 C1839.3,1057.7 1831.7,1076.0 1827.6,1080.1 C1823.5,1084.1 1822.6,1078.6 1818.5,1077.6 C1814.5,1076.7 1806.8,1071.3 1803.2,1074.2 C1799.6,1077.1 1801.8,1089.5 1797.2,1095.0 C1792.6,1100.5 1781.7,1103.1 1775.6,1107.1 C1769.5,1111.2 1765.2,1113.7 1760.7,1119.3 C1756.2,1124.9 1754.2,1133.8 1748.6,1141.0 C1743.0,1148.2 1732.3,1157.0 1727.2,1162.7 C1722.1,1168.3 1720.2,1169.9 1718.1,1174.8 C1716.1,1179.7 1716.7,1185.2 1715.1,1192.2 C1713.6,1199.1 1712.4,1208.3 1708.9,1216.5 C1705.3,1224.7 1698.8,1234.8 1693.8,1241.5 C1688.7,1248.2 1682.7,1252.2 1678.6,1256.7 C1674.6,1261.3 1669.9,1266.9 1669.4,1268.9 C1668.8,1270.9 1670.3,1271.1 1675.4,1268.5 C1680.5,1266.0 1694.4,1253.0 1700.0,1253.6 C1705.6,1254.2 1705.3,1265.9 1708.9,1272.0 C1712.4,1278.1 1716.6,1285.2 1721.2,1290.2 C1725.7,1295.3 1731.2,1299.3 1736.3,1302.4 C1741.4,1305.4 1748.5,1304.4 1751.6,1308.5 C1754.7,1312.5 1755.1,1319.7 1754.6,1326.7 C1754.1,1333.6 1753.6,1342.2 1748.6,1350.1 C1743.5,1358.1 1731.8,1366.3 1724.2,1374.4 C1716.6,1382.5 1707.1,1392.7 1702.8,1398.7 C1698.5,1404.7 1693.7,1413.9 1698.3,1410.5 Z"/></clipPath><radialGradient id="glow"><stop offset="0" stop-color="#3a8cff" stop-opacity="0.55"/><stop offset="0.6" stop-color="#2a70f8" stop-opacity="0.25"/><stop offset="1" stop-color="#2060f0" stop-opacity="0"/></radialGradient><clipPath id="cp13"><path d="M899.4,40.3 C901.0,41.2 902.1,51.3 903.4,57.7 C904.7,64.1 905.6,70.8 907.4,78.6 C909.1,86.4 912.7,96.0 913.8,104.7 C914.9,113.4 911.6,124.2 913.8,130.9 C916.0,137.5 921.4,143.0 927.0,144.8 C932.7,146.5 943.1,142.2 947.8,141.3 C952.5,140.4 954.7,136.1 955.4,139.6 C956.0,143.0 953.2,154.9 951.6,162.2 C950.0,169.5 949.5,176.1 945.9,183.1 C942.3,190.1 933.3,195.3 929.9,204.0 C926.4,212.7 927.3,225.8 925.1,235.3 C922.9,244.9 919.5,253.9 916.6,261.5 C913.8,269.0 913.0,274.2 908.1,280.6 C903.2,287.0 893.0,294.0 887.3,299.8 C881.7,305.6 878.5,310.8 874.1,315.4 C869.7,320.1 866.6,323.0 860.9,327.6 C855.2,332.3 847.1,339.3 840.1,343.3 C833.1,347.3 826.0,350.7 819.0,351.7 C811.9,352.6 805.7,349.9 797.8,349.0 C789.9,348.2 777.5,348.6 771.4,346.4 C765.2,344.3 762.5,341.5 760.8,336.3 C759.0,331.2 763.0,320.7 760.8,315.4 C758.6,310.2 751.5,311.7 747.6,305.0 C743.6,298.3 737.2,284.1 737.2,275.4 C737.2,266.7 743.6,259.7 747.6,252.8 C751.5,245.8 756.4,241.7 760.8,233.6 C765.2,225.5 770.5,214.1 774.0,204.0 C777.5,193.8 777.6,181.6 781.6,172.6 C785.5,163.7 792.5,156.1 797.8,150.0 C803.2,143.9 807.6,139.3 813.7,136.1 C819.8,132.9 826.6,133.5 834.5,130.9 C842.3,128.2 854.3,124.8 860.9,120.4 C867.5,116.1 869.7,111.7 874.1,104.7 C878.5,97.8 884.0,87.3 887.3,78.6 C890.7,69.9 892.1,58.9 894.1,52.5 C896.2,46.1 897.9,39.4 899.4,40.3 Z"/></clipPath><clipPath id="cp14"><path d="M948.7,507.0 C950.9,512.5 951.9,534.2 951.9,548.7 C952.0,563.1 950.7,581.1 949.1,593.8 C947.5,606.5 944.1,614.6 942.5,625.0 C940.9,635.4 940.6,646.1 939.6,656.2 C938.7,666.4 937.9,675.6 936.8,685.7 C935.7,695.9 934.6,708.8 933.0,717.0 C931.5,725.2 929.9,728.9 927.4,735.0 C924.9,741.1 922.0,747.7 917.9,753.4 C913.8,759.1 909.4,762.9 902.8,769.0 C896.2,775.1 885.8,783.2 878.3,789.8 C870.7,796.5 864.1,803.3 857.5,808.9 C850.9,814.5 843.8,819.2 838.6,823.5 C833.5,827.8 830.8,833.9 826.7,835.0 C822.6,836.0 819.2,831.7 814.1,829.7 C809.0,827.8 802.8,824.5 796.1,823.5 C789.5,822.5 780.6,824.5 774.4,823.5 C768.3,822.5 762.3,820.0 759.3,817.6 C756.3,815.2 757.4,813.6 756.5,808.9 C755.5,804.3 754.8,797.6 753.7,789.8 C752.6,782.0 749.4,771.3 749.9,762.1 C750.4,752.8 755.4,743.0 756.5,734.3 C757.6,725.6 755.1,717.0 756.5,710.0 C757.9,703.1 761.4,698.8 765.0,692.7 C768.6,686.6 774.1,679.7 778.2,673.6 C782.3,667.5 786.5,661.7 789.5,656.2 C792.5,650.8 793.5,647.9 796.1,640.6 C798.8,633.4 802.9,618.5 805.4,612.9 C807.9,607.2 807.7,609.8 811.3,606.8 C814.8,603.8 819.0,599.7 826.7,594.7 C834.4,589.6 847.3,582.7 857.5,576.4 C867.7,570.2 877.7,564.6 887.7,557.3 C897.8,550.1 909.4,540.0 917.9,533.1 C926.4,526.1 933.6,520.0 938.7,515.7 C943.8,511.4 946.5,501.5 948.7,507.0 Z"/></clipPath><clipPath id="cp15"><path d="M1327.5,659.6 C1329.9,651.2 1335.6,643.2 1338.1,638.2 C1340.6,633.2 1340.5,632.3 1342.4,629.7 C1344.4,627.1 1347.6,630.3 1349.8,622.7 C1351.9,615.2 1353.6,589.4 1355.4,584.4 C1357.3,579.5 1358.7,589.5 1361.1,593.1 C1363.6,596.8 1366.9,602.2 1370.2,606.2 C1373.5,610.1 1376.7,617.2 1380.9,616.8 C1385.2,616.5 1391.6,610.5 1395.9,604.1 C1400.1,597.7 1403.7,579.6 1406.4,578.3 C1409.1,577.1 1408.5,592.3 1412.1,596.6 C1415.7,600.9 1421.8,603.2 1428.0,604.1 C1434.2,605.0 1442.9,602.6 1449.3,601.8 C1455.7,601.1 1461.1,600.8 1466.5,599.7 C1471.8,598.7 1478.4,594.3 1481.4,595.4 C1484.4,596.5 1484.6,599.0 1484.6,606.2 C1484.6,613.3 1481.6,629.3 1481.4,638.2 C1481.2,647.1 1482.5,652.5 1483.5,659.6 C1484.5,666.8 1486.2,673.9 1487.6,681.0 C1489.1,688.2 1489.8,695.9 1492.0,702.3 C1494.2,708.7 1500.0,714.0 1500.7,719.3 C1501.4,724.7 1499.5,730.0 1496.3,734.3 C1493.1,738.6 1486.4,741.2 1481.4,745.1 C1476.4,749.1 1471.8,753.3 1466.5,758.0 C1461.1,762.6 1455.0,768.3 1449.3,773.0 C1443.6,777.6 1437.3,783.4 1432.3,785.8 C1427.3,788.3 1423.8,787.3 1419.5,787.9 C1415.2,788.6 1409.6,790.6 1406.4,789.8 C1403.2,789.1 1401.2,795.3 1400.2,783.6 C1399.2,771.8 1402.7,730.7 1400.2,719.3 C1397.7,707.9 1391.2,716.9 1385.1,715.2 C1379.0,713.4 1369.8,710.1 1363.8,708.7 C1357.7,707.3 1353.1,706.3 1348.8,706.6 C1344.6,707.0 1341.6,708.7 1338.1,710.8 C1334.5,712.9 1329.9,723.0 1327.5,719.3 C1325.0,715.7 1323.3,698.8 1323.3,688.9 C1323.3,678.9 1325.0,668.1 1327.5,659.6 Z"/></clipPath><clipPath id="cp16"><path d="M1324.9,179.5 C1328.9,173.6 1339.3,165.1 1345.7,158.8 C1352.0,152.4 1358.7,143.1 1363.1,141.3 C1367.4,139.6 1368.8,144.8 1371.7,148.3 C1374.6,151.8 1376.1,164.0 1380.4,162.2 C1384.8,160.5 1392.0,141.9 1397.8,137.8 C1403.6,133.8 1410.3,136.7 1415.2,137.8 C1420.1,139.0 1422.9,147.1 1427.3,144.8 C1431.6,142.5 1436.0,129.3 1441.2,124.1 C1446.4,118.9 1453.4,118.0 1458.6,113.6 C1463.8,109.3 1469.4,101.0 1472.6,98.1 C1475.7,95.3 1477.1,94.4 1477.7,96.4 C1478.2,98.4 1475.7,102.1 1476.0,110.2 C1476.3,118.2 1477.6,136.1 1479.4,144.8 C1481.1,153.5 1483.5,156.5 1486.4,162.2 C1489.2,168.0 1494.4,175.2 1496.7,179.5 C1499.1,183.8 1500.9,183.8 1500.3,188.2 C1499.8,192.5 1494.5,199.8 1493.3,205.6 C1492.2,211.4 1494.5,218.5 1493.3,222.9 C1492.2,227.2 1488.7,227.2 1486.4,231.6 C1484.0,235.9 1481.1,241.7 1479.4,249.0 C1477.6,256.2 1477.1,269.2 1476.0,274.9 C1474.8,280.7 1475.5,281.6 1472.6,283.6 C1469.7,285.7 1463.8,286.8 1458.6,287.1 C1453.4,287.4 1446.8,284.9 1441.2,285.4 C1435.7,285.8 1430.2,288.0 1425.4,289.7 C1420.5,291.5 1415.9,292.9 1412.1,295.8 C1408.4,298.7 1405.4,306.3 1402.7,307.2 C1400.0,308.0 1397.2,312.3 1396.1,300.9 C1395.0,289.4 1398.7,249.5 1396.1,238.5 C1393.5,227.6 1387.4,236.2 1380.4,235.0 C1373.5,233.9 1359.6,232.4 1354.4,231.6 C1349.2,230.7 1352.2,228.4 1349.3,229.8 C1346.4,231.3 1341.9,236.2 1337.0,240.3 C1332.1,244.3 1322.8,257.6 1319.6,254.2 C1316.4,250.8 1317.4,230.1 1317.7,220.1 C1318.1,210.0 1320.3,200.7 1321.5,193.9 C1322.7,187.2 1320.9,185.3 1324.9,179.5 Z"/></clipPath><radialGradient id="cglow"><stop offset="0" stop-color="#30d8c0" stop-opacity="0.55"/><stop offset="0.6" stop-color="#30c0e0" stop-opacity="0.2"/><stop offset="1" stop-color="#30c0e0" stop-opacity="0"/></radialGradient><clipPath id="cp17"><path d="M1698.3,1410.5 C1702.9,1407.1 1719.8,1389.3 1730.2,1378.4 C1740.6,1367.5 1750.5,1355.5 1760.7,1344.9 C1770.8,1334.3 1782.0,1324.2 1791.1,1314.5 C1800.2,1304.9 1807.7,1296.7 1815.3,1287.1 C1822.9,1277.5 1831.2,1264.5 1836.9,1256.7 C1842.5,1249.0 1844.8,1246.4 1849.3,1240.8 C1853.9,1235.2 1859.6,1229.7 1864.1,1223.2 C1868.6,1216.8 1873.3,1208.5 1876.4,1201.9 C1879.4,1195.3 1880.9,1189.1 1882.4,1183.5 C1883.9,1177.9 1885.8,1170.4 1885.4,1168.4 C1885.1,1166.4 1883.1,1167.4 1880.5,1171.4 C1878.0,1175.3 1873.1,1190.7 1870.1,1192.2 C1867.1,1193.6 1863.8,1184.1 1862.6,1180.0 C1861.3,1176.0 1862.3,1176.0 1862.6,1167.9 C1862.9,1159.8 1864.5,1143.6 1864.5,1131.4 C1864.5,1119.3 1864.1,1106.0 1862.6,1095.0 C1861.0,1084.0 1857.2,1072.3 1855.0,1065.5 C1852.8,1058.7 1851.4,1056.2 1849.3,1054.2 C1847.3,1052.2 1846.5,1049.0 1842.9,1053.3 C1839.3,1057.7 1831.7,1076.0 1827.6,1080.1 C1823.5,1084.1 1822.6,1078.6 1818.5,1077.6 C1814.5,1076.7 1806.8,1071.3 1803.2,1074.2 C1799.6,1077.1 1801.8,1089.5 1797.2,1095.0 C1792.6,1100.5 1781.7,1103.1 1775.6,1107.1 C1769.5,1111.2 1765.2,1113.7 1760.7,1119.3 C1756.2,1124.9 1754.2,1133.8 1748.6,1141.0 C1743.0,1148.2 1732.3,1157.0 1727.2,1162.7 C1722.1,1168.3 1720.2,1169.9 1718.1,1174.8 C1716.1,1179.7 1716.7,1185.2 1715.1,1192.2 C1713.6,1199.1 1712.4,1208.3 1708.9,1216.5 C1705.3,1224.7 1698.8,1234.8 1693.8,1241.5 C1688.7,1248.2 1682.7,1252.2 1678.6,1256.7 C1674.6,1261.3 1669.9,1266.9 1669.4,1268.9 C1668.8,1270.9 1670.3,1271.1 1675.4,1268.5 C1680.5,1266.0 1694.4,1253.0 1700.0,1253.6 C1705.6,1254.2 1705.3,1265.9 1708.9,1272.0 C1712.4,1278.1 1716.6,1285.2 1721.2,1290.2 C1725.7,1295.3 1731.2,1299.3 1736.3,1302.4 C1741.4,1305.4 1748.5,1304.4 1751.6,1308.5 C1754.7,1312.5 1755.1,1319.7 1754.6,1326.7 C1754.1,1333.6 1753.6,1342.2 1748.6,1350.1 C1743.5,1358.1 1731.8,1366.3 1724.2,1374.4 C1716.6,1382.5 1707.1,1392.7 1702.8,1398.7 C1698.5,1404.7 1693.7,1413.9 1698.3,1410.5 Z"/></clipPath><clipPath id="cp18"><path d="M1222.6,1380.4 C1221.5,1383.2 1236.3,1370.3 1244.7,1365.1 C1253.1,1360.0 1263.8,1354.0 1273.0,1349.5 C1282.3,1345.1 1291.7,1341.1 1300.3,1338.4 C1308.8,1335.8 1317.6,1335.5 1324.3,1333.6 C1330.9,1331.7 1334.7,1329.6 1340.3,1327.2 C1346.0,1324.8 1351.4,1324.8 1358.1,1319.2 C1364.8,1313.6 1374.2,1299.8 1380.6,1293.7 C1387.0,1287.6 1391.8,1286.8 1396.7,1282.6 C1401.5,1278.3 1404.2,1273.8 1409.5,1268.2 C1414.9,1262.6 1422.9,1253.9 1428.8,1249.1 C1434.7,1244.4 1439.7,1245.4 1445.0,1239.6 C1450.4,1233.8 1454.4,1221.0 1461.1,1214.1 C1467.8,1207.2 1477.6,1204.0 1485.1,1198.1 C1492.6,1192.3 1502.6,1186.1 1506.1,1178.9 C1509.6,1171.7 1506.1,1166.7 1506.1,1155.0 C1506.1,1143.2 1506.3,1121.6 1506.1,1108.5 C1505.8,1095.4 1507.5,1082.5 1504.6,1076.4 C1501.6,1070.3 1492.3,1073.3 1488.5,1071.7 C1484.8,1070.1 1484.8,1067.7 1482.1,1066.9 C1479.4,1066.1 1477.4,1066.3 1472.4,1066.9 C1467.5,1067.5 1458.0,1069.0 1452.6,1070.3 C1447.2,1071.7 1445.0,1074.4 1440.3,1074.9 C1435.6,1075.3 1428.8,1072.7 1424.2,1073.3 C1419.7,1073.8 1416.3,1075.2 1413.1,1078.1 C1409.9,1081.1 1408.6,1088.4 1405.2,1090.8 C1401.7,1093.2 1396.1,1093.7 1392.3,1092.4 C1388.6,1091.0 1385.3,1084.2 1382.7,1082.8 C1380.0,1081.5 1379.5,1083.8 1376.2,1084.4 C1373.0,1084.9 1366.1,1084.0 1363.4,1086.1 C1360.7,1088.3 1361.5,1089.5 1360.2,1097.2 C1358.9,1104.9 1357.1,1123.4 1355.5,1132.3 C1353.8,1141.1 1352.9,1145.6 1350.5,1150.1 C1348.1,1154.7 1346.1,1156.9 1341.1,1159.5 C1336.0,1162.1 1327.3,1163.8 1320.3,1165.7 C1313.3,1167.6 1304.4,1166.9 1299.3,1170.9 C1294.3,1175.0 1292.9,1183.9 1290.1,1190.0 C1287.3,1196.1 1285.0,1200.7 1282.5,1207.3 C1280.0,1214.0 1275.9,1222.7 1274.9,1229.9 C1274.0,1237.1 1275.6,1242.9 1276.8,1250.7 C1278.1,1258.5 1281.6,1268.0 1282.5,1276.7 C1283.4,1285.4 1284.1,1294.9 1282.5,1302.7 C1280.9,1310.5 1278.2,1315.9 1273.0,1323.5 C1267.9,1331.2 1259.9,1339.0 1251.5,1348.5 C1243.1,1358.0 1223.7,1377.6 1222.6,1380.4 Z"/></clipPath><linearGradient id="g1" x1="0" y1="0" x2="0" y2="1"><stop offset="0" stop-color="#2f7ad4"/><stop offset="1" stop-color="#1d549c"/></linearGradient><linearGradient id="g2" x1="0" y1="0" x2="1" y2="0"><stop offset="0" stop-color="#13345c"/><stop offset="1" stop-color="#06162a"/></linearGradient><linearGradient id="g3" x1="0" y1="0" x2="0" y2="1"><stop offset="0" stop-color="#f4531a"/><stop offset="1" stop-color="#c03a0c"/></linearGradient><linearGradient id="g4" x1="0" y1="0" x2="1" y2="0"><stop offset="0" stop-color="#a8400e"/><stop offset="1" stop-color="#2e0e02"/></linearGradient><linearGradient id="g5" x1="0" y1="0" x2="0" y2="1"><stop offset="0" stop-color="#9a9a9a"/><stop offset="1" stop-color="#727272"/></linearGradient><linearGradient id="g6" x1="0" y1="0" x2="1" y2="0"><stop offset="0" stop-color="#5a5a5a"/><stop offset="1" stop-color="#3c3c3c"/></linearGradient><linearGradient id="g7" x1="0" y1="0" x2="0" y2="1"><stop offset="0" stop-color="#f5b000"/><stop offset="1" stop-color="#cf8a00"/></linearGradient><linearGradient id="g8" x1="0" y1="0" x2="0" y2="1"><stop offset="0" stop-color="#1f4cc8"/><stop offset="1" stop-color="#112f96"/></linearGradient><linearGradient id="g9" x1="0" y1="0" x2="0" y2="1"><stop offset="0" stop-color="#47a02a"/><stop offset="1" stop-color="#2a7014"/></linearGradient><linearGradient id="g10" x1="0" y1="0" x2="0" y2="1"><stop offset="0" stop-color="#0f4088"/><stop offset="1" stop-color="#082a5c"/></linearGradient><linearGradient id="g11" x1="0" y1="0" x2="0" y2="1"><stop offset="0" stop-color="#9a2a02"/><stop offset="1" stop-color="#6e1800"/></linearGradient><linearGradient id="g12" x1="0" y1="0" x2="0" y2="1"><stop offset="0" stop-color="#4aa0f0"/><stop offset="1" stop-color="#164a8a"/></linearGradient><linearGradient id="g13" x1="0" y1="0" x2="0" y2="1"><stop offset="0" stop-color="#ff7a3a"/><stop offset="1" stop-color="#a83008"/></linearGradient><linearGradient id="g14" x1="0" y1="0" x2="0" y2="1"><stop offset="0" stop-color="#a8a8a8"/><stop offset="1" stop-color="#505050"/></linearGradient><linearGradient id="g15" x1="0" y1="0" x2="0" y2="1"><stop offset="0" stop-color="#ffd020"/><stop offset="1" stop-color="#a07000"/></linearGradient><linearGradient id="g16" x1="0" y1="0" x2="0" y2="1"><stop offset="0" stop-color="#4070e8"/><stop offset="1" stop-color="#0c2a90"/></linearGradient><linearGradient id="g17" x1="0" y1="0" x2="0" y2="1"><stop offset="0" stop-color="#60c040"/><stop offset="1" stop-color="#1f6010"/></linearGradient><linearGradient id="g18" x1="0" y1="0" x2="0" y2="1"><stop offset="0" stop-color="#3060b0"/><stop offset="1" stop-color="#061c48"/></linearGradient><linearGradient id="g19" x1="0" y1="0" x2="0" y2="1"><stop offset="0" stop-color="#c04010"/><stop offset="1" stop-color="#501000"/></linearGradient><linearGradient id="g20" x1="0" y1="0" x2="0" y2="1"><stop offset="0" stop-color="#4aa0f0"/><stop offset="1" stop-color="#164a8a"/></linearGradient><linearGradient id="g21" x1="0" y1="0" x2="0" y2="1"><stop offset="0" stop-color="#ff7a3a"/><stop offset="1" stop-color="#a83008"/></linearGradient><linearGradient id="g22" x1="0" y1="0" x2="0" y2="1"><stop offset="0" stop-color="#a8a8a8"/><stop offset="1" stop-color="#505050"/></linearGradient><linearGradient id="g23" x1="0" y1="0" x2="0" y2="1"><stop offset="0" stop-color="#ffd020"/><stop offset="1" stop-color="#a07000"/></linearGradient><linearGradient id="g24" x1="0" y1="0" x2="0" y2="1"><stop offset="0" stop-color="#4070e8"/><stop offset="1" stop-color="#0c2a90"/></linearGradient><linearGradient id="g25" x1="0" y1="0" x2="0" y2="1"><stop offset="0" stop-color="#60c040"/><stop offset="1" stop-color="#1f6010"/></linearGradient><linearGradient id="g26" x1="0" y1="0" x2="0" y2="1"><stop offset="0" stop-color="#3060b0"/><stop offset="1" stop-color="#061c48"/></linearGradient><linearGradient id="g27" x1="0" y1="0" x2="0" y2="1"><stop offset="0" stop-color="#c04010"/><stop offset="1" stop-color="#501000"/></linearGradient><linearGradient id="g28" x1="0" y1="0" x2="1" y2="0"><stop offset="0" stop-color="#3a6a18"/><stop offset="1" stop-color="#142a06"/></linearGradient><linearGradient id="g29" x1="0" y1="0" x2="0" y2="1"><stop offset="0" stop-color="#555555"/><stop offset="1" stop-color="#3a3a3a"/></linearGradient><linearGradient id="g30" x1="0" y1="0" x2="0" y2="1"><stop offset="0" stop-color="#d09a20"/><stop offset="1" stop-color="#a07010"/></linearGradient><linearGradient id="g31" x1="0" y1="0" x2="0" y2="1"><stop offset="0" stop-color="#2050c0"/><stop offset="1" stop-color="#103090"/></linearGradient><linearGradient id="g32" x1="0" y1="0" x2="1" y2="0"><stop offset="0" stop-color="#5a1c04"/><stop offset="1" stop-color="#2a0a02"/></linearGradient><linearGradient id="g33" x1="0" y1="0" x2="1" y2="0"><stop offset="0" stop-color="#3a3a3a"/><stop offset="1" stop-color="#262626"/></linearGradient><linearGradient id="g34" x1="0" y1="0" x2="0" y2="1"><stop offset="0" stop-color="#44942a"/><stop offset="1" stop-color="#2c6a12"/></linearGradient><linearGradient id="g35" x1="0" y1="0" x2="1" y2="0"><stop offset="0" stop-color="#b08000"/><stop offset="1" stop-color="#805000"/></linearGradient><linearGradient id="g36" x1="0" y1="0" x2="0" y2="1"><stop offset="0" stop-color="#4aa0f0"/><stop offset="1" stop-color="#164a8a"/></linearGradient><linearGradient id="g37" x1="0" y1="0" x2="0" y2="1"><stop offset="0" stop-color="#ff7a3a"/><stop offset="1" stop-color="#a83008"/></linearGradient><linearGradient id="g38" x1="0" y1="0" x2="0" y2="1"><stop offset="0" stop-color="#b0b0b0"/><stop offset="1" stop-color="#606060"/></linearGradient><linearGradient id="g39" x1="0" y1="0" x2="0" y2="1"><stop offset="0" stop-color="#ffd020"/><stop offset="1" stop-color="#a07000"/></linearGradient><linearGradient id="g40" x1="0" y1="0" x2="0" y2="1"><stop offset="0" stop-color="#4070e8"/><stop offset="1" stop-color="#0c2a90"/></linearGradient><linearGradient id="g41" x1="0" y1="0" x2="0" y2="1"><stop offset="0" stop-color="#60c040"/><stop offset="1" stop-color="#1f6010"/></linearGradient><linearGradient id="g42" x1="0" y1="0" x2="0" y2="1"><stop offset="0" stop-color="#3060b0"/><stop offset="1" stop-color="#061c48"/></linearGradient><linearGradient id="g43" x1="0" y1="0" x2="0" y2="1"><stop offset="0" stop-color="#c04010"/><stop offset="1" stop-color="#501000"/></linearGradient><linearGradient id="g44" x1="0" y1="0" x2="0" y2="1"><stop offset="0" stop-color="#707070"/><stop offset="1" stop-color="#303030"/></linearGradient><linearGradient id="g45" x1="0" y1="0" x2="0" y2="1"><stop offset="0" stop-color="#d0a030"/><stop offset="1" stop-color="#805000"/></linearGradient></defs>
<rect width="2195" height="1497" fill="#fff"/>
<rect x="35.8" y="83.3" width="509.0" height="358.5" fill="#fff" stroke="#1c1c1c" stroke-width="2.6"/>
<path d="M504.0,238.5 A211,90.5 0 0 1 452.7,297.6 L452.7,341.6 A211,90.5 0 0 0 504.0,282.5 Z" fill="url(#g2)"/>
<path d="M452.7,297.6 A211,90.5 0 0 1 147.8,304.1 L147.8,348.1 A211,90.5 0 0 0 452.7,341.6 Z" fill="url(#g4)"/>
<path d="M147.8,304.1 A211,90.5 0 0 1 82.0,238.5 L82.0,282.5 A211,90.5 0 0 0 147.8,348.1 Z" fill="url(#g6)"/>
<path d="M293.0,220.0 L293.0,148.0 A211,90.5 0 0 1 452.7,297.6 Z" fill="url(#g1)" stroke="url(#g1)" stroke-width="0.4" stroke-opacity="0.5"/>
<path d="M293.0,220.0 L452.7,297.6 A211,90.5 0 0 1 147.8,304.1 Z" fill="url(#g3)" stroke="url(#g3)" stroke-width="0.4" stroke-opacity="0.5"/>
<path d="M293.0,220.0 L147.8,304.1 A211,90.5 0 0 1 85.9,221.2 Z" fill="url(#g5)" stroke="url(#g5)" stroke-width="0.4" stroke-opacity="0.5"/>
<path d="M293.0,220.0 L85.9,221.2 A211,90.5 0 0 1 120.4,186.5 Z" fill="url(#g7)" stroke="url(#g7)" stroke-width="0.4" stroke-opacity="0.5"/>
<path d="M293.0,220.0 L120.4,186.5 A211,90.5 0 0 1 173.2,164.0 Z" fill="url(#g8)" stroke="url(#g8)" stroke-width="0.4" stroke-opacity="0.5"/>
<path d="M293.0,220.0 L173.2,164.0 A211,90.5 0 0 1 227.4,152.5 Z" fill="url(#g9)" stroke="url(#g9)" stroke-width="0.4" stroke-opacity="0.5"/>
<path d="M293.0,220.0 L227.4,152.5 A211,90.5 0 0 1 266.9,148.7 Z" fill="url(#g10)" stroke="url(#g10)" stroke-width="0.4" stroke-opacity="0.5"/>
<path d="M293.0,220.0 L266.9,148.7 A211,90.5 0 0 1 293.0,148.0 Z" fill="url(#g11)" stroke="url(#g11)" stroke-width="0.4" stroke-opacity="0.5"/>
<line x1="293.0" y1="220.0" x2="293.0" y2="148.0" stroke="#000" stroke-opacity="0.35" stroke-width="1"/>
<line x1="293.0" y1="220.0" x2="452.7" y2="297.6" stroke="#000" stroke-opacity="0.35" stroke-width="1"/>
<line x1="452.7" y1="297.6" x2="452.7" y2="341.6" stroke="#000" stroke-opacity="0.3" stroke-width="1"/>
<line x1="293.0" y1="220.0" x2="147.8" y2="304.1" stroke="#000" stroke-opacity="0.35" stroke-width="1"/>
<line x1="147.8" y1="304.1" x2="147.8" y2="348.1" stroke="#000" stroke-opacity="0.3" stroke-width="1"/>
<line x1="293.0" y1="220.0" x2="85.9" y2="221.2" stroke="#000" stroke-opacity="0.35" stroke-width="1"/>
<line x1="293.0" y1="220.0" x2="120.4" y2="186.5" stroke="#000" stroke-opacity="0.35" stroke-width="1"/>
<line x1="293.0" y1="220.0" x2="173.2" y2="164.0" stroke="#000" stroke-opacity="0.35" stroke-width="1"/>
<line x1="293.0" y1="220.0" x2="227.4" y2="152.5" stroke="#000" stroke-opacity="0.35" stroke-width="1"/>
<line x1="293.0" y1="220.0" x2="266.9" y2="148.7" stroke="#000" stroke-opacity="0.35" stroke-width="1"/>
<polyline points="322,372.5 372,368.5 440,365.5" fill="none" stroke="#8a8a8a" stroke-width="1.8"/>
<text x="455.4" y="176.4" font-family="'Liberation Serif','Times New Roman',serif" font-size="26.4" font-weight="bold" font-style="normal" fill="#000" text-anchor="start" >36.70%</text>
<text x="275.8" y="141.1" font-family="'Liberation Serif','Times New Roman',serif" font-size="26.4" font-weight="bold" font-style="normal" fill="#000" text-anchor="start" >2.40%</text>
<text x="197.2" y="145.9" font-family="'Liberation Serif','Times New Roman',serif" font-size="26.4" font-weight="bold" font-style="normal" fill="#000" text-anchor="start" >3.60%</text>
<text x="125.1" y="157.2" font-family="'Liberation Serif','Times New Roman',serif" font-size="26.4" font-weight="bold" font-style="normal" fill="#000" text-anchor="start" >5.10%</text>
<text x="67.3" y="176.4" font-family="'Liberation Serif','Times New Roman',serif" font-size="26.4" font-weight="bold" font-style="normal" fill="#000" text-anchor="start" >6.10%</text>
<text x="48.1" y="208.5" font-family="'Liberation Serif','Times New Roman',serif" font-size="26.4" font-weight="bold" font-style="normal" fill="#000" text-anchor="start" >6.40%</text>
<text x="43.3" y="351.2" font-family="'Liberation Serif','Times New Roman',serif" font-size="26.4" font-weight="bold" font-style="normal" fill="#000" text-anchor="start" >14.50%</text>
<text x="442.0" y="367.2" font-family="'Liberation Serif','Times New Roman',serif" font-size="26.4" font-weight="bold" font-style="normal" fill="#000" text-anchor="start" >20.90%</text>
<text x="527.6" y="115.6" font-family="'Liberation Serif','Times New Roman',serif" font-size="26" font-weight="bold" font-style="normal" fill="#000" text-anchor="end" >H-mel(1)</text>
<rect x="98.9" y="381.2" width="11.5" height="11.5" fill="url(#g12)"/>
<text x="115.8" y="392.2" font-family="'Liberation Sans',Arial,sans-serif" font-size="15.5" font-weight="bold" font-style="normal" fill="#383838" text-anchor="start" textLength="37.3" lengthAdjust="spacingAndGlyphs" stroke="#383838" stroke-width="0.35">H...H</text>
<rect x="243.5" y="381.2" width="11.5" height="11.5" fill="url(#g13)"/>
<text x="260.2" y="392.2" font-family="'Liberation Sans',Arial,sans-serif" font-size="15.5" font-weight="bold" font-style="normal" fill="#383838" text-anchor="start" textLength="86.6" lengthAdjust="spacingAndGlyphs" stroke="#383838" stroke-width="0.35">H...N/N...H</text>
<rect x="388.5" y="381.2" width="11.5" height="11.5" fill="url(#g14)"/>
<text x="405.4" y="392.2" font-family="'Liberation Sans',Arial,sans-serif" font-size="15.5" font-weight="bold" font-style="normal" fill="#383838" text-anchor="start" textLength="40.9" lengthAdjust="spacingAndGlyphs" stroke="#383838" stroke-width="0.35">H...Cl</text>
<rect x="98.9" y="401.6" width="11.5" height="11.5" fill="url(#g15)"/>
<text x="115.8" y="412.6" font-family="'Liberation Sans',Arial,sans-serif" font-size="15.5" font-weight="bold" font-style="normal" fill="#383838" text-anchor="start" textLength="41.7" lengthAdjust="spacingAndGlyphs" stroke="#383838" stroke-width="0.35">N...Cl</text>
<rect x="243.5" y="401.6" width="11.5" height="11.5" fill="url(#g16)"/>
<text x="260.2" y="412.6" font-family="'Liberation Sans',Arial,sans-serif" font-size="15.5" font-weight="bold" font-style="normal" fill="#383838" text-anchor="start" textLength="81.2" lengthAdjust="spacingAndGlyphs" stroke="#383838" stroke-width="0.35">H...C/C...H</text>
<rect x="388.5" y="401.6" width="11.5" height="11.5" fill="url(#g17)"/>
<text x="405.4" y="412.6" font-family="'Liberation Sans',Arial,sans-serif" font-size="15.5" font-weight="bold" font-style="normal" fill="#383838" text-anchor="start" textLength="38.2" lengthAdjust="spacingAndGlyphs" stroke="#383838" stroke-width="0.35">H...O</text>
<rect x="98.9" y="422.1" width="11.5" height="11.5" fill="url(#g18)"/>
<text x="115.8" y="433.1" font-family="'Liberation Sans',Arial,sans-serif" font-size="15.5" font-weight="bold" font-style="normal" fill="#383838" text-anchor="start" textLength="82.2" lengthAdjust="spacingAndGlyphs" stroke="#383838" stroke-width="0.35">N...C/C...N</text>
<rect x="243.5" y="422.1" width="11.5" height="11.5" fill="url(#g19)"/>
<text x="260.2" y="433.1" font-family="'Liberation Sans',Arial,sans-serif" font-size="15.5" font-weight="bold" font-style="normal" fill="#383838" text-anchor="start" textLength="39.1" lengthAdjust="spacingAndGlyphs" stroke="#383838" stroke-width="0.35">N...N</text>
<rect x="40.4" y="554.9" width="508.0" height="357.5" fill="#fff" stroke="#1c1c1c" stroke-width="2.6"/>
<path d="M507.1,710.0 A210,91 0 0 1 483.7,751.7 L483.7,795.7 A210,91 0 0 0 507.1,754.0 Z" fill="url(#g2)"/>
<path d="M483.7,751.7 A210,91 0 0 1 166.4,781.2 L166.4,825.2 A210,91 0 0 0 483.7,795.7 Z" fill="url(#g4)"/>
<path d="M166.4,781.2 A210,91 0 0 1 87.1,710.0 L87.1,754.0 A210,91 0 0 0 166.4,825.2 Z" fill="url(#g6)"/>
<path d="M296.8,692.8 L297.1,619.0 A210,91 0 0 1 483.7,751.7 Z" fill="url(#g1)" stroke="url(#g1)" stroke-width="0.4" stroke-opacity="0.5"/>
<path d="M296.8,692.8 L483.7,751.7 A210,91 0 0 1 166.4,781.2 Z" fill="url(#g3)" stroke="url(#g3)" stroke-width="0.4" stroke-opacity="0.5"/>
<path d="M296.8,692.8 L166.4,781.2 A210,91 0 0 1 113.3,666.0 Z" fill="url(#g5)" stroke="url(#g5)" stroke-width="0.4" stroke-opacity="0.5"/>
<path d="M296.8,692.8 L113.3,666.0 A210,91 0 0 1 153.3,643.7 Z" fill="url(#g7)" stroke="url(#g7)" stroke-width="0.4" stroke-opacity="0.5"/>
<path d="M296.8,692.8 L153.3,643.7 A210,91 0 0 1 223.6,624.8 Z" fill="url(#g8)" stroke="url(#g8)" stroke-width="0.4" stroke-opacity="0.5"/>
<path d="M296.8,692.8 L223.6,624.8 A210,91 0 0 1 229.8,623.8 Z" fill="url(#g9)" stroke="url(#g9)" stroke-width="0.4" stroke-opacity="0.5"/>
<path d="M296.8,692.8 L229.8,623.8 A210,91 0 0 1 270.1,619.8 Z" fill="url(#g10)" stroke="url(#g10)" stroke-width="0.4" stroke-opacity="0.5"/>
<path d="M296.8,692.8 L270.1,619.8 A210,91 0 0 1 297.1,619.0 Z" fill="url(#g11)" stroke="url(#g11)" stroke-width="0.4" stroke-opacity="0.5"/>
<line x1="296.8" y1="692.8" x2="297.1" y2="619.0" stroke="#000" stroke-opacity="0.35" stroke-width="1"/>
<line x1="296.8" y1="692.8" x2="483.7" y2="751.7" stroke="#000" stroke-opacity="0.35" stroke-width="1"/>
<line x1="483.7" y1="751.7" x2="483.7" y2="795.7" stroke="#000" stroke-opacity="0.3" stroke-width="1"/>
<line x1="296.8" y1="692.8" x2="166.4" y2="781.2" stroke="#000" stroke-opacity="0.35" stroke-width="1"/>
<line x1="166.4" y1="781.2" x2="166.4" y2="825.2" stroke="#000" stroke-opacity="0.3" stroke-width="1"/>
<line x1="296.8" y1="692.8" x2="113.3" y2="666.0" stroke="#000" stroke-opacity="0.35" stroke-width="1"/>
<line x1="296.8" y1="692.8" x2="153.3" y2="643.7" stroke="#000" stroke-opacity="0.35" stroke-width="1"/>
<line x1="296.8" y1="692.8" x2="223.6" y2="624.8" stroke="#000" stroke-opacity="0.35" stroke-width="1"/>
<line x1="296.8" y1="692.8" x2="229.8" y2="623.8" stroke="#000" stroke-opacity="0.35" stroke-width="1"/>
<line x1="296.8" y1="692.8" x2="270.1" y2="619.8" stroke="#000" stroke-opacity="0.35" stroke-width="1"/>
<text x="460.8" y="644.0" font-family="'Liberation Serif','Times New Roman',serif" font-size="26.4" font-weight="bold" font-style="normal" fill="#000" text-anchor="start" >34.20%</text>
<text x="459.6" y="835.5" font-family="'Liberation Serif','Times New Roman',serif" font-size="26.4" font-weight="bold" font-style="normal" fill="#000" text-anchor="start" >23.00%</text>
<text x="42.5" y="755.4" font-family="'Liberation Serif','Times New Roman',serif" font-size="26.4" font-weight="bold" font-style="normal" fill="#000" text-anchor="start" >21.00%</text>
<text x="70.4" y="660.7" font-family="'Liberation Serif','Times New Roman',serif" font-size="26.4" font-weight="bold" font-style="normal" fill="#000" text-anchor="start" >5.10%</text>
<text x="108.0" y="634.6" font-family="'Liberation Serif','Times New Roman',serif" font-size="26.4" font-weight="bold" font-style="normal" fill="#000" text-anchor="start" >7.00%</text>
<text x="173.7" y="618.0" font-family="'Liberation Serif','Times New Roman',serif" font-size="26.4" font-weight="bold" font-style="normal" fill="#000" text-anchor="start" >0.70%</text>
<text x="165.4" y="588.7" font-family="'Liberation Serif','Times New Roman',serif" font-size="26.4" font-weight="bold" font-style="normal" fill="#000" text-anchor="start" >3.60%</text>
<text x="253.4" y="608.4" font-family="'Liberation Serif','Times New Roman',serif" font-size="26.4" font-weight="bold" font-style="normal" fill="#000" text-anchor="start" >2.60%</text>
<polyline points="236.8,584.8 247.7,584.8 247.7,623.1" fill="none" stroke="#000" stroke-width="3.6"/>
<text x="534.7" y="587.6" font-family="'Liberation Serif','Times New Roman',serif" font-size="26" font-weight="bold" font-style="normal" fill="#000" text-anchor="end" >H-mel(2)</text>
<rect x="103.3" y="852.1" width="11.5" height="11.5" fill="url(#g20)"/>
<text x="120.2" y="863.1" font-family="'Liberation Sans',Arial,sans-serif" font-size="15.5" font-weight="bold" font-style="normal" fill="#383838" text-anchor="start" textLength="37.3" lengthAdjust="spacingAndGlyphs" stroke="#383838" stroke-width="0.35">H...H</text>
<rect x="247.8" y="852.1" width="11.5" height="11.5" fill="url(#g21)"/>
<text x="265.0" y="863.1" font-family="'Liberation Sans',Arial,sans-serif" font-size="15.5" font-weight="bold" font-style="normal" fill="#383838" text-anchor="start" textLength="86.2" lengthAdjust="spacingAndGlyphs" stroke="#383838" stroke-width="0.35">H...N/N...H</text>
<rect x="393.0" y="852.1" width="11.5" height="11.5" fill="url(#g22)"/>
<text x="409.8" y="863.1" font-family="'Liberation Sans',Arial,sans-serif" font-size="15.5" font-weight="bold" font-style="normal" fill="#383838" text-anchor="start" textLength="40.9" lengthAdjust="spacingAndGlyphs" stroke="#383838" stroke-width="0.35">H...Cl</text>
<rect x="103.3" y="872.5" width="11.5" height="11.5" fill="url(#g23)"/>
<text x="120.2" y="883.5" font-family="'Liberation Sans',Arial,sans-serif" font-size="15.5" font-weight="bold" font-style="normal" fill="#383838" text-anchor="start" textLength="41.8" lengthAdjust="spacingAndGlyphs" stroke="#383838" stroke-width="0.35">N...Cl</text>
<rect x="247.8" y="872.5" width="11.5" height="11.5" fill="url(#g24)"/>
<text x="265.0" y="883.5" font-family="'Liberation Sans',Arial,sans-serif" font-size="15.5" font-weight="bold" font-style="normal" fill="#383838" text-anchor="start" textLength="80.9" lengthAdjust="spacingAndGlyphs" stroke="#383838" stroke-width="0.35">H...C/C...H</text>
<rect x="393.0" y="872.5" width="11.5" height="11.5" fill="url(#g25)"/>
<text x="409.8" y="883.5" font-family="'Liberation Sans',Arial,sans-serif" font-size="15.5" font-weight="bold" font-style="normal" fill="#383838" text-anchor="start" textLength="38.2" lengthAdjust="spacingAndGlyphs" stroke="#383838" stroke-width="0.35">H...O</text>
<rect x="103.3" y="893.0" width="11.5" height="11.5" fill="url(#g26)"/>
<text x="120.2" y="904.0" font-family="'Liberation Sans',Arial,sans-serif" font-size="15.5" font-weight="bold" font-style="normal" fill="#383838" text-anchor="start" textLength="82.6" lengthAdjust="spacingAndGlyphs" stroke="#383838" stroke-width="0.35">N...C/C...N</text>
<rect x="247.8" y="893.0" width="11.5" height="11.5" fill="url(#g27)"/>
<text x="265.0" y="904.0" font-family="'Liberation Sans',Arial,sans-serif" font-size="15.5" font-weight="bold" font-style="normal" fill="#383838" text-anchor="start" textLength="38.2" lengthAdjust="spacingAndGlyphs" stroke="#383838" stroke-width="0.35">N...N</text>
<rect x="308.5" y="1040.5" width="703.7" height="389.0" fill="#fff" stroke="#1c1c1c" stroke-width="2.6"/>
<path d="M847.0,1217.0 A187,80.5 0 0 1 779.7,1278.8 L779.7,1318.8 A187,80.5 0 0 0 847.0,1257.0 Z" fill="url(#g2)"/>
<path d="M779.7,1278.8 A187,80.5 0 0 1 698.6,1295.8 L698.6,1335.8 A187,80.5 0 0 0 779.7,1318.8 Z" fill="url(#g32)"/>
<path d="M698.6,1295.8 A187,80.5 0 0 1 670.8,1297.4 L670.8,1337.4 A187,80.5 0 0 0 698.6,1335.8 Z" fill="url(#g33)"/>
<path d="M670.8,1297.4 A187,80.5 0 0 1 665.9,1297.5 L665.9,1337.5 A187,80.5 0 0 0 670.8,1337.4 Z" fill="url(#g35)"/>
<path d="M665.9,1297.5 A187,80.5 0 0 1 662.6,1297.5 L662.6,1337.5 A187,80.5 0 0 0 665.9,1337.5 Z" fill="url(#g2)"/>
<path d="M662.6,1297.5 A187,80.5 0 0 1 476.1,1231.7 L476.1,1271.7 A187,80.5 0 0 0 662.6,1337.5 Z" fill="url(#g28)"/>
<path d="M476.1,1231.7 A187,80.5 0 0 1 473.0,1217.0 L473.0,1257.0 A187,80.5 0 0 0 476.1,1271.7 Z" fill="url(#g2)"/>
<path d="M659.2,1200.6 L660.0,1136.5 A187,80.5 0 0 1 779.7,1278.8 Z" fill="url(#g1)" stroke="url(#g1)" stroke-width="0.4" stroke-opacity="0.5"/>
<path d="M659.2,1200.6 L779.7,1278.8 A187,80.5 0 0 1 698.6,1295.8 Z" fill="url(#g3)" stroke="url(#g3)" stroke-width="0.4" stroke-opacity="0.5"/>
<path d="M659.2,1200.6 L698.6,1295.8 A187,80.5 0 0 1 670.8,1297.4 Z" fill="url(#g5)" stroke="url(#g5)" stroke-width="0.4" stroke-opacity="0.5"/>
<path d="M659.2,1200.6 L670.8,1297.4 A187,80.5 0 0 1 665.9,1297.5 Z" fill="url(#g7)" stroke="url(#g7)" stroke-width="0.4" stroke-opacity="0.5"/>
<path d="M659.2,1200.6 L665.9,1297.5 A187,80.5 0 0 1 662.6,1297.5 Z" fill="url(#g31)" stroke="url(#g31)" stroke-width="0.4" stroke-opacity="0.5"/>
<path d="M659.2,1200.6 L662.6,1297.5 A187,80.5 0 0 1 476.1,1231.7 Z" fill="url(#g34)" stroke="url(#g34)" stroke-width="0.4" stroke-opacity="0.5"/>
<path d="M659.2,1200.6 L476.1,1231.7 A187,80.5 0 0 1 530.1,1159.1 Z" fill="url(#g10)" stroke="url(#g10)" stroke-width="0.4" stroke-opacity="0.5"/>
<path d="M659.2,1200.6 L530.1,1159.1 A187,80.5 0 0 1 642.4,1136.9 Z" fill="url(#g11)" stroke="url(#g11)" stroke-width="0.4" stroke-opacity="0.5"/>
<path d="M659.2,1200.6 L642.4,1136.9 A187,80.5 0 0 1 655.1,1136.5 Z" fill="url(#g29)" stroke="url(#g29)" stroke-width="0.4" stroke-opacity="0.5"/>
<path d="M659.2,1200.6 L655.1,1136.5 A187,80.5 0 0 1 660.0,1136.5 Z" fill="url(#g30)" stroke="url(#g30)" stroke-width="0.4" stroke-opacity="0.5"/>
<line x1="659.2" y1="1200.6" x2="660.0" y2="1136.5" stroke="#000" stroke-opacity="0.35" stroke-width="1"/>
<line x1="659.2" y1="1200.6" x2="779.7" y2="1278.8" stroke="#000" stroke-opacity="0.35" stroke-width="1"/>
<line x1="779.7" y1="1278.8" x2="779.7" y2="1318.8" stroke="#000" stroke-opacity="0.3" stroke-width="1"/>
<line x1="659.2" y1="1200.6" x2="698.6" y2="1295.8" stroke="#000" stroke-opacity="0.35" stroke-width="1"/>
<line x1="698.6" y1="1295.8" x2="698.6" y2="1335.8" stroke="#000" stroke-opacity="0.3" stroke-width="1"/>
<line x1="659.2" y1="1200.6" x2="670.8" y2="1297.4" stroke="#000" stroke-opacity="0.35" stroke-width="1"/>
<line x1="670.8" y1="1297.4" x2="670.8" y2="1337.4" stroke="#000" stroke-opacity="0.3" stroke-width="1"/>
<line x1="659.2" y1="1200.6" x2="665.9" y2="1297.5" stroke="#000" stroke-opacity="0.35" stroke-width="1"/>
<line x1="665.9" y1="1297.5" x2="665.9" y2="1337.5" stroke="#000" stroke-opacity="0.3" stroke-width="1"/>
<line x1="659.2" y1="1200.6" x2="662.6" y2="1297.5" stroke="#000" stroke-opacity="0.35" stroke-width="1"/>
<line x1="662.6" y1="1297.5" x2="662.6" y2="1337.5" stroke="#000" stroke-opacity="0.3" stroke-width="1"/>
<line x1="659.2" y1="1200.6" x2="476.1" y2="1231.7" stroke="#000" stroke-opacity="0.35" stroke-width="1"/>
<line x1="476.1" y1="1231.7" x2="476.1" y2="1271.7" stroke="#000" stroke-opacity="0.3" stroke-width="1"/>
<line x1="659.2" y1="1200.6" x2="530.1" y2="1159.1" stroke="#000" stroke-opacity="0.35" stroke-width="1"/>
<line x1="659.2" y1="1200.6" x2="642.4" y2="1136.9" stroke="#000" stroke-opacity="0.35" stroke-width="1"/>
<line x1="659.2" y1="1200.6" x2="655.1" y2="1136.5" stroke="#000" stroke-opacity="0.35" stroke-width="1"/>
<polyline points="658,1138 658,1122 666,1120.5" fill="none" stroke="#8a8a8a" stroke-width="1.8"/>
<polyline points="744.5,1328.5 756,1349.8 762,1349.8" fill="none" stroke="#8a8a8a" stroke-width="1.8"/>
<polyline points="683.8,1338 687,1369.5 694,1369.5" fill="none" stroke="#8a8a8a" stroke-width="1.8"/>
<polyline points="667.4,1338 667.4,1372" fill="none" stroke="#8a8a8a" stroke-width="1.8"/>
<polyline points="660.8,1338 631.3,1366 620,1367" fill="none" stroke="#8a8a8a" stroke-width="1.8"/>
<text x="788.4" y="1160.7" font-family="'Liberation Serif','Times New Roman',serif" font-size="26" font-weight="bold" font-style="normal" fill="#000" text-anchor="start" >80.00%</text>
<text x="483.7" y="1143.2" font-family="'Liberation Serif','Times New Roman',serif" font-size="26" font-weight="bold" font-style="normal" fill="#000" text-anchor="start" >24.70%</text>
<text x="583.7" y="1133.3" font-family="'Liberation Serif','Times New Roman',serif" font-size="26" font-weight="bold" font-style="normal" fill="#000" text-anchor="start" >3.40%</text>
<text x="670.3" y="1126.3" font-family="'Liberation Serif','Times New Roman',serif" font-size="26" font-weight="bold" font-style="normal" fill="#000" text-anchor="start" >0.70%</text>
<text x="400.0" y="1208.8" font-family="'Liberation Serif','Times New Roman',serif" font-size="26" font-weight="bold" font-style="normal" fill="#000" text-anchor="start" >31.50%</text>
<text x="437.8" y="1317.0" font-family="'Liberation Serif','Times New Roman',serif" font-size="26" font-weight="bold" font-style="normal" fill="#000" text-anchor="start" >39.00%</text>
<text x="760.9" y="1353.1" font-family="'Liberation Serif','Times New Roman',serif" font-size="26" font-weight="bold" font-style="normal" fill="#000" text-anchor="start" >13.10%</text>
<text x="549.3" y="1372.8" font-family="'Liberation Serif','Times New Roman',serif" font-size="26" font-weight="bold" font-style="normal" fill="#000" text-anchor="start" >0.30%</text>
<text x="695.3" y="1374.4" font-family="'Liberation Serif','Times New Roman',serif" font-size="26" font-weight="bold" font-style="normal" fill="#000" text-anchor="start" >4.40%</text>
<text x="629.7" y="1390.8" font-family="'Liberation Serif','Times New Roman',serif" font-size="26" font-weight="bold" font-style="normal" fill="#000" text-anchor="start" >0.80%</text>
<text x="812" y="1084.4" font-family="'Liberation Serif','Times New Roman',serif" font-size="32" font-weight="bold" fill="#000">H<tspan dy="15.5">2</tspan><tspan dy="-15.5">O+ZnCl</tspan><tspan dy="12.5">4</tspan></text>
<rect x="350.5" y="1397.0" width="11.2" height="11.2" fill="url(#g36)"/>
<text x="367.0" y="1408.5" font-family="'Liberation Sans',Arial,sans-serif" font-size="15" font-weight="bold" font-style="normal" fill="#383838" text-anchor="start" textLength="40.6" lengthAdjust="spacingAndGlyphs" stroke="#383838" stroke-width="0.35">Cl...H</text>
<rect x="414.6" y="1397.0" width="11.2" height="11.2" fill="url(#g37)"/>
<text x="430.8" y="1408.5" font-family="'Liberation Sans',Arial,sans-serif" font-size="15" font-weight="bold" font-style="normal" fill="#383838" text-anchor="start" textLength="41.5" lengthAdjust="spacingAndGlyphs" stroke="#383838" stroke-width="0.35">Cl...N</text>
<rect x="479.8" y="1397.0" width="11.2" height="11.2" fill="url(#g38)"/>
<text x="495.7" y="1408.5" font-family="'Liberation Sans',Arial,sans-serif" font-size="15" font-weight="bold" font-style="normal" fill="#383838" text-anchor="start" textLength="39.7" lengthAdjust="spacingAndGlyphs" stroke="#383838" stroke-width="0.35">Cl...C</text>
<rect x="541.4" y="1397.0" width="11.2" height="11.2" fill="url(#g39)"/>
<text x="558.0" y="1408.5" font-family="'Liberation Sans',Arial,sans-serif" font-size="15" font-weight="bold" font-style="normal" fill="#383838" text-anchor="start" textLength="43.0" lengthAdjust="spacingAndGlyphs" stroke="#383838" stroke-width="0.35">Cl...Cl</text>
<rect x="608.5" y="1397.0" width="11.2" height="11.2" fill="url(#g40)"/>
<text x="625.0" y="1408.5" font-family="'Liberation Sans',Arial,sans-serif" font-size="15" font-weight="bold" font-style="normal" fill="#383838" text-anchor="start" textLength="41.2" lengthAdjust="spacingAndGlyphs" stroke="#383838" stroke-width="0.35">Cl...O</text>
<rect x="673.1" y="1397.0" width="11.2" height="11.2" fill="url(#g41)"/>
<text x="690.3" y="1408.5" font-family="'Liberation Sans',Arial,sans-serif" font-size="15" font-weight="bold" font-style="normal" fill="#383838" text-anchor="start" textLength="40.6" lengthAdjust="spacingAndGlyphs" stroke="#383838" stroke-width="0.35">H...Cl</text>
<rect x="737.8" y="1397.0" width="11.2" height="11.2" fill="url(#g42)"/>
<text x="754.3" y="1408.5" font-family="'Liberation Sans',Arial,sans-serif" font-size="15" font-weight="bold" font-style="normal" fill="#383838" text-anchor="start" textLength="37.6" lengthAdjust="spacingAndGlyphs" stroke="#383838" stroke-width="0.35">H...H</text>
<rect x="799.4" y="1397.0" width="11.2" height="11.2" fill="url(#g43)"/>
<text x="816.0" y="1408.5" font-family="'Liberation Sans',Arial,sans-serif" font-size="15" font-weight="bold" font-style="normal" fill="#383838" text-anchor="start" textLength="38.7" lengthAdjust="spacingAndGlyphs" stroke="#383838" stroke-width="0.35">O...H</text>
<rect x="861.6" y="1397.0" width="11.2" height="11.2" fill="url(#g44)"/>
<text x="878.2" y="1408.5" font-family="'Liberation Sans',Arial,sans-serif" font-size="15" font-weight="bold" font-style="normal" fill="#383838" text-anchor="start" textLength="38.5" lengthAdjust="spacingAndGlyphs" stroke="#383838" stroke-width="0.35">H...N</text>
<rect x="923.3" y="1397.0" width="11.2" height="11.2" fill="url(#g45)"/>
<text x="939.2" y="1408.5" font-family="'Liberation Sans',Arial,sans-serif" font-size="15" font-weight="bold" font-style="normal" fill="#383838" text-anchor="start" textLength="37.6" lengthAdjust="spacingAndGlyphs" stroke="#383838" stroke-width="0.35">H...C</text>
<rect x="613.3" y="25.0" width="493.4" height="455.4" fill="#fff"/>
<line x1="653.1" y1="28.0" x2="653.1" y2="477.4" stroke="#9c9c9c" stroke-width="2.1"/>
<line x1="616.3" y1="61.2" x2="1103.7" y2="61.2" stroke="#b2b2b2" stroke-width="2"/>
<line x1="690.9" y1="28.0" x2="690.9" y2="477.4" stroke="#9c9c9c" stroke-width="2.1"/>
<line x1="616.3" y1="96.0" x2="1103.7" y2="96.0" stroke="#b2b2b2" stroke-width="2"/>
<line x1="728.7" y1="28.0" x2="728.7" y2="477.4" stroke="#9c9c9c" stroke-width="2.1"/>
<line x1="616.3" y1="130.9" x2="1103.7" y2="130.9" stroke="#b2b2b2" stroke-width="2"/>
<line x1="766.4" y1="28.0" x2="766.4" y2="477.4" stroke="#9c9c9c" stroke-width="2.1"/>
<line x1="616.3" y1="165.7" x2="1103.7" y2="165.7" stroke="#b2b2b2" stroke-width="2"/>
<line x1="804.2" y1="28.0" x2="804.2" y2="477.4" stroke="#9c9c9c" stroke-width="2.1"/>
<line x1="616.3" y1="200.5" x2="1103.7" y2="200.5" stroke="#b2b2b2" stroke-width="2"/>
<line x1="842.0" y1="28.0" x2="842.0" y2="477.4" stroke="#9c9c9c" stroke-width="2.1"/>
<line x1="616.3" y1="235.3" x2="1103.7" y2="235.3" stroke="#b2b2b2" stroke-width="2"/>
<line x1="879.8" y1="28.0" x2="879.8" y2="477.4" stroke="#9c9c9c" stroke-width="2.1"/>
<line x1="616.3" y1="270.2" x2="1103.7" y2="270.2" stroke="#b2b2b2" stroke-width="2"/>
<line x1="917.6" y1="28.0" x2="917.6" y2="477.4" stroke="#9c9c9c" stroke-width="2.1"/>
<line x1="616.3" y1="305.0" x2="1103.7" y2="305.0" stroke="#b2b2b2" stroke-width="2"/>
<line x1="955.4" y1="28.0" x2="955.4" y2="477.4" stroke="#9c9c9c" stroke-width="2.1"/>
<line x1="616.3" y1="339.8" x2="1103.7" y2="339.8" stroke="#b2b2b2" stroke-width="2"/>
<line x1="993.1" y1="28.0" x2="993.1" y2="477.4" stroke="#9c9c9c" stroke-width="2.1"/>
<line x1="616.3" y1="374.6" x2="1103.7" y2="374.6" stroke="#b2b2b2" stroke-width="2"/>
<line x1="1030.9" y1="28.0" x2="1030.9" y2="477.4" stroke="#9c9c9c" stroke-width="2.1"/>
<line x1="616.3" y1="409.5" x2="1103.7" y2="409.5" stroke="#b2b2b2" stroke-width="2"/>
<line x1="1068.7" y1="28.0" x2="1068.7" y2="477.4" stroke="#9c9c9c" stroke-width="2.1"/>
<line x1="616.3" y1="444.3" x2="1103.7" y2="444.3" stroke="#b2b2b2" stroke-width="2"/>
<path d="M900.6,38.6 C902.6,39.4 905.0,46.1 908.1,50.8 C911.3,55.4 915.4,62.7 919.5,66.4 C923.6,70.2 928.0,71.6 932.7,73.4 C937.4,75.1 943.1,75.7 947.8,76.9 C952.5,78.0 958.5,77.5 961.0,80.4 C963.5,83.3 963.5,90.2 962.9,94.3 C962.3,98.3 957.6,100.4 957.2,104.7 C956.9,109.1 960.7,114.6 961.0,120.4 C961.3,126.2 960.1,134.0 959.1,139.6 C958.2,145.1 954.4,148.8 955.4,153.5 C956.3,158.1 961.7,162.8 964.8,167.4 C967.9,172.1 973.9,177.0 974.2,181.4 C974.6,185.7 967.9,188.0 966.7,193.5 C965.4,199.1 967.6,207.8 966.7,214.4 C965.7,221.1 962.9,227.2 961.0,233.6 C959.1,240.0 957.2,246.1 955.4,252.8 C953.5,259.4 951.6,268.7 949.7,273.6 C947.8,278.6 946.9,280.5 944.0,282.4 C941.2,284.2 937.1,284.7 932.7,285.0 C928.3,285.3 922.3,283.9 917.6,284.1 C912.8,284.2 908.1,285.3 904.3,285.8 C900.6,286.4 898.1,286.3 894.9,287.6 C891.8,288.9 888.0,290.8 885.5,293.7 C882.9,296.6 882.3,301.1 879.8,305.0 C877.3,308.9 874.8,312.5 870.3,317.2 C865.9,321.8 858.7,328.5 853.3,332.9 C848.0,337.2 843.3,340.5 838.2,343.3 C833.2,346.1 827.3,348.3 823.1,349.4 C818.9,350.5 817.5,349.8 813.1,349.9 C808.8,350.0 802.4,350.2 797.0,349.9 C791.7,349.7 786.4,349.7 781.0,348.4 C775.6,347.0 768.2,344.8 764.7,341.9 C761.3,339.0 761.3,334.5 760.0,330.8 C758.7,327.0 758.3,323.2 756.8,319.4 C755.4,315.7 752.7,312.0 751.3,308.5 C750.0,304.9 746.2,303.8 748.7,298.0 C751.2,292.2 760.3,281.2 766.4,273.6 C772.6,266.1 779.0,259.1 785.3,252.8 C791.6,246.4 801.7,244.0 804.2,235.3 C806.7,226.6 803.6,210.1 800.4,200.5 C797.3,190.9 787.2,185.1 785.3,177.9 C783.4,170.6 787.5,161.6 789.1,157.0 C790.7,152.3 792.3,152.9 794.8,150.0 C797.3,147.1 801.1,142.8 804.2,139.6 C807.4,136.4 810.2,132.7 813.7,130.9 C817.1,129.0 820.4,128.8 825.0,128.2 C829.6,127.7 835.7,127.8 841.1,127.4 C846.4,126.9 853.1,127.7 857.1,125.6 C861.1,123.6 862.2,120.1 865.1,115.2 C868.0,110.2 871.8,101.8 874.5,96.0 C877.2,90.2 878.4,86.3 881.1,80.4 C883.8,74.4 888.1,66.0 890.6,60.2 C893.0,54.4 894.2,49.1 895.8,45.5 C897.5,41.9 898.5,37.7 900.6,38.6 Z" fill="url(#gsp)" />
<path d="M705.4,291.2 L724.7,271.2 L748.7,245.4 L764.7,224.5 L774.6,210.1 L784.2,194.1 L787.2,179.6 L800.3,194.1 L797.0,215.0 L788.9,229.4 L775.9,245.8 L764.7,247.2 L748.7,261.6 L732.6,274.5 L710.2,290.5 Z" fill="url(#gsp)" />
<path d="M695.8,337.0 L716.6,314.6 L740.8,287.2 L764.7,258.3 L788.9,229.4 L797.0,215.0 L800.3,194.1 L813.7,200.5 L811.8,226.6 L806.7,237.4 L797.0,247.2 L772.9,268.1 L748.7,290.5 L724.7,313.0 L700.5,336.3 Z" fill="url(#gsp)" />
<path d="M666.7,370.8 L700.5,337.7 L732.6,310.2 L748.7,298.0 L757.0,305.0 L756.8,319.4 L738.1,318.9 L708.6,339.8 L670.1,371.9 Z" fill="url(#gsp)" />
<path d="M772.1,404.6 L797.0,378.8 L821.0,354.8 L845.2,332.3 L860.9,312.0 L870.3,296.3 L885.5,293.7 L879.0,311.4 L853.3,335.5 L805.0,377.3 L774.9,406.0 Z" fill="url(#gsp)" />
<path d="M899.4,40.3 C901.0,41.2 902.1,51.3 903.4,57.7 C904.7,64.1 905.6,70.8 907.4,78.6 C909.1,86.4 912.7,96.0 913.8,104.7 C914.9,113.4 911.6,124.2 913.8,130.9 C916.0,137.5 921.4,143.0 927.0,144.8 C932.7,146.5 943.1,142.2 947.8,141.3 C952.5,140.4 954.7,136.1 955.4,139.6 C956.0,143.0 953.2,154.9 951.6,162.2 C950.0,169.5 949.5,176.1 945.9,183.1 C942.3,190.1 933.3,195.3 929.9,204.0 C926.4,212.7 927.3,225.8 925.1,235.3 C922.9,244.9 919.5,253.9 916.6,261.5 C913.8,269.0 913.0,274.2 908.1,280.6 C903.2,287.0 893.0,294.0 887.3,299.8 C881.7,305.6 878.5,310.8 874.1,315.4 C869.7,320.1 866.6,323.0 860.9,327.6 C855.2,332.3 847.1,339.3 840.1,343.3 C833.1,347.3 826.0,350.7 819.0,351.7 C811.9,352.6 805.7,349.9 797.8,349.0 C789.9,348.2 777.5,348.6 771.4,346.4 C765.2,344.3 762.5,341.5 760.8,336.3 C759.0,331.2 763.0,320.7 760.8,315.4 C758.6,310.2 751.5,311.7 747.6,305.0 C743.6,298.3 737.2,284.1 737.2,275.4 C737.2,266.7 743.6,259.7 747.6,252.8 C751.5,245.8 756.4,241.7 760.8,233.6 C765.2,225.5 770.5,214.1 774.0,204.0 C777.5,193.8 777.6,181.6 781.6,172.6 C785.5,163.7 792.5,156.1 797.8,150.0 C803.2,143.9 807.6,139.3 813.7,136.1 C819.8,132.9 826.6,133.5 834.5,130.9 C842.3,128.2 854.3,124.8 860.9,120.4 C867.5,116.1 869.7,111.7 874.1,104.7 C878.5,97.8 884.0,87.3 887.3,78.6 C890.7,69.9 892.1,58.9 894.1,52.5 C896.2,46.1 897.9,39.4 899.4,40.3 Z" fill="url(#bsp)" />
<g clip-path="url(#cp1)"><path d="M900.6,29.9 L978.0,69.9 L974.2,148.3 L917.6,151.8 L879.8,148.3 L842.0,137.8 L804.2,123.9 L860.9,96.0 L889.2,43.8 Z" fill="url(#wsp)" mask="url(#mkcp1)"/></g>
<ellipse cx="851.5" cy="235.3" rx="66.1" ry="78.4" fill="url(#glow)" clip-path="url(#cp13)"/>
<rect x="614.9" y="26.6" width="490.2" height="452.2" fill="none" stroke="#000" stroke-width="3.2"/>
<text x="611.5" y="64.0" font-family="'Liberation Serif','Times New Roman',serif" font-size="17.3" font-weight="bold" font-style="normal" fill="#1a1a1a" text-anchor="end" textLength="21" lengthAdjust="spacingAndGlyphs">2.8</text>
<text x="651.9" y="492.6" font-family="'Liberation Serif','Times New Roman',serif" font-size="16" font-weight="bold" font-style="normal" fill="#1a1a1a" text-anchor="middle" textLength="21" lengthAdjust="spacingAndGlyphs">0.6</text>
<text x="611.5" y="98.8" font-family="'Liberation Serif','Times New Roman',serif" font-size="17.3" font-weight="bold" font-style="normal" fill="#1a1a1a" text-anchor="end" textLength="21" lengthAdjust="spacingAndGlyphs">2.6</text>
<text x="689.7" y="492.6" font-family="'Liberation Serif','Times New Roman',serif" font-size="16" font-weight="bold" font-style="normal" fill="#1a1a1a" text-anchor="middle" textLength="21" lengthAdjust="spacingAndGlyphs">0.8</text>
<text x="611.5" y="133.7" font-family="'Liberation Serif','Times New Roman',serif" font-size="17.3" font-weight="bold" font-style="normal" fill="#1a1a1a" text-anchor="end" textLength="21" lengthAdjust="spacingAndGlyphs">2.4</text>
<text x="727.5" y="492.6" font-family="'Liberation Serif','Times New Roman',serif" font-size="16" font-weight="bold" font-style="normal" fill="#1a1a1a" text-anchor="middle" textLength="21" lengthAdjust="spacingAndGlyphs">1.0</text>
<text x="611.5" y="168.5" font-family="'Liberation Serif','Times New Roman',serif" font-size="17.3" font-weight="bold" font-style="normal" fill="#1a1a1a" text-anchor="end" textLength="21" lengthAdjust="spacingAndGlyphs">2.2</text>
<text x="765.2" y="492.6" font-family="'Liberation Serif','Times New Roman',serif" font-size="16" font-weight="bold" font-style="normal" fill="#1a1a1a" text-anchor="middle" textLength="21" lengthAdjust="spacingAndGlyphs">1.2</text>
<text x="611.5" y="203.3" font-family="'Liberation Serif','Times New Roman',serif" font-size="17.3" font-weight="bold" font-style="normal" fill="#1a1a1a" text-anchor="end" textLength="21" lengthAdjust="spacingAndGlyphs">2.0</text>
<text x="803.0" y="492.6" font-family="'Liberation Serif','Times New Roman',serif" font-size="16" font-weight="bold" font-style="normal" fill="#1a1a1a" text-anchor="middle" textLength="21" lengthAdjust="spacingAndGlyphs">1.4</text>
<text x="611.5" y="238.1" font-family="'Liberation Serif','Times New Roman',serif" font-size="17.3" font-weight="bold" font-style="normal" fill="#1a1a1a" text-anchor="end" textLength="21" lengthAdjust="spacingAndGlyphs">1.8</text>
<text x="840.8" y="492.6" font-family="'Liberation Serif','Times New Roman',serif" font-size="16" font-weight="bold" font-style="normal" fill="#1a1a1a" text-anchor="middle" textLength="21" lengthAdjust="spacingAndGlyphs">1.6</text>
<text x="611.5" y="273.0" font-family="'Liberation Serif','Times New Roman',serif" font-size="17.3" font-weight="bold" font-style="normal" fill="#1a1a1a" text-anchor="end" textLength="21" lengthAdjust="spacingAndGlyphs">1.6</text>
<text x="878.6" y="492.6" font-family="'Liberation Serif','Times New Roman',serif" font-size="16" font-weight="bold" font-style="normal" fill="#1a1a1a" text-anchor="middle" textLength="21" lengthAdjust="spacingAndGlyphs">1.8</text>
<text x="611.5" y="307.8" font-family="'Liberation Serif','Times New Roman',serif" font-size="17.3" font-weight="bold" font-style="normal" fill="#1a1a1a" text-anchor="end" textLength="21" lengthAdjust="spacingAndGlyphs">1.4</text>
<text x="916.4" y="492.6" font-family="'Liberation Serif','Times New Roman',serif" font-size="16" font-weight="bold" font-style="normal" fill="#1a1a1a" text-anchor="middle" textLength="21" lengthAdjust="spacingAndGlyphs">2.0</text>
<text x="611.5" y="342.6" font-family="'Liberation Serif','Times New Roman',serif" font-size="17.3" font-weight="bold" font-style="normal" fill="#1a1a1a" text-anchor="end" textLength="21" lengthAdjust="spacingAndGlyphs">1.2</text>
<text x="954.2" y="492.6" font-family="'Liberation Serif','Times New Roman',serif" font-size="16" font-weight="bold" font-style="normal" fill="#1a1a1a" text-anchor="middle" textLength="21" lengthAdjust="spacingAndGlyphs">2.2</text>
<text x="611.5" y="377.4" font-family="'Liberation Serif','Times New Roman',serif" font-size="17.3" font-weight="bold" font-style="normal" fill="#1a1a1a" text-anchor="end" textLength="21" lengthAdjust="spacingAndGlyphs">1.0</text>
<text x="991.9" y="492.6" font-family="'Liberation Serif','Times New Roman',serif" font-size="16" font-weight="bold" font-style="normal" fill="#1a1a1a" text-anchor="middle" textLength="21" lengthAdjust="spacingAndGlyphs">2.4</text>
<text x="611.5" y="412.3" font-family="'Liberation Serif','Times New Roman',serif" font-size="17.3" font-weight="bold" font-style="normal" fill="#1a1a1a" text-anchor="end" textLength="21" lengthAdjust="spacingAndGlyphs">0.8</text>
<text x="1029.7" y="492.6" font-family="'Liberation Serif','Times New Roman',serif" font-size="16" font-weight="bold" font-style="normal" fill="#1a1a1a" text-anchor="middle" textLength="21" lengthAdjust="spacingAndGlyphs">2.6</text>
<text x="611.5" y="447.1" font-family="'Liberation Serif','Times New Roman',serif" font-size="17.3" font-weight="bold" font-style="normal" fill="#1a1a1a" text-anchor="end" textLength="21" lengthAdjust="spacingAndGlyphs">0.6</text>
<text x="1067.5" y="492.6" font-family="'Liberation Serif','Times New Roman',serif" font-size="16" font-weight="bold" font-style="normal" fill="#1a1a1a" text-anchor="middle" textLength="21" lengthAdjust="spacingAndGlyphs">2.8</text>
<text x="621.9" y="53.6" font-family="'Liberation Serif','Times New Roman',serif" font-size="24.5" font-weight="bold" font-style="italic" fill="#000" text-anchor="start" textLength="24.4" lengthAdjust="spacingAndGlyphs">de</text>
<text x="1075.1" y="469.6" font-family="'Liberation Serif','Times New Roman',serif" font-size="24.5" font-weight="bold" font-style="italic" fill="#000" text-anchor="start" textLength="20.6" lengthAdjust="spacingAndGlyphs">di</text>
<text x="926.8" y="337.7" font-family="'Liberation Serif','Times New Roman',serif" font-size="25" font-weight="bold" font-style="normal" fill="#000" text-anchor="start" textLength="58.8" lengthAdjust="spacingAndGlyphs">H...H</text>
<text x="925.4" y="370.0" font-family="'Liberation Serif','Times New Roman',serif" font-size="25" font-weight="bold" font-style="normal" fill="#a3161c" text-anchor="start" textLength="69.5" lengthAdjust="spacingAndGlyphs">36.7%</text>
<rect x="1141.6" y="26.4" width="492.5" height="455.4" fill="#fff"/>
<line x1="1179.9" y1="29.4" x2="1179.9" y2="478.8" stroke="#9c9c9c" stroke-width="2.1"/>
<line x1="1144.6" y1="63.3" x2="1631.1" y2="63.3" stroke="#b2b2b2" stroke-width="2"/>
<line x1="1217.7" y1="29.4" x2="1217.7" y2="478.8" stroke="#9c9c9c" stroke-width="2.1"/>
<line x1="1144.6" y1="98.1" x2="1631.1" y2="98.1" stroke="#b2b2b2" stroke-width="2"/>
<line x1="1255.4" y1="29.4" x2="1255.4" y2="478.8" stroke="#9c9c9c" stroke-width="2.1"/>
<line x1="1144.6" y1="133.0" x2="1631.1" y2="133.0" stroke="#b2b2b2" stroke-width="2"/>
<line x1="1293.2" y1="29.4" x2="1293.2" y2="478.8" stroke="#9c9c9c" stroke-width="2.1"/>
<line x1="1144.6" y1="167.8" x2="1631.1" y2="167.8" stroke="#b2b2b2" stroke-width="2"/>
<line x1="1331.0" y1="29.4" x2="1331.0" y2="478.8" stroke="#9c9c9c" stroke-width="2.1"/>
<line x1="1144.6" y1="202.6" x2="1631.1" y2="202.6" stroke="#b2b2b2" stroke-width="2"/>
<line x1="1368.7" y1="29.4" x2="1368.7" y2="478.8" stroke="#9c9c9c" stroke-width="2.1"/>
<line x1="1144.6" y1="237.5" x2="1631.1" y2="237.5" stroke="#b2b2b2" stroke-width="2"/>
<line x1="1406.5" y1="29.4" x2="1406.5" y2="478.8" stroke="#9c9c9c" stroke-width="2.1"/>
<line x1="1144.6" y1="272.3" x2="1631.1" y2="272.3" stroke="#b2b2b2" stroke-width="2"/>
<line x1="1444.2" y1="29.4" x2="1444.2" y2="478.8" stroke="#9c9c9c" stroke-width="2.1"/>
<line x1="1144.6" y1="307.2" x2="1631.1" y2="307.2" stroke="#b2b2b2" stroke-width="2"/>
<line x1="1482.0" y1="29.4" x2="1482.0" y2="478.8" stroke="#9c9c9c" stroke-width="2.1"/>
<line x1="1144.6" y1="342.0" x2="1631.1" y2="342.0" stroke="#b2b2b2" stroke-width="2"/>
<line x1="1519.8" y1="29.4" x2="1519.8" y2="478.8" stroke="#9c9c9c" stroke-width="2.1"/>
<line x1="1144.6" y1="376.8" x2="1631.1" y2="376.8" stroke="#b2b2b2" stroke-width="2"/>
<line x1="1557.5" y1="29.4" x2="1557.5" y2="478.8" stroke="#9c9c9c" stroke-width="2.1"/>
<line x1="1144.6" y1="411.7" x2="1631.1" y2="411.7" stroke="#b2b2b2" stroke-width="2"/>
<line x1="1595.3" y1="29.4" x2="1595.3" y2="478.8" stroke="#9c9c9c" stroke-width="2.1"/>
<line x1="1144.6" y1="446.5" x2="1631.1" y2="446.5" stroke="#b2b2b2" stroke-width="2"/>
<path d="M1427.3,40.7 C1429.3,41.5 1431.7,48.2 1434.8,52.8 C1438.0,57.5 1442.0,64.8 1446.1,68.5 C1450.2,72.3 1454.6,73.8 1459.4,75.5 C1464.1,77.2 1469.7,77.8 1474.5,79.0 C1479.2,80.1 1485.2,79.6 1487.7,82.5 C1490.2,85.4 1490.2,92.3 1489.6,96.4 C1488.9,100.5 1484.2,102.5 1483.9,106.8 C1483.6,111.2 1487.4,116.7 1487.7,122.5 C1488.0,128.3 1486.7,136.2 1485.8,141.7 C1484.8,147.2 1481.1,151.0 1482.0,155.6 C1483.0,160.3 1488.3,164.9 1491.4,169.6 C1494.6,174.2 1500.6,179.1 1500.9,183.5 C1501.2,187.8 1494.6,190.2 1493.3,195.7 C1492.1,201.2 1494.3,209.9 1493.3,216.6 C1492.4,223.3 1489.6,229.4 1487.7,235.7 C1485.8,242.1 1483.9,248.2 1482.0,254.9 C1480.1,261.6 1478.2,270.9 1476.3,275.8 C1474.5,280.7 1473.5,282.6 1470.7,284.5 C1467.8,286.4 1463.8,286.8 1459.4,287.1 C1454.9,287.4 1449.0,286.1 1444.2,286.3 C1439.5,286.4 1434.8,287.4 1431.0,288.0 C1427.3,288.6 1424.7,288.4 1421.6,289.7 C1418.4,291.0 1414.7,292.9 1412.1,295.8 C1409.6,298.7 1409.0,303.2 1406.5,307.2 C1404.0,311.1 1401.4,314.7 1397.0,319.3 C1392.6,324.0 1385.4,330.7 1380.0,335.0 C1374.7,339.4 1370.0,342.7 1364.9,345.5 C1359.9,348.2 1354.0,350.5 1349.8,351.6 C1345.7,352.7 1344.2,352.0 1339.8,352.1 C1335.5,352.2 1329.1,352.4 1323.8,352.1 C1318.4,351.8 1313.1,351.9 1307.7,350.5 C1302.3,349.2 1295.0,347.0 1291.5,344.1 C1288.0,341.1 1288.1,336.7 1286.8,332.9 C1285.4,329.2 1285.0,325.3 1283.6,321.6 C1282.1,317.9 1279.4,314.2 1278.1,310.6 C1276.7,307.1 1272.9,306.0 1275.4,300.2 C1278.0,294.4 1287.1,283.3 1293.2,275.8 C1299.3,268.3 1305.8,261.3 1312.1,254.9 C1318.4,248.5 1328.4,246.2 1331.0,237.5 C1333.5,228.8 1330.3,212.2 1327.2,202.6 C1324.0,193.1 1314.0,187.3 1312.1,180.0 C1310.2,172.7 1314.3,163.7 1315.8,159.1 C1317.4,154.5 1319.0,155.0 1321.5,152.1 C1324.0,149.2 1327.8,144.9 1331.0,141.7 C1334.1,138.5 1336.9,134.9 1340.4,133.0 C1343.9,131.1 1347.2,130.9 1351.7,130.4 C1356.3,129.8 1362.4,129.9 1367.8,129.5 C1373.1,129.1 1379.8,129.8 1383.8,127.7 C1387.8,125.7 1388.9,122.2 1391.8,117.3 C1394.6,112.4 1398.5,103.9 1401.2,98.1 C1403.9,92.3 1405.1,88.4 1407.8,82.5 C1410.5,76.5 1414.8,68.1 1417.2,62.3 C1419.7,56.4 1420.9,51.2 1422.5,47.6 C1424.2,44.0 1425.2,39.8 1427.3,40.7 Z" fill="url(#gsp)" />
<path d="M1232.2,293.4 L1251.5,273.4 L1275.4,247.6 L1291.5,226.7 L1301.3,212.2 L1310.9,196.2 L1314.0,181.7 L1327.0,196.2 L1323.8,217.1 L1315.7,231.6 L1302.6,247.9 L1291.5,249.3 L1275.4,263.8 L1259.4,276.7 L1236.9,292.7 Z" fill="url(#gsp)" />
<path d="M1222.6,339.2 L1243.3,316.7 L1267.5,289.4 L1291.5,260.5 L1315.7,231.6 L1323.8,217.1 L1327.0,196.2 L1340.4,202.6 L1338.5,228.8 L1333.4,239.6 L1323.8,249.3 L1299.6,270.2 L1275.4,292.7 L1251.5,315.2 L1227.3,338.5 Z" fill="url(#gsp)" />
<path d="M1193.5,373.0 L1227.3,339.9 L1259.4,312.4 L1275.4,300.2 L1283.8,307.2 L1283.6,321.6 L1264.9,321.1 L1235.4,342.0 L1196.9,374.0 Z" fill="url(#gsp)" />
<path d="M1298.9,406.8 L1323.8,381.0 L1347.8,357.0 L1371.9,334.5 L1387.6,314.1 L1397.0,298.4 L1412.1,295.8 L1405.7,313.6 L1380.0,337.6 L1331.7,379.4 L1301.7,408.2 Z" fill="url(#gsp)" />
<path d="M1324.9,179.5 C1328.9,173.6 1339.3,165.1 1345.7,158.8 C1352.0,152.4 1358.7,143.1 1363.1,141.3 C1367.4,139.6 1368.8,144.8 1371.7,148.3 C1374.6,151.8 1376.1,164.0 1380.4,162.2 C1384.8,160.5 1392.0,141.9 1397.8,137.8 C1403.6,133.8 1410.3,136.7 1415.2,137.8 C1420.1,139.0 1422.9,147.1 1427.3,144.8 C1431.6,142.5 1436.0,129.3 1441.2,124.1 C1446.4,118.9 1453.4,118.0 1458.6,113.6 C1463.8,109.3 1469.4,101.0 1472.6,98.1 C1475.7,95.3 1477.1,94.4 1477.7,96.4 C1478.2,98.4 1475.7,102.1 1476.0,110.2 C1476.3,118.2 1477.6,136.1 1479.4,144.8 C1481.1,153.5 1483.5,156.5 1486.4,162.2 C1489.2,168.0 1494.4,175.2 1496.7,179.5 C1499.1,183.8 1500.9,183.8 1500.3,188.2 C1499.8,192.5 1494.5,199.8 1493.3,205.6 C1492.2,211.4 1494.5,218.5 1493.3,222.9 C1492.2,227.2 1488.7,227.2 1486.4,231.6 C1484.0,235.9 1481.1,241.7 1479.4,249.0 C1477.6,256.2 1477.1,269.2 1476.0,274.9 C1474.8,280.7 1475.5,281.6 1472.6,283.6 C1469.7,285.7 1463.8,286.8 1458.6,287.1 C1453.4,287.4 1446.8,284.9 1441.2,285.4 C1435.7,285.8 1430.2,288.0 1425.4,289.7 C1420.5,291.5 1415.9,292.9 1412.1,295.8 C1408.4,298.7 1405.4,306.3 1402.7,307.2 C1400.0,308.0 1397.2,312.3 1396.1,300.9 C1395.0,289.4 1398.7,249.5 1396.1,238.5 C1393.5,227.6 1387.4,236.2 1380.4,235.0 C1373.5,233.9 1359.6,232.4 1354.4,231.6 C1349.2,230.7 1352.2,228.4 1349.3,229.8 C1346.4,231.3 1341.9,236.2 1337.0,240.3 C1332.1,244.3 1322.8,257.6 1319.6,254.2 C1316.4,250.8 1317.4,230.1 1317.7,220.1 C1318.1,210.0 1320.3,200.7 1321.5,193.9 C1322.7,187.2 1320.9,185.3 1324.9,179.5 Z" fill="url(#bsp)" />
<path d="M1222.6,339.2 L1243.3,316.7 L1267.5,289.4 L1291.5,260.5 L1315.7,231.6 L1323.8,217.1 L1327.0,196.2 L1340.4,202.6 L1338.5,228.8 L1333.4,239.6 L1323.8,249.3 L1299.6,270.2 L1275.4,292.7 L1251.5,315.2 L1227.3,338.5 Z" fill="url(#bsp)" />
<path d="M1298.9,406.8 L1323.8,381.0 L1347.8,357.0 L1371.9,334.5 L1387.6,314.1 L1397.0,298.4 L1412.1,295.8 L1405.7,313.6 L1380.0,337.6 L1331.7,379.4 L1301.7,408.2 Z" fill="url(#bsp)" />
<g clip-path="url(#cp2)"><path d="M1427.3,31.9 L1504.7,72.0 L1500.9,150.4 L1444.2,153.9 L1406.5,150.4 L1368.7,139.9 L1331.0,126.0 L1387.6,98.1 L1415.9,45.9 Z" fill="url(#wsp)" mask="url(#mkcp2)"/></g>
<ellipse cx="1440.5" cy="251.4" rx="34.0" ry="43.5" fill="url(#glow)" clip-path="url(#cp16)"/>
<rect x="1143.2" y="28.0" width="489.3" height="452.2" fill="none" stroke="#000" stroke-width="3.2"/>
<text x="1139.8" y="66.1" font-family="'Liberation Serif','Times New Roman',serif" font-size="17.3" font-weight="bold" font-style="normal" fill="#1a1a1a" text-anchor="end" textLength="21" lengthAdjust="spacingAndGlyphs">2.8</text>
<text x="1178.7" y="494.0" font-family="'Liberation Serif','Times New Roman',serif" font-size="16" font-weight="bold" font-style="normal" fill="#1a1a1a" text-anchor="middle" textLength="21" lengthAdjust="spacingAndGlyphs">0.6</text>
<text x="1139.8" y="100.9" font-family="'Liberation Serif','Times New Roman',serif" font-size="17.3" font-weight="bold" font-style="normal" fill="#1a1a1a" text-anchor="end" textLength="21" lengthAdjust="spacingAndGlyphs">2.6</text>
<text x="1216.5" y="494.0" font-family="'Liberation Serif','Times New Roman',serif" font-size="16" font-weight="bold" font-style="normal" fill="#1a1a1a" text-anchor="middle" textLength="21" lengthAdjust="spacingAndGlyphs">0.8</text>
<text x="1139.8" y="135.8" font-family="'Liberation Serif','Times New Roman',serif" font-size="17.3" font-weight="bold" font-style="normal" fill="#1a1a1a" text-anchor="end" textLength="21" lengthAdjust="spacingAndGlyphs">2.4</text>
<text x="1254.2" y="494.0" font-family="'Liberation Serif','Times New Roman',serif" font-size="16" font-weight="bold" font-style="normal" fill="#1a1a1a" text-anchor="middle" textLength="21" lengthAdjust="spacingAndGlyphs">1.0</text>
<text x="1139.8" y="170.6" font-family="'Liberation Serif','Times New Roman',serif" font-size="17.3" font-weight="bold" font-style="normal" fill="#1a1a1a" text-anchor="end" textLength="21" lengthAdjust="spacingAndGlyphs">2.2</text>
<text x="1292.0" y="494.0" font-family="'Liberation Serif','Times New Roman',serif" font-size="16" font-weight="bold" font-style="normal" fill="#1a1a1a" text-anchor="middle" textLength="21" lengthAdjust="spacingAndGlyphs">1.2</text>
<text x="1139.8" y="205.4" font-family="'Liberation Serif','Times New Roman',serif" font-size="17.3" font-weight="bold" font-style="normal" fill="#1a1a1a" text-anchor="end" textLength="21" lengthAdjust="spacingAndGlyphs">2.0</text>
<text x="1329.8" y="494.0" font-family="'Liberation Serif','Times New Roman',serif" font-size="16" font-weight="bold" font-style="normal" fill="#1a1a1a" text-anchor="middle" textLength="21" lengthAdjust="spacingAndGlyphs">1.4</text>
<text x="1139.8" y="240.3" font-family="'Liberation Serif','Times New Roman',serif" font-size="17.3" font-weight="bold" font-style="normal" fill="#1a1a1a" text-anchor="end" textLength="21" lengthAdjust="spacingAndGlyphs">1.8</text>
<text x="1367.5" y="494.0" font-family="'Liberation Serif','Times New Roman',serif" font-size="16" font-weight="bold" font-style="normal" fill="#1a1a1a" text-anchor="middle" textLength="21" lengthAdjust="spacingAndGlyphs">1.6</text>
<text x="1139.8" y="275.1" font-family="'Liberation Serif','Times New Roman',serif" font-size="17.3" font-weight="bold" font-style="normal" fill="#1a1a1a" text-anchor="end" textLength="21" lengthAdjust="spacingAndGlyphs">1.6</text>
<text x="1405.3" y="494.0" font-family="'Liberation Serif','Times New Roman',serif" font-size="16" font-weight="bold" font-style="normal" fill="#1a1a1a" text-anchor="middle" textLength="21" lengthAdjust="spacingAndGlyphs">1.8</text>
<text x="1139.8" y="310.0" font-family="'Liberation Serif','Times New Roman',serif" font-size="17.3" font-weight="bold" font-style="normal" fill="#1a1a1a" text-anchor="end" textLength="21" lengthAdjust="spacingAndGlyphs">1.4</text>
<text x="1443.0" y="494.0" font-family="'Liberation Serif','Times New Roman',serif" font-size="16" font-weight="bold" font-style="normal" fill="#1a1a1a" text-anchor="middle" textLength="21" lengthAdjust="spacingAndGlyphs">2.0</text>
<text x="1139.8" y="344.8" font-family="'Liberation Serif','Times New Roman',serif" font-size="17.3" font-weight="bold" font-style="normal" fill="#1a1a1a" text-anchor="end" textLength="21" lengthAdjust="spacingAndGlyphs">1.2</text>
<text x="1480.8" y="494.0" font-family="'Liberation Serif','Times New Roman',serif" font-size="16" font-weight="bold" font-style="normal" fill="#1a1a1a" text-anchor="middle" textLength="21" lengthAdjust="spacingAndGlyphs">2.2</text>
<text x="1139.8" y="379.6" font-family="'Liberation Serif','Times New Roman',serif" font-size="17.3" font-weight="bold" font-style="normal" fill="#1a1a1a" text-anchor="end" textLength="21" lengthAdjust="spacingAndGlyphs">1.0</text>
<text x="1518.6" y="494.0" font-family="'Liberation Serif','Times New Roman',serif" font-size="16" font-weight="bold" font-style="normal" fill="#1a1a1a" text-anchor="middle" textLength="21" lengthAdjust="spacingAndGlyphs">2.4</text>
<text x="1139.8" y="414.5" font-family="'Liberation Serif','Times New Roman',serif" font-size="17.3" font-weight="bold" font-style="normal" fill="#1a1a1a" text-anchor="end" textLength="21" lengthAdjust="spacingAndGlyphs">0.8</text>
<text x="1556.3" y="494.0" font-family="'Liberation Serif','Times New Roman',serif" font-size="16" font-weight="bold" font-style="normal" fill="#1a1a1a" text-anchor="middle" textLength="21" lengthAdjust="spacingAndGlyphs">2.6</text>
<text x="1139.8" y="449.3" font-family="'Liberation Serif','Times New Roman',serif" font-size="17.3" font-weight="bold" font-style="normal" fill="#1a1a1a" text-anchor="end" textLength="21" lengthAdjust="spacingAndGlyphs">0.6</text>
<text x="1594.1" y="494.0" font-family="'Liberation Serif','Times New Roman',serif" font-size="16" font-weight="bold" font-style="normal" fill="#1a1a1a" text-anchor="middle" textLength="21" lengthAdjust="spacingAndGlyphs">2.8</text>
<text x="1150.2" y="55.0" font-family="'Liberation Serif','Times New Roman',serif" font-size="24.5" font-weight="bold" font-style="italic" fill="#000" text-anchor="start" textLength="24.4" lengthAdjust="spacingAndGlyphs">de</text>
<text x="1602.5" y="471.0" font-family="'Liberation Serif','Times New Roman',serif" font-size="24.5" font-weight="bold" font-style="italic" fill="#000" text-anchor="start" textLength="20.6" lengthAdjust="spacingAndGlyphs">di</text>
<text x="1264.5" y="126.4" font-family="'Liberation Serif','Times New Roman',serif" font-size="25" font-weight="bold" font-style="normal" fill="#000" text-anchor="start" textLength="56.8" lengthAdjust="spacingAndGlyphs">H...N</text>
<text x="1256.2" y="164.8" font-family="'Liberation Serif','Times New Roman',serif" font-size="25" font-weight="bold" font-style="normal" fill="#a3161c" text-anchor="start" textLength="54.4" lengthAdjust="spacingAndGlyphs">7.6%</text>
<text x="1492.8" y="337.8" font-family="'Liberation Serif','Times New Roman',serif" font-size="25" font-weight="bold" font-style="normal" fill="#000" text-anchor="start" textLength="57.5" lengthAdjust="spacingAndGlyphs">N...H</text>
<text x="1490.3" y="373.8" font-family="'Liberation Serif','Times New Roman',serif" font-size="25" font-weight="bold" font-style="normal" fill="#a3161c" text-anchor="start" textLength="68.3" lengthAdjust="spacingAndGlyphs">13.3%</text>
<path d="M1256.8,131.0 C1252.2,134.8 1234.0,148.2 1229.1,154.1 C1224.2,160.0 1225.5,161.8 1227.6,166.4 C1229.6,171.0 1233.0,177.6 1241.4,181.7 C1249.9,185.8 1264.0,188.9 1278.3,191.0 C1292.6,193.1 1319.3,193.5 1327.5,194.0" fill="none" stroke="#222" stroke-width="1.4"/>
<path d="M1487.3,229.4 C1489.3,228.1 1495.5,222.0 1499.6,221.7 C1503.7,221.4 1509.0,222.2 1511.8,227.8 C1514.6,233.4 1515.6,238.8 1516.5,255.5 C1517.4,272.1 1517.2,315.7 1517.4,327.7" fill="none" stroke="#222" stroke-width="1.4"/>
<rect x="1665.8" y="28.2" width="492.8" height="454.9" fill="#fff"/>
<line x1="1704.7" y1="31.2" x2="1704.7" y2="480.1" stroke="#9c9c9c" stroke-width="2.1"/>
<line x1="1668.8" y1="64.2" x2="2155.6" y2="64.2" stroke="#b2b2b2" stroke-width="2"/>
<line x1="1742.5" y1="31.2" x2="1742.5" y2="480.1" stroke="#9c9c9c" stroke-width="2.1"/>
<line x1="1668.8" y1="98.9" x2="2155.6" y2="98.9" stroke="#b2b2b2" stroke-width="2"/>
<line x1="1780.3" y1="31.2" x2="1780.3" y2="480.1" stroke="#9c9c9c" stroke-width="2.1"/>
<line x1="1668.8" y1="133.7" x2="2155.6" y2="133.7" stroke="#b2b2b2" stroke-width="2"/>
<line x1="1818.1" y1="31.2" x2="1818.1" y2="480.1" stroke="#9c9c9c" stroke-width="2.1"/>
<line x1="1668.8" y1="168.4" x2="2155.6" y2="168.4" stroke="#b2b2b2" stroke-width="2"/>
<line x1="1855.9" y1="31.2" x2="1855.9" y2="480.1" stroke="#9c9c9c" stroke-width="2.1"/>
<line x1="1668.8" y1="203.1" x2="2155.6" y2="203.1" stroke="#b2b2b2" stroke-width="2"/>
<line x1="1893.7" y1="31.2" x2="1893.7" y2="480.1" stroke="#9c9c9c" stroke-width="2.1"/>
<line x1="1668.8" y1="237.8" x2="2155.6" y2="237.8" stroke="#b2b2b2" stroke-width="2"/>
<line x1="1931.4" y1="31.2" x2="1931.4" y2="480.1" stroke="#9c9c9c" stroke-width="2.1"/>
<line x1="1668.8" y1="272.6" x2="2155.6" y2="272.6" stroke="#b2b2b2" stroke-width="2"/>
<line x1="1969.2" y1="31.2" x2="1969.2" y2="480.1" stroke="#9c9c9c" stroke-width="2.1"/>
<line x1="1668.8" y1="307.3" x2="2155.6" y2="307.3" stroke="#b2b2b2" stroke-width="2"/>
<line x1="2007.0" y1="31.2" x2="2007.0" y2="480.1" stroke="#9c9c9c" stroke-width="2.1"/>
<line x1="1668.8" y1="342.0" x2="2155.6" y2="342.0" stroke="#b2b2b2" stroke-width="2"/>
<line x1="2044.8" y1="31.2" x2="2044.8" y2="480.1" stroke="#9c9c9c" stroke-width="2.1"/>
<line x1="1668.8" y1="376.7" x2="2155.6" y2="376.7" stroke="#b2b2b2" stroke-width="2"/>
<line x1="2082.6" y1="31.2" x2="2082.6" y2="480.1" stroke="#9c9c9c" stroke-width="2.1"/>
<line x1="1668.8" y1="411.5" x2="2155.6" y2="411.5" stroke="#b2b2b2" stroke-width="2"/>
<line x1="2120.4" y1="31.2" x2="2120.4" y2="480.1" stroke="#9c9c9c" stroke-width="2.1"/>
<line x1="1668.8" y1="446.2" x2="2155.6" y2="446.2" stroke="#b2b2b2" stroke-width="2"/>
<path d="M1952.2,41.6 C1954.3,42.5 1956.6,49.2 1959.8,53.8 C1962.9,58.4 1967.0,65.6 1971.1,69.4 C1975.2,73.2 1979.6,74.6 1984.4,76.4 C1989.1,78.1 1994.7,78.7 1999.5,79.8 C2004.2,81.0 2010.2,80.4 2012.7,83.3 C2015.2,86.2 2015.2,93.1 2014.6,97.2 C2014.0,101.2 2009.2,103.3 2008.9,107.6 C2008.6,111.9 2012.4,117.4 2012.7,123.2 C2013.0,129.0 2011.8,136.8 2010.8,142.3 C2009.9,147.8 2006.1,151.6 2007.0,156.2 C2008.0,160.9 2013.3,165.5 2016.5,170.1 C2019.6,174.7 2025.6,179.7 2025.9,184.0 C2026.2,188.3 2019.6,190.7 2018.4,196.2 C2017.1,201.7 2019.3,210.3 2018.4,217.0 C2017.4,223.7 2014.6,229.7 2012.7,236.1 C2010.8,242.5 2008.9,248.5 2007.0,255.2 C2005.1,261.9 2003.2,271.1 2001.4,276.0 C1999.5,281.0 1998.5,282.8 1995.7,284.7 C1992.9,286.6 1988.8,287.0 1984.4,287.3 C1979.9,287.6 1974.0,286.3 1969.2,286.5 C1964.5,286.6 1959.8,287.6 1956.0,288.2 C1952.2,288.8 1949.7,288.6 1946.6,289.9 C1943.4,291.2 1939.6,293.1 1937.1,296.0 C1934.6,298.9 1934.0,303.4 1931.4,307.3 C1928.9,311.2 1926.4,314.8 1922.0,319.4 C1917.6,324.1 1910.3,330.7 1905.0,335.1 C1899.6,339.4 1894.9,342.7 1889.9,345.5 C1884.8,348.2 1878.9,350.5 1874.8,351.6 C1870.6,352.7 1869.1,352.0 1864.7,352.1 C1860.4,352.2 1854.0,352.3 1848.7,352.1 C1843.3,351.8 1838.0,351.9 1832.6,350.5 C1827.2,349.2 1819.9,347.0 1816.4,344.1 C1812.9,341.2 1813.0,336.7 1811.6,333.0 C1810.3,329.3 1809.9,325.4 1808.4,321.7 C1807.0,318.0 1804.3,314.3 1803.0,310.8 C1801.6,307.2 1797.8,306.1 1800.3,300.3 C1802.8,294.6 1812.0,283.6 1818.1,276.0 C1824.2,268.5 1830.7,261.6 1837.0,255.2 C1843.3,248.8 1853.3,246.5 1855.9,237.8 C1858.4,229.2 1855.2,212.7 1852.1,203.1 C1848.9,193.6 1838.9,187.8 1837.0,180.5 C1835.1,173.3 1839.2,164.3 1840.7,159.7 C1842.3,155.1 1843.9,155.6 1846.4,152.8 C1848.9,149.9 1852.7,145.5 1855.9,142.3 C1859.0,139.2 1861.8,135.5 1865.3,133.7 C1868.8,131.8 1872.1,131.6 1876.6,131.0 C1881.2,130.5 1887.4,130.6 1892.7,130.2 C1898.1,129.7 1904.8,130.5 1908.8,128.4 C1912.8,126.4 1913.8,122.9 1916.7,118.0 C1919.6,113.1 1923.5,104.7 1926.2,98.9 C1928.8,93.1 1930.1,89.3 1932.8,83.3 C1935.4,77.3 1939.8,68.9 1942.2,63.2 C1944.7,57.4 1945.8,52.2 1947.5,48.6 C1949.2,45.0 1950.2,40.8 1952.2,41.6 Z" fill="url(#gsp)" />
<path d="M1757.0,293.6 L1776.3,273.6 L1800.3,247.9 L1816.4,227.1 L1826.2,212.7 L1835.8,196.7 L1838.9,182.3 L1851.9,196.7 L1848.7,217.5 L1840.6,231.9 L1827.5,248.3 L1816.4,249.6 L1800.3,264.1 L1784.2,276.9 L1761.8,292.9 Z" fill="url(#gsp)" />
<path d="M1747.4,339.2 L1768.2,316.8 L1792.4,289.6 L1816.4,260.8 L1840.6,231.9 L1848.7,217.5 L1851.9,196.7 L1865.3,203.1 L1863.4,229.2 L1858.3,239.9 L1848.7,249.6 L1824.5,270.5 L1800.3,292.9 L1776.3,315.3 L1752.1,338.5 Z" fill="url(#gsp)" />
<path d="M1718.3,372.9 L1752.1,339.9 L1784.2,312.5 L1800.3,300.3 L1808.6,307.3 L1808.4,321.7 L1789.7,321.2 L1760.3,342.0 L1721.7,374.0 Z" fill="url(#gsp)" />
<path d="M1823.7,406.6 L1848.7,380.9 L1872.7,357.0 L1896.9,334.6 L1912.6,314.2 L1922.0,298.6 L1937.1,296.0 L1930.7,313.7 L1905.0,337.7 L1856.6,379.3 L1826.6,408.0 Z" fill="url(#gsp)" />
<path d="M1756.9,292.7 C1761.9,284.8 1782.2,260.4 1793.5,245.3 C1804.8,230.2 1816.8,214.5 1824.5,202.2 C1832.2,190.0 1835.7,181.0 1839.8,171.9 C1843.9,162.7 1845.4,154.2 1849.1,147.5 C1852.7,140.9 1856.4,135.1 1861.5,131.9 C1866.7,128.7 1873.8,129.5 1879.9,128.4 C1886.0,127.4 1893.6,127.5 1898.2,125.5 C1902.8,123.5 1903.9,120.4 1907.4,116.3 C1911.0,112.2 1915.6,106.6 1919.7,101.0 C1923.8,95.4 1928.4,89.3 1932.0,82.6 C1935.6,75.9 1937.9,67.7 1941.3,61.1 C1944.6,54.4 1949.0,43.2 1952.0,42.7 C1955.1,42.2 1955.9,53.5 1959.8,58.1 C1963.6,62.7 1968.4,66.9 1975.1,70.3 C1981.7,73.6 1993.3,76.0 1999.7,78.1 C2006.1,80.1 2011.4,79.8 2013.5,82.6 C2015.5,85.4 2014.3,89.9 2011.9,94.9 C2009.6,100.0 2003.1,107.7 1999.5,112.8 C1995.9,117.9 1992.9,119.7 1990.4,125.5 C1987.9,131.3 1987.4,141.4 1984.4,147.5 C1981.3,153.7 1975.2,157.3 1972.1,162.3 C1969.0,167.3 1967.4,172.1 1965.8,177.8 C1964.3,183.4 1963.1,192.1 1962.8,196.2 C1962.6,200.2 1967.9,201.0 1964.3,202.2 C1960.7,203.5 1950.2,203.3 1941.3,203.8 C1932.3,204.3 1919.7,204.1 1910.5,205.4 C1901.2,206.6 1893.6,208.9 1885.9,211.4 C1878.3,214.0 1871.7,217.1 1864.6,220.6 C1857.4,224.2 1850.8,228.4 1843.0,233.0 C1835.3,237.6 1826.3,242.6 1818.1,248.3 C1809.8,253.9 1801.1,260.5 1793.5,266.7 C1785.9,272.8 1777.4,280.7 1772.3,285.1 C1767.3,289.4 1765.7,291.4 1763.1,292.7 C1760.5,294.0 1751.8,300.6 1756.9,292.7 Z" fill="url(#bsp)" />
<g clip-path="url(#cp3)"><path d="M1952.2,32.9 L2029.7,72.9 L2025.9,151.0 L1969.2,154.5 L1931.4,151.0 L1893.7,140.6 L1855.9,126.7 L1912.6,98.9 L1940.9,46.8 Z" fill="url(#wsp)" mask="url(#mkcp3)"/></g>
<rect x="1667.4" y="29.8" width="489.6" height="451.7" fill="none" stroke="#000" stroke-width="3.2"/>
<text x="1664.0" y="67.0" font-family="'Liberation Serif','Times New Roman',serif" font-size="17.3" font-weight="bold" font-style="normal" fill="#1a1a1a" text-anchor="end" textLength="21" lengthAdjust="spacingAndGlyphs">2.8</text>
<text x="1703.5" y="495.3" font-family="'Liberation Serif','Times New Roman',serif" font-size="16" font-weight="bold" font-style="normal" fill="#1a1a1a" text-anchor="middle" textLength="21" lengthAdjust="spacingAndGlyphs">0.6</text>
<text x="1664.0" y="101.7" font-family="'Liberation Serif','Times New Roman',serif" font-size="17.3" font-weight="bold" font-style="normal" fill="#1a1a1a" text-anchor="end" textLength="21" lengthAdjust="spacingAndGlyphs">2.6</text>
<text x="1741.3" y="495.3" font-family="'Liberation Serif','Times New Roman',serif" font-size="16" font-weight="bold" font-style="normal" fill="#1a1a1a" text-anchor="middle" textLength="21" lengthAdjust="spacingAndGlyphs">0.8</text>
<text x="1664.0" y="136.5" font-family="'Liberation Serif','Times New Roman',serif" font-size="17.3" font-weight="bold" font-style="normal" fill="#1a1a1a" text-anchor="end" textLength="21" lengthAdjust="spacingAndGlyphs">2.4</text>
<text x="1779.1" y="495.3" font-family="'Liberation Serif','Times New Roman',serif" font-size="16" font-weight="bold" font-style="normal" fill="#1a1a1a" text-anchor="middle" textLength="21" lengthAdjust="spacingAndGlyphs">1.0</text>
<text x="1664.0" y="171.2" font-family="'Liberation Serif','Times New Roman',serif" font-size="17.3" font-weight="bold" font-style="normal" fill="#1a1a1a" text-anchor="end" textLength="21" lengthAdjust="spacingAndGlyphs">2.2</text>
<text x="1816.9" y="495.3" font-family="'Liberation Serif','Times New Roman',serif" font-size="16" font-weight="bold" font-style="normal" fill="#1a1a1a" text-anchor="middle" textLength="21" lengthAdjust="spacingAndGlyphs">1.2</text>
<text x="1664.0" y="205.9" font-family="'Liberation Serif','Times New Roman',serif" font-size="17.3" font-weight="bold" font-style="normal" fill="#1a1a1a" text-anchor="end" textLength="21" lengthAdjust="spacingAndGlyphs">2.0</text>
<text x="1854.7" y="495.3" font-family="'Liberation Serif','Times New Roman',serif" font-size="16" font-weight="bold" font-style="normal" fill="#1a1a1a" text-anchor="middle" textLength="21" lengthAdjust="spacingAndGlyphs">1.4</text>
<text x="1664.0" y="240.6" font-family="'Liberation Serif','Times New Roman',serif" font-size="17.3" font-weight="bold" font-style="normal" fill="#1a1a1a" text-anchor="end" textLength="21" lengthAdjust="spacingAndGlyphs">1.8</text>
<text x="1892.5" y="495.3" font-family="'Liberation Serif','Times New Roman',serif" font-size="16" font-weight="bold" font-style="normal" fill="#1a1a1a" text-anchor="middle" textLength="21" lengthAdjust="spacingAndGlyphs">1.6</text>
<text x="1664.0" y="275.4" font-family="'Liberation Serif','Times New Roman',serif" font-size="17.3" font-weight="bold" font-style="normal" fill="#1a1a1a" text-anchor="end" textLength="21" lengthAdjust="spacingAndGlyphs">1.6</text>
<text x="1930.2" y="495.3" font-family="'Liberation Serif','Times New Roman',serif" font-size="16" font-weight="bold" font-style="normal" fill="#1a1a1a" text-anchor="middle" textLength="21" lengthAdjust="spacingAndGlyphs">1.8</text>
<text x="1664.0" y="310.1" font-family="'Liberation Serif','Times New Roman',serif" font-size="17.3" font-weight="bold" font-style="normal" fill="#1a1a1a" text-anchor="end" textLength="21" lengthAdjust="spacingAndGlyphs">1.4</text>
<text x="1968.0" y="495.3" font-family="'Liberation Serif','Times New Roman',serif" font-size="16" font-weight="bold" font-style="normal" fill="#1a1a1a" text-anchor="middle" textLength="21" lengthAdjust="spacingAndGlyphs">2.0</text>
<text x="1664.0" y="344.8" font-family="'Liberation Serif','Times New Roman',serif" font-size="17.3" font-weight="bold" font-style="normal" fill="#1a1a1a" text-anchor="end" textLength="21" lengthAdjust="spacingAndGlyphs">1.2</text>
<text x="2005.8" y="495.3" font-family="'Liberation Serif','Times New Roman',serif" font-size="16" font-weight="bold" font-style="normal" fill="#1a1a1a" text-anchor="middle" textLength="21" lengthAdjust="spacingAndGlyphs">2.2</text>
<text x="1664.0" y="379.5" font-family="'Liberation Serif','Times New Roman',serif" font-size="17.3" font-weight="bold" font-style="normal" fill="#1a1a1a" text-anchor="end" textLength="21" lengthAdjust="spacingAndGlyphs">1.0</text>
<text x="2043.6" y="495.3" font-family="'Liberation Serif','Times New Roman',serif" font-size="16" font-weight="bold" font-style="normal" fill="#1a1a1a" text-anchor="middle" textLength="21" lengthAdjust="spacingAndGlyphs">2.4</text>
<text x="1664.0" y="414.3" font-family="'Liberation Serif','Times New Roman',serif" font-size="17.3" font-weight="bold" font-style="normal" fill="#1a1a1a" text-anchor="end" textLength="21" lengthAdjust="spacingAndGlyphs">0.8</text>
<text x="2081.4" y="495.3" font-family="'Liberation Serif','Times New Roman',serif" font-size="16" font-weight="bold" font-style="normal" fill="#1a1a1a" text-anchor="middle" textLength="21" lengthAdjust="spacingAndGlyphs">2.6</text>
<text x="1664.0" y="449.0" font-family="'Liberation Serif','Times New Roman',serif" font-size="17.3" font-weight="bold" font-style="normal" fill="#1a1a1a" text-anchor="end" textLength="21" lengthAdjust="spacingAndGlyphs">0.6</text>
<text x="2119.2" y="495.3" font-family="'Liberation Serif','Times New Roman',serif" font-size="16" font-weight="bold" font-style="normal" fill="#1a1a1a" text-anchor="middle" textLength="21" lengthAdjust="spacingAndGlyphs">2.8</text>
<text x="1674.4" y="56.8" font-family="'Liberation Serif','Times New Roman',serif" font-size="24.5" font-weight="bold" font-style="italic" fill="#000" text-anchor="start" textLength="24.4" lengthAdjust="spacingAndGlyphs">de</text>
<text x="2127.0" y="472.3" font-family="'Liberation Serif','Times New Roman',serif" font-size="24.5" font-weight="bold" font-style="italic" fill="#000" text-anchor="start" textLength="20.6" lengthAdjust="spacingAndGlyphs">di</text>
<text x="1762.7" y="129.5" font-family="'Liberation Serif','Times New Roman',serif" font-size="25" font-weight="bold" font-style="normal" fill="#000" text-anchor="start" textLength="65.2" lengthAdjust="spacingAndGlyphs">H...Cl</text>
<text x="1760.3" y="164.8" font-family="'Liberation Serif','Times New Roman',serif" font-size="25" font-weight="bold" font-style="normal" fill="#a3161c" text-anchor="start" textLength="67.6" lengthAdjust="spacingAndGlyphs">14.5%</text>
<rect x="613.5" y="503.6" width="492.2" height="454.4" fill="#fff"/>
<line x1="651.7" y1="506.6" x2="651.7" y2="955.0" stroke="#9c9c9c" stroke-width="2.1"/>
<line x1="616.5" y1="540.0" x2="1102.7" y2="540.0" stroke="#b2b2b2" stroke-width="2"/>
<line x1="689.5" y1="506.6" x2="689.5" y2="955.0" stroke="#9c9c9c" stroke-width="2.1"/>
<line x1="616.5" y1="574.7" x2="1102.7" y2="574.7" stroke="#b2b2b2" stroke-width="2"/>
<line x1="727.2" y1="506.6" x2="727.2" y2="955.0" stroke="#9c9c9c" stroke-width="2.1"/>
<line x1="616.5" y1="609.4" x2="1102.7" y2="609.4" stroke="#b2b2b2" stroke-width="2"/>
<line x1="765.0" y1="506.6" x2="765.0" y2="955.0" stroke="#9c9c9c" stroke-width="2.1"/>
<line x1="616.5" y1="644.1" x2="1102.7" y2="644.1" stroke="#b2b2b2" stroke-width="2"/>
<line x1="802.8" y1="506.6" x2="802.8" y2="955.0" stroke="#9c9c9c" stroke-width="2.1"/>
<line x1="616.5" y1="678.8" x2="1102.7" y2="678.8" stroke="#b2b2b2" stroke-width="2"/>
<line x1="840.5" y1="506.6" x2="840.5" y2="955.0" stroke="#9c9c9c" stroke-width="2.1"/>
<line x1="616.5" y1="713.5" x2="1102.7" y2="713.5" stroke="#b2b2b2" stroke-width="2"/>
<line x1="878.3" y1="506.6" x2="878.3" y2="955.0" stroke="#9c9c9c" stroke-width="2.1"/>
<line x1="616.5" y1="748.2" x2="1102.7" y2="748.2" stroke="#b2b2b2" stroke-width="2"/>
<line x1="916.0" y1="506.6" x2="916.0" y2="955.0" stroke="#9c9c9c" stroke-width="2.1"/>
<line x1="616.5" y1="782.9" x2="1102.7" y2="782.9" stroke="#b2b2b2" stroke-width="2"/>
<line x1="953.8" y1="506.6" x2="953.8" y2="955.0" stroke="#9c9c9c" stroke-width="2.1"/>
<line x1="616.5" y1="817.6" x2="1102.7" y2="817.6" stroke="#b2b2b2" stroke-width="2"/>
<line x1="991.6" y1="506.6" x2="991.6" y2="955.0" stroke="#9c9c9c" stroke-width="2.1"/>
<line x1="616.5" y1="852.3" x2="1102.7" y2="852.3" stroke="#b2b2b2" stroke-width="2"/>
<line x1="1029.3" y1="506.6" x2="1029.3" y2="955.0" stroke="#9c9c9c" stroke-width="2.1"/>
<line x1="616.5" y1="887.0" x2="1102.7" y2="887.0" stroke="#b2b2b2" stroke-width="2"/>
<line x1="1067.1" y1="506.6" x2="1067.1" y2="955.0" stroke="#9c9c9c" stroke-width="2.1"/>
<line x1="616.5" y1="921.7" x2="1102.7" y2="921.7" stroke="#b2b2b2" stroke-width="2"/>
<path d="M948.1,510.5 C950.1,512.3 951.0,516.0 951.9,522.6 C952.9,529.3 953.8,541.7 953.8,550.4 C953.8,559.1 951.4,567.2 951.9,574.7 C952.4,582.2 956.0,587.1 956.6,595.5 C957.3,603.9 956.2,616.6 955.7,625.0 C955.2,633.4 953.5,638.6 953.8,645.8 C954.1,653.1 955.9,661.2 957.6,668.4 C959.3,675.6 961.8,682.3 964.2,689.2 C966.6,696.2 970.5,704.5 971.9,710.0 C973.4,715.5 974.5,716.7 972.7,722.2 C970.9,727.7 965.8,737.5 961.4,743.0 C957.0,748.5 951.3,751.1 946.3,755.1 C941.2,759.2 936.8,762.7 931.2,767.3 C925.5,771.9 918.4,779.1 912.3,782.9 C906.1,786.7 900.0,787.5 894.3,789.8 C888.7,792.2 883.5,794.2 878.3,796.8 C873.1,799.4 868.8,801.7 863.2,805.5 C857.5,809.2 850.6,815.3 844.3,819.3 C838.0,823.4 831.7,827.4 825.4,829.7 C819.1,832.1 813.5,832.6 806.5,833.2 C799.6,833.8 790.8,834.1 783.9,833.2 C776.9,832.3 769.7,831.2 765.0,828.0 C760.3,824.8 757.8,820.2 755.5,814.1 C753.3,808.1 752.4,798.2 751.8,791.6 C751.1,784.9 750.5,780.9 751.8,774.2 C753.0,767.6 756.5,758.9 759.3,751.7 C762.2,744.4 769.1,736.3 768.8,730.9 C768.5,725.4 763.3,717.1 757.4,719.2 C751.6,721.3 741.0,736.2 733.5,743.5 C725.9,750.8 716.9,759.6 712.1,763.1 C707.3,766.6 705.2,765.7 704.6,764.7 C703.9,763.6 703.5,763.4 708.3,756.9 C713.2,750.3 725.3,739.2 733.5,725.3 C741.6,711.4 750.9,686.7 757.4,673.6 C764.0,660.5 766.8,656.1 772.9,646.5 C779.1,637.0 787.7,622.9 794.3,616.3 C800.8,609.8 806.6,612.4 812.2,607.1 C817.8,601.9 822.6,588.6 827.7,584.6 C832.8,580.6 836.7,585.3 842.8,583.0 C848.9,580.7 857.0,575.4 864.1,570.9 C871.2,566.3 878.7,560.8 885.3,555.8 C891.8,550.7 897.0,546.0 903.6,540.5 C910.2,535.0 918.7,527.4 924.7,522.6 C930.8,517.9 936.1,513.9 940.0,511.9 C943.9,509.9 946.2,508.7 948.1,510.5 Z" fill="url(#gsp)" />
<path d="M695.1,811.5 L718.2,788.8 L739.5,764.7 L760.8,737.4 L782.0,716.3 L797.1,701.4 L802.8,713.5 L774.4,739.5 L754.6,767.6 L733.5,785.8 L703.1,813.1 Z" fill="url(#gsp)" />
<path d="M765.9,881.3 L794.3,861.5 L824.5,835.0 L854.9,807.2 L876.4,789.0 L883.9,800.2 L859.4,821.1 L831.1,843.6 L806.5,861.0 L769.7,882.7 Z" fill="url(#gsp)" />
<path d="M948.7,507.0 C950.9,512.5 951.9,534.2 951.9,548.7 C952.0,563.1 950.7,581.1 949.1,593.8 C947.5,606.5 944.1,614.6 942.5,625.0 C940.9,635.4 940.6,646.1 939.6,656.2 C938.7,666.4 937.9,675.6 936.8,685.7 C935.7,695.9 934.6,708.8 933.0,717.0 C931.5,725.2 929.9,728.9 927.4,735.0 C924.9,741.1 922.0,747.7 917.9,753.4 C913.8,759.1 909.4,762.9 902.8,769.0 C896.2,775.1 885.8,783.2 878.3,789.8 C870.7,796.5 864.1,803.3 857.5,808.9 C850.9,814.5 843.8,819.2 838.6,823.5 C833.5,827.8 830.8,833.9 826.7,835.0 C822.6,836.0 819.2,831.7 814.1,829.7 C809.0,827.8 802.8,824.5 796.1,823.5 C789.5,822.5 780.6,824.5 774.4,823.5 C768.3,822.5 762.3,820.0 759.3,817.6 C756.3,815.2 757.4,813.6 756.5,808.9 C755.5,804.3 754.8,797.6 753.7,789.8 C752.6,782.0 749.4,771.3 749.9,762.1 C750.4,752.8 755.4,743.0 756.5,734.3 C757.6,725.6 755.1,717.0 756.5,710.0 C757.9,703.1 761.4,698.8 765.0,692.7 C768.6,686.6 774.1,679.7 778.2,673.6 C782.3,667.5 786.5,661.7 789.5,656.2 C792.5,650.8 793.5,647.9 796.1,640.6 C798.8,633.4 802.9,618.5 805.4,612.9 C807.9,607.2 807.7,609.8 811.3,606.8 C814.8,603.8 819.0,599.7 826.7,594.7 C834.4,589.6 847.3,582.7 857.5,576.4 C867.7,570.2 877.7,564.6 887.7,557.3 C897.8,550.1 909.4,540.0 917.9,533.1 C926.4,526.1 933.6,520.0 938.7,515.7 C943.8,511.4 946.5,501.5 948.7,507.0 Z" fill="url(#bsp)" />
<g clip-path="url(#cp4)"><path d="M953.8,496.6 L976.5,574.7 L972.7,635.4 L916.0,626.8 L868.8,618.1 L821.6,605.9 L783.9,592.0 L821.6,557.3 L897.2,522.6 Z" fill="url(#wsp)" mask="url(#mkcp4)"/></g>
<ellipse cx="859.4" cy="696.1" rx="66.1" ry="69.4" fill="url(#glow)" clip-path="url(#cp14)"/>
<rect x="615.1" y="505.2" width="489.0" height="451.2" fill="none" stroke="#000" stroke-width="3.2"/>
<text x="611.7" y="542.8" font-family="'Liberation Serif','Times New Roman',serif" font-size="17.3" font-weight="bold" font-style="normal" fill="#1a1a1a" text-anchor="end" textLength="21" lengthAdjust="spacingAndGlyphs">2.8</text>
<text x="650.5" y="970.2" font-family="'Liberation Serif','Times New Roman',serif" font-size="16" font-weight="bold" font-style="normal" fill="#1a1a1a" text-anchor="middle" textLength="21" lengthAdjust="spacingAndGlyphs">0.6</text>
<text x="611.7" y="577.5" font-family="'Liberation Serif','Times New Roman',serif" font-size="17.3" font-weight="bold" font-style="normal" fill="#1a1a1a" text-anchor="end" textLength="21" lengthAdjust="spacingAndGlyphs">2.6</text>
<text x="688.3" y="970.2" font-family="'Liberation Serif','Times New Roman',serif" font-size="16" font-weight="bold" font-style="normal" fill="#1a1a1a" text-anchor="middle" textLength="21" lengthAdjust="spacingAndGlyphs">0.8</text>
<text x="611.7" y="612.2" font-family="'Liberation Serif','Times New Roman',serif" font-size="17.3" font-weight="bold" font-style="normal" fill="#1a1a1a" text-anchor="end" textLength="21" lengthAdjust="spacingAndGlyphs">2.4</text>
<text x="726.0" y="970.2" font-family="'Liberation Serif','Times New Roman',serif" font-size="16" font-weight="bold" font-style="normal" fill="#1a1a1a" text-anchor="middle" textLength="21" lengthAdjust="spacingAndGlyphs">1.0</text>
<text x="611.7" y="646.9" font-family="'Liberation Serif','Times New Roman',serif" font-size="17.3" font-weight="bold" font-style="normal" fill="#1a1a1a" text-anchor="end" textLength="21" lengthAdjust="spacingAndGlyphs">2.2</text>
<text x="763.8" y="970.2" font-family="'Liberation Serif','Times New Roman',serif" font-size="16" font-weight="bold" font-style="normal" fill="#1a1a1a" text-anchor="middle" textLength="21" lengthAdjust="spacingAndGlyphs">1.2</text>
<text x="611.7" y="681.6" font-family="'Liberation Serif','Times New Roman',serif" font-size="17.3" font-weight="bold" font-style="normal" fill="#1a1a1a" text-anchor="end" textLength="21" lengthAdjust="spacingAndGlyphs">2.0</text>
<text x="801.6" y="970.2" font-family="'Liberation Serif','Times New Roman',serif" font-size="16" font-weight="bold" font-style="normal" fill="#1a1a1a" text-anchor="middle" textLength="21" lengthAdjust="spacingAndGlyphs">1.4</text>
<text x="611.7" y="716.3" font-family="'Liberation Serif','Times New Roman',serif" font-size="17.3" font-weight="bold" font-style="normal" fill="#1a1a1a" text-anchor="end" textLength="21" lengthAdjust="spacingAndGlyphs">1.8</text>
<text x="839.3" y="970.2" font-family="'Liberation Serif','Times New Roman',serif" font-size="16" font-weight="bold" font-style="normal" fill="#1a1a1a" text-anchor="middle" textLength="21" lengthAdjust="spacingAndGlyphs">1.6</text>
<text x="611.7" y="751.0" font-family="'Liberation Serif','Times New Roman',serif" font-size="17.3" font-weight="bold" font-style="normal" fill="#1a1a1a" text-anchor="end" textLength="21" lengthAdjust="spacingAndGlyphs">1.6</text>
<text x="877.1" y="970.2" font-family="'Liberation Serif','Times New Roman',serif" font-size="16" font-weight="bold" font-style="normal" fill="#1a1a1a" text-anchor="middle" textLength="21" lengthAdjust="spacingAndGlyphs">1.8</text>
<text x="611.7" y="785.7" font-family="'Liberation Serif','Times New Roman',serif" font-size="17.3" font-weight="bold" font-style="normal" fill="#1a1a1a" text-anchor="end" textLength="21" lengthAdjust="spacingAndGlyphs">1.4</text>
<text x="914.8" y="970.2" font-family="'Liberation Serif','Times New Roman',serif" font-size="16" font-weight="bold" font-style="normal" fill="#1a1a1a" text-anchor="middle" textLength="21" lengthAdjust="spacingAndGlyphs">2.0</text>
<text x="611.7" y="820.4" font-family="'Liberation Serif','Times New Roman',serif" font-size="17.3" font-weight="bold" font-style="normal" fill="#1a1a1a" text-anchor="end" textLength="21" lengthAdjust="spacingAndGlyphs">1.2</text>
<text x="952.6" y="970.2" font-family="'Liberation Serif','Times New Roman',serif" font-size="16" font-weight="bold" font-style="normal" fill="#1a1a1a" text-anchor="middle" textLength="21" lengthAdjust="spacingAndGlyphs">2.2</text>
<text x="611.7" y="855.1" font-family="'Liberation Serif','Times New Roman',serif" font-size="17.3" font-weight="bold" font-style="normal" fill="#1a1a1a" text-anchor="end" textLength="21" lengthAdjust="spacingAndGlyphs">1.0</text>
<text x="990.4" y="970.2" font-family="'Liberation Serif','Times New Roman',serif" font-size="16" font-weight="bold" font-style="normal" fill="#1a1a1a" text-anchor="middle" textLength="21" lengthAdjust="spacingAndGlyphs">2.4</text>
<text x="611.7" y="889.8" font-family="'Liberation Serif','Times New Roman',serif" font-size="17.3" font-weight="bold" font-style="normal" fill="#1a1a1a" text-anchor="end" textLength="21" lengthAdjust="spacingAndGlyphs">0.8</text>
<text x="1028.1" y="970.2" font-family="'Liberation Serif','Times New Roman',serif" font-size="16" font-weight="bold" font-style="normal" fill="#1a1a1a" text-anchor="middle" textLength="21" lengthAdjust="spacingAndGlyphs">2.6</text>
<text x="611.7" y="924.5" font-family="'Liberation Serif','Times New Roman',serif" font-size="17.3" font-weight="bold" font-style="normal" fill="#1a1a1a" text-anchor="end" textLength="21" lengthAdjust="spacingAndGlyphs">0.6</text>
<text x="1065.9" y="970.2" font-family="'Liberation Serif','Times New Roman',serif" font-size="16" font-weight="bold" font-style="normal" fill="#1a1a1a" text-anchor="middle" textLength="21" lengthAdjust="spacingAndGlyphs">2.8</text>
<text x="622.1" y="532.2" font-family="'Liberation Serif','Times New Roman',serif" font-size="24.5" font-weight="bold" font-style="italic" fill="#000" text-anchor="start" textLength="24.4" lengthAdjust="spacingAndGlyphs">de</text>
<text x="1074.1" y="947.2" font-family="'Liberation Serif','Times New Roman',serif" font-size="24.5" font-weight="bold" font-style="italic" fill="#000" text-anchor="start" textLength="20.6" lengthAdjust="spacingAndGlyphs">di</text>
<text x="962.5" y="780.2" font-family="'Liberation Serif','Times New Roman',serif" font-size="25" font-weight="bold" font-style="normal" fill="#000" text-anchor="start" textLength="58.0" lengthAdjust="spacingAndGlyphs">H...H</text>
<text x="961.6" y="813.7" font-family="'Liberation Serif','Times New Roman',serif" font-size="25" font-weight="bold" font-style="normal" fill="#a3161c" text-anchor="start" textLength="68.1" lengthAdjust="spacingAndGlyphs">34.2%</text>
<rect x="1140.3" y="505.0" width="493.1" height="454.6" fill="#fff"/>
<line x1="1179.8" y1="508.0" x2="1179.8" y2="956.6" stroke="#9c9c9c" stroke-width="2.1"/>
<line x1="1143.3" y1="540.9" x2="1630.4" y2="540.9" stroke="#b2b2b2" stroke-width="2"/>
<line x1="1217.6" y1="508.0" x2="1217.6" y2="956.6" stroke="#9c9c9c" stroke-width="2.1"/>
<line x1="1143.3" y1="575.7" x2="1630.4" y2="575.7" stroke="#b2b2b2" stroke-width="2"/>
<line x1="1255.3" y1="508.0" x2="1255.3" y2="956.6" stroke="#9c9c9c" stroke-width="2.1"/>
<line x1="1143.3" y1="610.5" x2="1630.4" y2="610.5" stroke="#b2b2b2" stroke-width="2"/>
<line x1="1293.1" y1="508.0" x2="1293.1" y2="956.6" stroke="#9c9c9c" stroke-width="2.1"/>
<line x1="1143.3" y1="645.4" x2="1630.4" y2="645.4" stroke="#b2b2b2" stroke-width="2"/>
<line x1="1330.9" y1="508.0" x2="1330.9" y2="956.6" stroke="#9c9c9c" stroke-width="2.1"/>
<line x1="1143.3" y1="680.2" x2="1630.4" y2="680.2" stroke="#b2b2b2" stroke-width="2"/>
<line x1="1368.7" y1="508.0" x2="1368.7" y2="956.6" stroke="#9c9c9c" stroke-width="2.1"/>
<line x1="1143.3" y1="715.0" x2="1630.4" y2="715.0" stroke="#b2b2b2" stroke-width="2"/>
<line x1="1406.4" y1="508.0" x2="1406.4" y2="956.6" stroke="#9c9c9c" stroke-width="2.1"/>
<line x1="1143.3" y1="749.8" x2="1630.4" y2="749.8" stroke="#b2b2b2" stroke-width="2"/>
<line x1="1444.2" y1="508.0" x2="1444.2" y2="956.6" stroke="#9c9c9c" stroke-width="2.1"/>
<line x1="1143.3" y1="784.6" x2="1630.4" y2="784.6" stroke="#b2b2b2" stroke-width="2"/>
<line x1="1482.0" y1="508.0" x2="1482.0" y2="956.6" stroke="#9c9c9c" stroke-width="2.1"/>
<line x1="1143.3" y1="819.4" x2="1630.4" y2="819.4" stroke="#b2b2b2" stroke-width="2"/>
<line x1="1519.8" y1="508.0" x2="1519.8" y2="956.6" stroke="#9c9c9c" stroke-width="2.1"/>
<line x1="1143.3" y1="854.3" x2="1630.4" y2="854.3" stroke="#b2b2b2" stroke-width="2"/>
<line x1="1557.5" y1="508.0" x2="1557.5" y2="956.6" stroke="#9c9c9c" stroke-width="2.1"/>
<line x1="1143.3" y1="889.1" x2="1630.4" y2="889.1" stroke="#b2b2b2" stroke-width="2"/>
<line x1="1595.3" y1="508.0" x2="1595.3" y2="956.6" stroke="#9c9c9c" stroke-width="2.1"/>
<line x1="1143.3" y1="923.9" x2="1630.4" y2="923.9" stroke="#b2b2b2" stroke-width="2"/>
<path d="M1476.3,511.3 C1478.3,513.1 1479.1,516.8 1480.1,523.5 C1481.0,530.2 1482.0,542.6 1482.0,551.3 C1482.0,560.0 1479.6,568.2 1480.1,575.7 C1480.6,583.3 1484.2,588.2 1484.8,596.6 C1485.4,605.0 1484.3,617.8 1483.9,626.2 C1483.4,634.6 1481.7,639.8 1482.0,647.1 C1482.3,654.3 1484.0,662.5 1485.8,669.7 C1487.5,677.0 1490.0,683.7 1492.4,690.6 C1494.8,697.6 1498.7,706.0 1500.1,711.5 C1501.5,717.0 1502.6,718.2 1500.9,723.7 C1499.1,729.2 1493.9,739.1 1489.5,744.6 C1485.1,750.1 1479.5,752.7 1474.4,756.8 C1469.4,760.8 1465.0,764.3 1459.3,769.0 C1453.7,773.6 1446.6,780.9 1440.4,784.6 C1434.3,788.4 1428.2,789.3 1422.5,791.6 C1416.8,793.9 1411.6,795.9 1406.4,798.6 C1401.2,801.2 1397.0,803.5 1391.3,807.3 C1385.7,811.0 1378.7,817.1 1372.4,821.2 C1366.1,825.2 1359.8,829.3 1353.6,831.6 C1347.3,834.0 1341.6,834.5 1334.7,835.1 C1327.7,835.7 1318.9,836.0 1312.0,835.1 C1305.1,834.2 1297.8,833.1 1293.1,829.9 C1288.4,826.7 1285.9,822.1 1283.7,816.0 C1281.5,809.9 1280.5,800.0 1279.9,793.3 C1279.3,786.7 1278.6,782.6 1279.9,775.9 C1281.2,769.2 1284.6,760.5 1287.5,753.3 C1290.3,746.0 1297.2,737.8 1296.9,732.4 C1296.6,727.0 1291.4,718.6 1285.6,720.7 C1279.7,722.9 1269.1,737.8 1261.6,745.1 C1254.0,752.4 1245.1,761.2 1240.2,764.8 C1235.4,768.3 1233.3,767.4 1232.7,766.3 C1232.1,765.3 1231.6,765.1 1236.5,758.5 C1241.3,751.9 1253.4,740.8 1261.6,726.8 C1269.8,712.9 1279.0,688.1 1285.6,674.9 C1292.1,661.8 1294.9,657.4 1301.1,647.8 C1307.2,638.2 1315.8,624.1 1322.4,617.5 C1328.9,610.9 1334.8,613.6 1340.3,608.3 C1345.9,603.0 1350.7,589.7 1355.8,585.6 C1360.9,581.6 1364.9,586.4 1370.9,584.1 C1377.0,581.8 1385.2,576.4 1392.3,571.9 C1399.4,567.3 1406.8,561.8 1413.4,556.7 C1420.0,551.7 1425.2,547.0 1431.7,541.4 C1438.3,535.9 1446.8,528.3 1452.9,523.5 C1459.0,518.7 1464.3,514.7 1468.2,512.7 C1472.1,510.7 1474.3,509.5 1476.3,511.3 Z" fill="url(#gsp)" />
<path d="M1223.2,813.4 L1246.3,790.5 L1267.6,766.3 L1289.0,739.0 L1310.1,717.8 L1325.2,702.8 L1330.9,715.0 L1302.6,741.1 L1282.7,769.3 L1261.6,787.6 L1231.2,814.9 Z" fill="url(#gsp)" />
<path d="M1294.1,883.3 L1322.4,863.5 L1352.6,836.9 L1383.0,809.0 L1404.5,790.7 L1412.1,802.0 L1387.5,822.9 L1359.2,845.6 L1334.7,863.0 L1297.8,884.7 Z" fill="url(#gsp)" />
<path d="M1327.5,659.6 C1329.9,651.2 1335.6,643.2 1338.1,638.2 C1340.6,633.2 1340.5,632.3 1342.4,629.7 C1344.4,627.1 1347.6,630.3 1349.8,622.7 C1351.9,615.2 1353.6,589.4 1355.4,584.4 C1357.3,579.5 1358.7,589.5 1361.1,593.1 C1363.6,596.8 1366.9,602.2 1370.2,606.2 C1373.5,610.1 1376.7,617.2 1380.9,616.8 C1385.2,616.5 1391.6,610.5 1395.9,604.1 C1400.1,597.7 1403.7,579.6 1406.4,578.3 C1409.1,577.1 1408.5,592.3 1412.1,596.6 C1415.7,600.9 1421.8,603.2 1428.0,604.1 C1434.2,605.0 1442.9,602.6 1449.3,601.8 C1455.7,601.1 1461.1,600.8 1466.5,599.7 C1471.8,598.7 1478.4,594.3 1481.4,595.4 C1484.4,596.5 1484.6,599.0 1484.6,606.2 C1484.6,613.3 1481.6,629.3 1481.4,638.2 C1481.2,647.1 1482.5,652.5 1483.5,659.6 C1484.5,666.8 1486.2,673.9 1487.6,681.0 C1489.1,688.2 1489.8,695.9 1492.0,702.3 C1494.2,708.7 1500.0,714.0 1500.7,719.3 C1501.4,724.7 1499.5,730.0 1496.3,734.3 C1493.1,738.6 1486.4,741.2 1481.4,745.1 C1476.4,749.1 1471.8,753.3 1466.5,758.0 C1461.1,762.6 1455.0,768.3 1449.3,773.0 C1443.6,777.6 1437.3,783.4 1432.3,785.8 C1427.3,788.3 1423.8,787.3 1419.5,787.9 C1415.2,788.6 1409.6,790.6 1406.4,789.8 C1403.2,789.1 1401.2,795.3 1400.2,783.6 C1399.2,771.8 1402.7,730.7 1400.2,719.3 C1397.7,707.9 1391.2,716.9 1385.1,715.2 C1379.0,713.4 1369.8,710.1 1363.8,708.7 C1357.7,707.3 1353.1,706.3 1348.8,706.6 C1344.6,707.0 1341.6,708.7 1338.1,710.8 C1334.5,712.9 1329.9,723.0 1327.5,719.3 C1325.0,715.7 1323.3,698.8 1323.3,688.9 C1323.3,678.9 1325.0,668.1 1327.5,659.6 Z" fill="url(#bsp)" />
<path d="M1223.2,813.4 L1246.3,790.5 L1267.6,766.3 L1289.0,739.0 L1310.1,717.8 L1325.2,702.8 L1330.9,715.0 L1302.6,741.1 L1282.7,769.3 L1261.6,787.6 L1231.2,814.9 Z" fill="url(#bsp)" />
<path d="M1294.1,883.3 L1322.4,863.5 L1352.6,836.9 L1383.0,809.0 L1404.5,790.7 L1412.1,802.0 L1387.5,822.9 L1359.2,845.6 L1334.7,863.0 L1297.8,884.7 Z" fill="url(#bsp)" />
<g clip-path="url(#cp5)"><path d="M1482.0,497.4 L1504.6,575.7 L1500.9,636.6 L1444.2,627.9 L1397.0,619.2 L1349.8,607.1 L1312.0,593.1 L1349.8,558.3 L1425.3,523.5 Z" fill="url(#wsp)" mask="url(#mkcp5)"/></g>
<ellipse cx="1434.8" cy="741.1" rx="34.0" ry="43.5" fill="url(#glow)" clip-path="url(#cp15)"/>
<rect x="1141.9" y="506.6" width="489.9" height="451.4" fill="none" stroke="#000" stroke-width="3.2"/>
<text x="1138.5" y="543.7" font-family="'Liberation Serif','Times New Roman',serif" font-size="17.3" font-weight="bold" font-style="normal" fill="#1a1a1a" text-anchor="end" textLength="21" lengthAdjust="spacingAndGlyphs">2.8</text>
<text x="1178.6" y="971.8" font-family="'Liberation Serif','Times New Roman',serif" font-size="16" font-weight="bold" font-style="normal" fill="#1a1a1a" text-anchor="middle" textLength="21" lengthAdjust="spacingAndGlyphs">0.6</text>
<text x="1138.5" y="578.5" font-family="'Liberation Serif','Times New Roman',serif" font-size="17.3" font-weight="bold" font-style="normal" fill="#1a1a1a" text-anchor="end" textLength="21" lengthAdjust="spacingAndGlyphs">2.6</text>
<text x="1216.4" y="971.8" font-family="'Liberation Serif','Times New Roman',serif" font-size="16" font-weight="bold" font-style="normal" fill="#1a1a1a" text-anchor="middle" textLength="21" lengthAdjust="spacingAndGlyphs">0.8</text>
<text x="1138.5" y="613.3" font-family="'Liberation Serif','Times New Roman',serif" font-size="17.3" font-weight="bold" font-style="normal" fill="#1a1a1a" text-anchor="end" textLength="21" lengthAdjust="spacingAndGlyphs">2.4</text>
<text x="1254.1" y="971.8" font-family="'Liberation Serif','Times New Roman',serif" font-size="16" font-weight="bold" font-style="normal" fill="#1a1a1a" text-anchor="middle" textLength="21" lengthAdjust="spacingAndGlyphs">1.0</text>
<text x="1138.5" y="648.2" font-family="'Liberation Serif','Times New Roman',serif" font-size="17.3" font-weight="bold" font-style="normal" fill="#1a1a1a" text-anchor="end" textLength="21" lengthAdjust="spacingAndGlyphs">2.2</text>
<text x="1291.9" y="971.8" font-family="'Liberation Serif','Times New Roman',serif" font-size="16" font-weight="bold" font-style="normal" fill="#1a1a1a" text-anchor="middle" textLength="21" lengthAdjust="spacingAndGlyphs">1.2</text>
<text x="1138.5" y="683.0" font-family="'Liberation Serif','Times New Roman',serif" font-size="17.3" font-weight="bold" font-style="normal" fill="#1a1a1a" text-anchor="end" textLength="21" lengthAdjust="spacingAndGlyphs">2.0</text>
<text x="1329.7" y="971.8" font-family="'Liberation Serif','Times New Roman',serif" font-size="16" font-weight="bold" font-style="normal" fill="#1a1a1a" text-anchor="middle" textLength="21" lengthAdjust="spacingAndGlyphs">1.4</text>
<text x="1138.5" y="717.8" font-family="'Liberation Serif','Times New Roman',serif" font-size="17.3" font-weight="bold" font-style="normal" fill="#1a1a1a" text-anchor="end" textLength="21" lengthAdjust="spacingAndGlyphs">1.8</text>
<text x="1367.5" y="971.8" font-family="'Liberation Serif','Times New Roman',serif" font-size="16" font-weight="bold" font-style="normal" fill="#1a1a1a" text-anchor="middle" textLength="21" lengthAdjust="spacingAndGlyphs">1.6</text>
<text x="1138.5" y="752.6" font-family="'Liberation Serif','Times New Roman',serif" font-size="17.3" font-weight="bold" font-style="normal" fill="#1a1a1a" text-anchor="end" textLength="21" lengthAdjust="spacingAndGlyphs">1.6</text>
<text x="1405.2" y="971.8" font-family="'Liberation Serif','Times New Roman',serif" font-size="16" font-weight="bold" font-style="normal" fill="#1a1a1a" text-anchor="middle" textLength="21" lengthAdjust="spacingAndGlyphs">1.8</text>
<text x="1138.5" y="787.4" font-family="'Liberation Serif','Times New Roman',serif" font-size="17.3" font-weight="bold" font-style="normal" fill="#1a1a1a" text-anchor="end" textLength="21" lengthAdjust="spacingAndGlyphs">1.4</text>
<text x="1443.0" y="971.8" font-family="'Liberation Serif','Times New Roman',serif" font-size="16" font-weight="bold" font-style="normal" fill="#1a1a1a" text-anchor="middle" textLength="21" lengthAdjust="spacingAndGlyphs">2.0</text>
<text x="1138.5" y="822.2" font-family="'Liberation Serif','Times New Roman',serif" font-size="17.3" font-weight="bold" font-style="normal" fill="#1a1a1a" text-anchor="end" textLength="21" lengthAdjust="spacingAndGlyphs">1.2</text>
<text x="1480.8" y="971.8" font-family="'Liberation Serif','Times New Roman',serif" font-size="16" font-weight="bold" font-style="normal" fill="#1a1a1a" text-anchor="middle" textLength="21" lengthAdjust="spacingAndGlyphs">2.2</text>
<text x="1138.5" y="857.1" font-family="'Liberation Serif','Times New Roman',serif" font-size="17.3" font-weight="bold" font-style="normal" fill="#1a1a1a" text-anchor="end" textLength="21" lengthAdjust="spacingAndGlyphs">1.0</text>
<text x="1518.6" y="971.8" font-family="'Liberation Serif','Times New Roman',serif" font-size="16" font-weight="bold" font-style="normal" fill="#1a1a1a" text-anchor="middle" textLength="21" lengthAdjust="spacingAndGlyphs">2.4</text>
<text x="1138.5" y="891.9" font-family="'Liberation Serif','Times New Roman',serif" font-size="17.3" font-weight="bold" font-style="normal" fill="#1a1a1a" text-anchor="end" textLength="21" lengthAdjust="spacingAndGlyphs">0.8</text>
<text x="1556.3" y="971.8" font-family="'Liberation Serif','Times New Roman',serif" font-size="16" font-weight="bold" font-style="normal" fill="#1a1a1a" text-anchor="middle" textLength="21" lengthAdjust="spacingAndGlyphs">2.6</text>
<text x="1138.5" y="926.7" font-family="'Liberation Serif','Times New Roman',serif" font-size="17.3" font-weight="bold" font-style="normal" fill="#1a1a1a" text-anchor="end" textLength="21" lengthAdjust="spacingAndGlyphs">0.6</text>
<text x="1594.1" y="971.8" font-family="'Liberation Serif','Times New Roman',serif" font-size="16" font-weight="bold" font-style="normal" fill="#1a1a1a" text-anchor="middle" textLength="21" lengthAdjust="spacingAndGlyphs">2.8</text>
<text x="1148.9" y="533.6" font-family="'Liberation Serif','Times New Roman',serif" font-size="24.5" font-weight="bold" font-style="italic" fill="#000" text-anchor="start" textLength="24.4" lengthAdjust="spacingAndGlyphs">de</text>
<text x="1601.8" y="948.8" font-family="'Liberation Serif','Times New Roman',serif" font-size="24.5" font-weight="bold" font-style="italic" fill="#000" text-anchor="start" textLength="20.6" lengthAdjust="spacingAndGlyphs">di</text>
<text x="1224.5" y="608.3" font-family="'Liberation Serif','Times New Roman',serif" font-size="25" font-weight="bold" font-style="normal" fill="#000" text-anchor="start" textLength="55.9" lengthAdjust="spacingAndGlyphs">H...N</text>
<text x="1232.7" y="641.2" font-family="'Liberation Serif','Times New Roman',serif" font-size="25" font-weight="bold" font-style="normal" fill="#a3161c" text-anchor="start" textLength="56.2" lengthAdjust="spacingAndGlyphs">9.4%</text>
<text x="1489.5" y="780.1" font-family="'Liberation Serif','Times New Roman',serif" font-size="25" font-weight="bold" font-style="normal" fill="#000" text-anchor="start" textLength="57.8" lengthAdjust="spacingAndGlyphs">N...H</text>
<text x="1488.0" y="817.5" font-family="'Liberation Serif','Times New Roman',serif" font-size="25" font-weight="bold" font-style="normal" fill="#a3161c" text-anchor="start" textLength="69.0" lengthAdjust="spacingAndGlyphs">13.6%</text>
<polyline points="1214.5,606.8 1175,629.6 1176.5,637.2 1216,644.8 1276.8,660 1325.4,670.7" fill="none" stroke="#222" stroke-width="1.4" stroke-linejoin="round"/>
<polyline points="1527.5,786.2 1419.6,813.5 1418.1,799.8 1421.2,790.7" fill="none" stroke="#222" stroke-width="1.4" stroke-linejoin="round"/>
<rect x="1663.5" y="504.2" width="493.4" height="455.1" fill="#fff"/>
<line x1="1702.8" y1="507.2" x2="1702.8" y2="956.3" stroke="#9c9c9c" stroke-width="2.1"/>
<line x1="1666.5" y1="540.0" x2="2153.9" y2="540.0" stroke="#b2b2b2" stroke-width="2"/>
<line x1="1740.6" y1="507.2" x2="1740.6" y2="956.3" stroke="#9c9c9c" stroke-width="2.1"/>
<line x1="1666.5" y1="574.9" x2="2153.9" y2="574.9" stroke="#b2b2b2" stroke-width="2"/>
<line x1="1778.4" y1="507.2" x2="1778.4" y2="956.3" stroke="#9c9c9c" stroke-width="2.1"/>
<line x1="1666.5" y1="609.8" x2="2153.9" y2="609.8" stroke="#b2b2b2" stroke-width="2"/>
<line x1="1816.2" y1="507.2" x2="1816.2" y2="956.3" stroke="#9c9c9c" stroke-width="2.1"/>
<line x1="1666.5" y1="644.6" x2="2153.9" y2="644.6" stroke="#b2b2b2" stroke-width="2"/>
<line x1="1854.0" y1="507.2" x2="1854.0" y2="956.3" stroke="#9c9c9c" stroke-width="2.1"/>
<line x1="1666.5" y1="679.5" x2="2153.9" y2="679.5" stroke="#b2b2b2" stroke-width="2"/>
<line x1="1891.8" y1="507.2" x2="1891.8" y2="956.3" stroke="#9c9c9c" stroke-width="2.1"/>
<line x1="1666.5" y1="714.4" x2="2153.9" y2="714.4" stroke="#b2b2b2" stroke-width="2"/>
<line x1="1929.7" y1="507.2" x2="1929.7" y2="956.3" stroke="#9c9c9c" stroke-width="2.1"/>
<line x1="1666.5" y1="749.3" x2="2153.9" y2="749.3" stroke="#b2b2b2" stroke-width="2"/>
<line x1="1967.5" y1="507.2" x2="1967.5" y2="956.3" stroke="#9c9c9c" stroke-width="2.1"/>
<line x1="1666.5" y1="784.2" x2="2153.9" y2="784.2" stroke="#b2b2b2" stroke-width="2"/>
<line x1="2005.3" y1="507.2" x2="2005.3" y2="956.3" stroke="#9c9c9c" stroke-width="2.1"/>
<line x1="1666.5" y1="819.1" x2="2153.9" y2="819.1" stroke="#b2b2b2" stroke-width="2"/>
<line x1="2043.1" y1="507.2" x2="2043.1" y2="956.3" stroke="#9c9c9c" stroke-width="2.1"/>
<line x1="1666.5" y1="853.9" x2="2153.9" y2="853.9" stroke="#b2b2b2" stroke-width="2"/>
<line x1="2080.9" y1="507.2" x2="2080.9" y2="956.3" stroke="#9c9c9c" stroke-width="2.1"/>
<line x1="1666.5" y1="888.8" x2="2153.9" y2="888.8" stroke="#b2b2b2" stroke-width="2"/>
<line x1="2118.7" y1="507.2" x2="2118.7" y2="956.3" stroke="#9c9c9c" stroke-width="2.1"/>
<line x1="1666.5" y1="923.7" x2="2153.9" y2="923.7" stroke="#b2b2b2" stroke-width="2"/>
<path d="M1999.6,510.4 C2001.6,512.2 2002.4,515.9 2003.4,522.6 C2004.3,529.2 2005.3,541.7 2005.3,550.5 C2005.3,559.2 2002.9,567.3 2003.4,574.9 C2003.9,582.4 2007.5,587.4 2008.1,595.8 C2008.7,604.2 2007.6,617.0 2007.2,625.5 C2006.7,633.9 2005.0,639.1 2005.3,646.4 C2005.6,653.7 2007.3,661.8 2009.1,669.1 C2010.8,676.3 2013.3,683.0 2015.7,690.0 C2018.1,697.0 2022.0,705.4 2023.4,710.9 C2024.8,716.4 2025.9,717.6 2024.2,723.1 C2022.4,728.7 2017.2,738.5 2012.8,744.1 C2008.4,749.6 2002.8,752.2 1997.7,756.3 C1992.7,760.3 1988.3,763.8 1982.6,768.5 C1976.9,773.1 1969.8,780.4 1963.7,784.2 C1957.5,788.0 1951.4,788.8 1945.7,791.1 C1940.1,793.5 1934.9,795.5 1929.7,798.1 C1924.5,800.7 1920.2,803.1 1914.5,806.8 C1908.9,810.6 1901.9,816.7 1895.6,820.8 C1889.3,824.9 1883.0,828.9 1876.7,831.3 C1870.4,833.6 1864.7,834.2 1857.8,834.8 C1850.9,835.3 1842.1,835.6 1835.1,834.8 C1828.2,833.9 1821.0,832.7 1816.2,829.5 C1811.5,826.3 1809.0,821.7 1806.8,815.6 C1804.6,809.5 1803.6,799.6 1803.0,792.9 C1802.4,786.2 1801.7,782.1 1803.0,775.5 C1804.3,768.8 1807.7,760.0 1810.6,752.8 C1813.4,745.5 1820.3,737.3 1820.0,731.9 C1819.7,726.4 1814.6,718.0 1808.7,720.2 C1802.8,722.3 1792.2,737.2 1784.7,744.6 C1777.1,751.9 1768.1,760.7 1763.3,764.3 C1758.5,767.8 1756.4,766.9 1755.7,765.9 C1755.1,764.8 1754.7,764.6 1759.5,758.0 C1764.3,751.4 1776.5,740.2 1784.7,726.3 C1792.8,712.3 1802.1,687.5 1808.7,674.3 C1815.3,661.1 1818.0,656.7 1824.2,647.1 C1830.3,637.5 1839.0,623.3 1845.5,616.7 C1852.1,610.1 1857.9,612.8 1863.5,607.5 C1869.1,602.2 1873.9,588.9 1879.0,584.8 C1884.1,580.8 1888.0,585.5 1894.1,583.3 C1900.2,581.0 1908.4,575.6 1915.5,571.0 C1922.6,566.5 1930.1,561.0 1936.6,555.9 C1943.2,550.8 1948.4,546.1 1955.0,540.5 C1961.6,535.0 1970.1,527.4 1976.2,522.6 C1982.2,517.8 1987.6,513.8 1991.5,511.7 C1995.4,509.7 1997.6,508.5 1999.6,510.4 Z" fill="url(#gsp)" />
<path d="M1746.3,813.0 L1769.3,790.1 L1790.7,765.9 L1812.1,738.5 L1833.2,717.2 L1848.4,702.2 L1854.0,714.4 L1825.7,740.6 L1805.8,768.8 L1784.7,787.1 L1754.2,814.5 Z" fill="url(#gsp)" />
<path d="M1817.2,883.1 L1845.5,863.2 L1875.8,836.5 L1906.2,808.6 L1927.8,790.3 L1935.3,801.6 L1910.8,822.5 L1882.4,845.2 L1857.8,862.7 L1821.0,884.5 Z" fill="url(#gsp)" />
<path d="M1755.9,765.5 C1759.5,758.4 1775.5,736.1 1782.8,723.8 C1790.1,711.5 1795.1,702.4 1799.8,691.7 C1804.4,681.0 1806.3,668.5 1810.6,659.6 C1814.8,650.7 1818.7,645.5 1825.5,638.4 C1832.3,631.2 1843.4,624.8 1851.2,616.9 C1859.0,609.1 1867.6,596.2 1872.6,591.3 C1877.5,586.3 1876.1,590.6 1881.1,587.1 C1886.0,583.5 1895.0,574.3 1902.4,570.0 C1909.9,565.7 1918.8,564.3 1925.9,561.5 C1933.0,558.6 1938.7,556.8 1945.2,552.9 C1951.6,549.0 1957.7,543.6 1964.4,537.9 C1971.2,532.2 1980.4,523.2 1985.8,518.5 C1991.2,513.9 1994.1,509.6 1996.6,510.0 C1999.1,510.4 2002.5,515.5 2000.7,520.8 C1998.9,526.2 1990.1,535.0 1985.8,542.1 C1981.5,549.2 1975.8,556.4 1975.0,563.5 C1974.3,570.7 1977.9,579.5 1981.5,584.8 C1985.0,590.2 1992.6,590.3 1996.6,595.6 C2000.5,601.0 2003.3,609.8 2005.1,616.9 C2006.8,624.0 2008.6,633.0 2007.2,638.4 C2005.7,643.7 2001.9,648.3 1996.6,649.0 C1991.2,649.7 1981.5,642.7 1975.0,642.6 C1968.6,642.4 1963.3,646.0 1958.0,648.1 C1952.7,650.3 1949.1,650.7 1943.1,655.5 C1937.0,660.2 1927.8,670.0 1921.7,676.7 C1915.7,683.5 1912.1,690.0 1906.8,696.1 C1901.4,702.2 1893.9,708.9 1889.6,713.2 C1885.3,717.5 1886.4,721.7 1881.1,721.7 C1875.7,721.7 1864.9,714.3 1857.4,713.2 C1849.9,712.1 1843.2,713.5 1836.1,715.3 C1829.0,717.1 1820.8,720.3 1814.7,723.8 C1808.7,727.4 1805.1,732.3 1799.8,736.6 C1794.5,740.8 1789.2,744.3 1782.8,749.3 C1776.4,754.3 1765.9,763.7 1761.4,766.4 C1756.9,769.1 1752.4,772.6 1755.9,765.5 Z" fill="url(#bsp)" />
<g clip-path="url(#cp6)"><path d="M2005.3,496.4 L2028.0,574.9 L2024.2,635.9 L1967.5,627.2 L1920.2,618.5 L1872.9,606.3 L1835.1,592.3 L1872.9,557.4 L1948.6,522.6 Z" fill="url(#wsp)" mask="url(#mkcp6)"/></g>
<g clip-path="url(#cp7)"><path d="M1740.6,801.6 L2043.1,801.6 L2043.1,487.7 L1740.6,487.7 Z" fill="url(#wsp2)"/></g>
<path d="M1797.3,724.0 C1799.8,720.7 1809.9,712.5 1816.2,705.7 C1822.5,698.9 1829.5,690.0 1835.1,683.0 C1840.8,676.0 1847.1,666.4 1850.3,663.8 C1853.4,661.2 1855.6,663.5 1854.0,667.3 C1852.5,671.1 1846.2,679.5 1840.8,686.5 C1835.4,693.5 1828.5,702.6 1821.9,709.2 C1815.3,715.7 1805.2,723.3 1801.1,725.7 C1797.0,728.2 1794.8,727.3 1797.3,724.0 Z" fill="url(#ggreen)" fill-opacity="0.7" />
<rect x="1665.1" y="505.8" width="490.2" height="451.9" fill="none" stroke="#000" stroke-width="3.2"/>
<text x="1661.7" y="542.8" font-family="'Liberation Serif','Times New Roman',serif" font-size="17.3" font-weight="bold" font-style="normal" fill="#1a1a1a" text-anchor="end" textLength="21" lengthAdjust="spacingAndGlyphs">2.8</text>
<text x="1701.6" y="971.5" font-family="'Liberation Serif','Times New Roman',serif" font-size="16" font-weight="bold" font-style="normal" fill="#1a1a1a" text-anchor="middle" textLength="21" lengthAdjust="spacingAndGlyphs">0.6</text>
<text x="1661.7" y="577.7" font-family="'Liberation Serif','Times New Roman',serif" font-size="17.3" font-weight="bold" font-style="normal" fill="#1a1a1a" text-anchor="end" textLength="21" lengthAdjust="spacingAndGlyphs">2.6</text>
<text x="1739.4" y="971.5" font-family="'Liberation Serif','Times New Roman',serif" font-size="16" font-weight="bold" font-style="normal" fill="#1a1a1a" text-anchor="middle" textLength="21" lengthAdjust="spacingAndGlyphs">0.8</text>
<text x="1661.7" y="612.6" font-family="'Liberation Serif','Times New Roman',serif" font-size="17.3" font-weight="bold" font-style="normal" fill="#1a1a1a" text-anchor="end" textLength="21" lengthAdjust="spacingAndGlyphs">2.4</text>
<text x="1777.2" y="971.5" font-family="'Liberation Serif','Times New Roman',serif" font-size="16" font-weight="bold" font-style="normal" fill="#1a1a1a" text-anchor="middle" textLength="21" lengthAdjust="spacingAndGlyphs">1.0</text>
<text x="1661.7" y="647.4" font-family="'Liberation Serif','Times New Roman',serif" font-size="17.3" font-weight="bold" font-style="normal" fill="#1a1a1a" text-anchor="end" textLength="21" lengthAdjust="spacingAndGlyphs">2.2</text>
<text x="1815.0" y="971.5" font-family="'Liberation Serif','Times New Roman',serif" font-size="16" font-weight="bold" font-style="normal" fill="#1a1a1a" text-anchor="middle" textLength="21" lengthAdjust="spacingAndGlyphs">1.2</text>
<text x="1661.7" y="682.3" font-family="'Liberation Serif','Times New Roman',serif" font-size="17.3" font-weight="bold" font-style="normal" fill="#1a1a1a" text-anchor="end" textLength="21" lengthAdjust="spacingAndGlyphs">2.0</text>
<text x="1852.8" y="971.5" font-family="'Liberation Serif','Times New Roman',serif" font-size="16" font-weight="bold" font-style="normal" fill="#1a1a1a" text-anchor="middle" textLength="21" lengthAdjust="spacingAndGlyphs">1.4</text>
<text x="1661.7" y="717.2" font-family="'Liberation Serif','Times New Roman',serif" font-size="17.3" font-weight="bold" font-style="normal" fill="#1a1a1a" text-anchor="end" textLength="21" lengthAdjust="spacingAndGlyphs">1.8</text>
<text x="1890.6" y="971.5" font-family="'Liberation Serif','Times New Roman',serif" font-size="16" font-weight="bold" font-style="normal" fill="#1a1a1a" text-anchor="middle" textLength="21" lengthAdjust="spacingAndGlyphs">1.6</text>
<text x="1661.7" y="752.1" font-family="'Liberation Serif','Times New Roman',serif" font-size="17.3" font-weight="bold" font-style="normal" fill="#1a1a1a" text-anchor="end" textLength="21" lengthAdjust="spacingAndGlyphs">1.6</text>
<text x="1928.5" y="971.5" font-family="'Liberation Serif','Times New Roman',serif" font-size="16" font-weight="bold" font-style="normal" fill="#1a1a1a" text-anchor="middle" textLength="21" lengthAdjust="spacingAndGlyphs">1.8</text>
<text x="1661.7" y="787.0" font-family="'Liberation Serif','Times New Roman',serif" font-size="17.3" font-weight="bold" font-style="normal" fill="#1a1a1a" text-anchor="end" textLength="21" lengthAdjust="spacingAndGlyphs">1.4</text>
<text x="1966.3" y="971.5" font-family="'Liberation Serif','Times New Roman',serif" font-size="16" font-weight="bold" font-style="normal" fill="#1a1a1a" text-anchor="middle" textLength="21" lengthAdjust="spacingAndGlyphs">2.0</text>
<text x="1661.7" y="821.9" font-family="'Liberation Serif','Times New Roman',serif" font-size="17.3" font-weight="bold" font-style="normal" fill="#1a1a1a" text-anchor="end" textLength="21" lengthAdjust="spacingAndGlyphs">1.2</text>
<text x="2004.1" y="971.5" font-family="'Liberation Serif','Times New Roman',serif" font-size="16" font-weight="bold" font-style="normal" fill="#1a1a1a" text-anchor="middle" textLength="21" lengthAdjust="spacingAndGlyphs">2.2</text>
<text x="1661.7" y="856.7" font-family="'Liberation Serif','Times New Roman',serif" font-size="17.3" font-weight="bold" font-style="normal" fill="#1a1a1a" text-anchor="end" textLength="21" lengthAdjust="spacingAndGlyphs">1.0</text>
<text x="2041.9" y="971.5" font-family="'Liberation Serif','Times New Roman',serif" font-size="16" font-weight="bold" font-style="normal" fill="#1a1a1a" text-anchor="middle" textLength="21" lengthAdjust="spacingAndGlyphs">2.4</text>
<text x="1661.7" y="891.6" font-family="'Liberation Serif','Times New Roman',serif" font-size="17.3" font-weight="bold" font-style="normal" fill="#1a1a1a" text-anchor="end" textLength="21" lengthAdjust="spacingAndGlyphs">0.8</text>
<text x="2079.7" y="971.5" font-family="'Liberation Serif','Times New Roman',serif" font-size="16" font-weight="bold" font-style="normal" fill="#1a1a1a" text-anchor="middle" textLength="21" lengthAdjust="spacingAndGlyphs">2.6</text>
<text x="1661.7" y="926.5" font-family="'Liberation Serif','Times New Roman',serif" font-size="17.3" font-weight="bold" font-style="normal" fill="#1a1a1a" text-anchor="end" textLength="21" lengthAdjust="spacingAndGlyphs">0.6</text>
<text x="2117.5" y="971.5" font-family="'Liberation Serif','Times New Roman',serif" font-size="16" font-weight="bold" font-style="normal" fill="#1a1a1a" text-anchor="middle" textLength="21" lengthAdjust="spacingAndGlyphs">2.8</text>
<text x="1672.1" y="532.8" font-family="'Liberation Serif','Times New Roman',serif" font-size="24.5" font-weight="bold" font-style="italic" fill="#000" text-anchor="start" textLength="24.4" lengthAdjust="spacingAndGlyphs">de</text>
<text x="2125.3" y="948.5" font-family="'Liberation Serif','Times New Roman',serif" font-size="24.5" font-weight="bold" font-style="italic" fill="#000" text-anchor="start" textLength="20.6" lengthAdjust="spacingAndGlyphs">di</text>
<text x="1717.8" y="642.5" font-family="'Liberation Serif','Times New Roman',serif" font-size="25" font-weight="bold" font-style="normal" fill="#000" text-anchor="start" textLength="65.5" lengthAdjust="spacingAndGlyphs">H...Cl</text>
<text x="1723.9" y="677.0" font-family="'Liberation Serif','Times New Roman',serif" font-size="25" font-weight="bold" font-style="normal" fill="#a3161c" text-anchor="start" textLength="69.4" lengthAdjust="spacingAndGlyphs">21.0%</text>
<rect x="1054.6" y="1006.5" width="492.9" height="451.8" fill="#fff"/>
<line x1="1093.5" y1="1009.5" x2="1093.5" y2="1455.3" stroke="#9c9c9c" stroke-width="2.1"/>
<line x1="1057.6" y1="1042.6" x2="1544.5" y2="1042.6" stroke="#b2b2b2" stroke-width="2"/>
<line x1="1131.3" y1="1009.5" x2="1131.3" y2="1455.3" stroke="#9c9c9c" stroke-width="2.1"/>
<line x1="1057.6" y1="1077.3" x2="1544.5" y2="1077.3" stroke="#b2b2b2" stroke-width="2"/>
<line x1="1169.1" y1="1009.5" x2="1169.1" y2="1455.3" stroke="#9c9c9c" stroke-width="2.1"/>
<line x1="1057.6" y1="1112.0" x2="1544.5" y2="1112.0" stroke="#b2b2b2" stroke-width="2"/>
<line x1="1206.9" y1="1009.5" x2="1206.9" y2="1455.3" stroke="#9c9c9c" stroke-width="2.1"/>
<line x1="1057.6" y1="1146.6" x2="1544.5" y2="1146.6" stroke="#b2b2b2" stroke-width="2"/>
<line x1="1244.7" y1="1009.5" x2="1244.7" y2="1455.3" stroke="#9c9c9c" stroke-width="2.1"/>
<line x1="1057.6" y1="1181.3" x2="1544.5" y2="1181.3" stroke="#b2b2b2" stroke-width="2"/>
<line x1="1282.5" y1="1009.5" x2="1282.5" y2="1455.3" stroke="#9c9c9c" stroke-width="2.1"/>
<line x1="1057.6" y1="1216.0" x2="1544.5" y2="1216.0" stroke="#b2b2b2" stroke-width="2"/>
<line x1="1320.3" y1="1009.5" x2="1320.3" y2="1455.3" stroke="#9c9c9c" stroke-width="2.1"/>
<line x1="1057.6" y1="1250.7" x2="1544.5" y2="1250.7" stroke="#b2b2b2" stroke-width="2"/>
<line x1="1358.1" y1="1009.5" x2="1358.1" y2="1455.3" stroke="#9c9c9c" stroke-width="2.1"/>
<line x1="1057.6" y1="1285.4" x2="1544.5" y2="1285.4" stroke="#b2b2b2" stroke-width="2"/>
<line x1="1395.9" y1="1009.5" x2="1395.9" y2="1455.3" stroke="#9c9c9c" stroke-width="2.1"/>
<line x1="1057.6" y1="1320.1" x2="1544.5" y2="1320.1" stroke="#b2b2b2" stroke-width="2"/>
<line x1="1433.7" y1="1009.5" x2="1433.7" y2="1455.3" stroke="#9c9c9c" stroke-width="2.1"/>
<line x1="1057.6" y1="1354.7" x2="1544.5" y2="1354.7" stroke="#b2b2b2" stroke-width="2"/>
<line x1="1471.5" y1="1009.5" x2="1471.5" y2="1455.3" stroke="#9c9c9c" stroke-width="2.1"/>
<line x1="1057.6" y1="1389.4" x2="1544.5" y2="1389.4" stroke="#b2b2b2" stroke-width="2"/>
<line x1="1509.3" y1="1009.5" x2="1509.3" y2="1455.3" stroke="#9c9c9c" stroke-width="2.1"/>
<line x1="1057.6" y1="1424.1" x2="1544.5" y2="1424.1" stroke="#b2b2b2" stroke-width="2"/>
<path d="M1222.6,1380.4 C1221.5,1383.2 1236.3,1370.3 1244.7,1365.1 C1253.1,1360.0 1263.8,1354.0 1273.0,1349.5 C1282.3,1345.1 1291.7,1341.1 1300.3,1338.4 C1308.8,1335.8 1317.6,1335.5 1324.3,1333.6 C1330.9,1331.7 1334.7,1329.6 1340.3,1327.2 C1346.0,1324.8 1351.4,1324.8 1358.1,1319.2 C1364.8,1313.6 1374.2,1299.8 1380.6,1293.7 C1387.0,1287.6 1391.8,1286.8 1396.7,1282.6 C1401.5,1278.3 1404.2,1273.8 1409.5,1268.2 C1414.9,1262.6 1422.9,1253.9 1428.8,1249.1 C1434.7,1244.4 1439.7,1245.4 1445.0,1239.6 C1450.4,1233.8 1454.4,1221.0 1461.1,1214.1 C1467.8,1207.2 1477.6,1204.0 1485.1,1198.1 C1492.6,1192.3 1502.6,1186.1 1506.1,1178.9 C1509.6,1171.7 1506.1,1166.7 1506.1,1155.0 C1506.1,1143.2 1506.3,1121.6 1506.1,1108.5 C1505.8,1095.4 1507.5,1082.5 1504.6,1076.4 C1501.6,1070.3 1492.3,1073.3 1488.5,1071.7 C1484.8,1070.1 1484.8,1067.7 1482.1,1066.9 C1479.4,1066.1 1477.4,1066.3 1472.4,1066.9 C1467.5,1067.5 1458.0,1069.0 1452.6,1070.3 C1447.2,1071.7 1445.0,1074.4 1440.3,1074.9 C1435.6,1075.3 1428.8,1072.7 1424.2,1073.3 C1419.7,1073.8 1416.3,1075.2 1413.1,1078.1 C1409.9,1081.1 1408.6,1088.4 1405.2,1090.8 C1401.7,1093.2 1396.1,1093.7 1392.3,1092.4 C1388.6,1091.0 1385.3,1084.2 1382.7,1082.8 C1380.0,1081.5 1379.5,1083.8 1376.2,1084.4 C1373.0,1084.9 1366.1,1084.0 1363.4,1086.1 C1360.7,1088.3 1361.5,1089.5 1360.2,1097.2 C1358.9,1104.9 1357.1,1123.4 1355.5,1132.3 C1353.8,1141.1 1352.9,1145.6 1350.5,1150.1 C1348.1,1154.7 1346.1,1156.9 1341.1,1159.5 C1336.0,1162.1 1327.3,1163.8 1320.3,1165.7 C1313.3,1167.6 1304.4,1166.9 1299.3,1170.9 C1294.3,1175.0 1292.9,1183.9 1290.1,1190.0 C1287.3,1196.1 1285.0,1200.7 1282.5,1207.3 C1280.0,1214.0 1275.9,1222.7 1274.9,1229.9 C1274.0,1237.1 1275.6,1242.9 1276.8,1250.7 C1278.1,1258.5 1281.6,1268.0 1282.5,1276.7 C1283.4,1285.4 1284.1,1294.9 1282.5,1302.7 C1280.9,1310.5 1278.2,1315.9 1273.0,1323.5 C1267.9,1331.2 1259.9,1339.0 1251.5,1348.5 C1243.1,1358.0 1223.7,1377.6 1222.6,1380.4 Z" fill="url(#bsp2)" />
<path d="M1257.6,1280.2 L1269.3,1268.0 L1280.6,1255.9 L1284.4,1262.8 L1273.0,1273.2 L1259.8,1281.9 Z" fill="#2a90d0" />
<g clip-path="url(#cp8)"><path d="M1225.8,1377.3 L1254.1,1354.7 L1291.9,1323.5 L1320.3,1288.8 L1343.0,1250.7 L1361.9,1207.3 L1377.0,1172.7 L1365.7,1167.5 L1346.8,1198.7 L1324.1,1229.9 L1301.4,1264.6 L1278.7,1299.2 L1254.1,1333.9 L1229.6,1368.6 Z" fill="url(#gcore)" fill-opacity="0.5"/></g>
<g clip-path="url(#cp9)"><path d="M1227.7,1373.8 L1259.8,1347.8 L1293.8,1313.1 L1318.4,1278.4 L1335.4,1247.2 L1343.0,1222.9 L1329.8,1240.3 L1309.0,1271.5 L1286.3,1302.7 L1259.8,1335.7 L1233.4,1363.4 Z" fill="url(#ggreen)" fill-opacity="0.75"/></g>
<g clip-path="url(#cp10)"><path d="M1405.3,1059.9 L1528.2,1059.9 L1528.2,1250.7 L1443.1,1259.4 L1414.8,1198.7 L1405.3,1129.3 Z" fill="url(#wsp2)"/></g>
<g clip-path="url(#cp11)"><path d="M1361.9,1077.3 L1405.3,1077.3 L1405.3,1138.0 L1367.5,1138.0 Z" fill="url(#wsp)"/></g>
<ellipse cx="1367.5" cy="1181.3" rx="28.3" ry="34.7" fill="url(#cglow)" clip-path="url(#cp18)"/>
<rect x="1056.2" y="1008.1" width="489.7" height="448.6" fill="none" stroke="#000" stroke-width="3.2"/>
<text x="1052.8" y="1045.4" font-family="'Liberation Serif','Times New Roman',serif" font-size="17.3" font-weight="bold" font-style="normal" fill="#1a1a1a" text-anchor="end" textLength="21" lengthAdjust="spacingAndGlyphs">2.8</text>
<text x="1092.3" y="1470.5" font-family="'Liberation Serif','Times New Roman',serif" font-size="16" font-weight="bold" font-style="normal" fill="#1a1a1a" text-anchor="middle" textLength="21" lengthAdjust="spacingAndGlyphs">0.6</text>
<text x="1052.8" y="1080.1" font-family="'Liberation Serif','Times New Roman',serif" font-size="17.3" font-weight="bold" font-style="normal" fill="#1a1a1a" text-anchor="end" textLength="21" lengthAdjust="spacingAndGlyphs">2.6</text>
<text x="1130.1" y="1470.5" font-family="'Liberation Serif','Times New Roman',serif" font-size="16" font-weight="bold" font-style="normal" fill="#1a1a1a" text-anchor="middle" textLength="21" lengthAdjust="spacingAndGlyphs">0.8</text>
<text x="1052.8" y="1114.8" font-family="'Liberation Serif','Times New Roman',serif" font-size="17.3" font-weight="bold" font-style="normal" fill="#1a1a1a" text-anchor="end" textLength="21" lengthAdjust="spacingAndGlyphs">2.4</text>
<text x="1167.9" y="1470.5" font-family="'Liberation Serif','Times New Roman',serif" font-size="16" font-weight="bold" font-style="normal" fill="#1a1a1a" text-anchor="middle" textLength="21" lengthAdjust="spacingAndGlyphs">1.0</text>
<text x="1052.8" y="1149.4" font-family="'Liberation Serif','Times New Roman',serif" font-size="17.3" font-weight="bold" font-style="normal" fill="#1a1a1a" text-anchor="end" textLength="21" lengthAdjust="spacingAndGlyphs">2.2</text>
<text x="1205.7" y="1470.5" font-family="'Liberation Serif','Times New Roman',serif" font-size="16" font-weight="bold" font-style="normal" fill="#1a1a1a" text-anchor="middle" textLength="21" lengthAdjust="spacingAndGlyphs">1.2</text>
<text x="1052.8" y="1184.1" font-family="'Liberation Serif','Times New Roman',serif" font-size="17.3" font-weight="bold" font-style="normal" fill="#1a1a1a" text-anchor="end" textLength="21" lengthAdjust="spacingAndGlyphs">2.0</text>
<text x="1243.5" y="1470.5" font-family="'Liberation Serif','Times New Roman',serif" font-size="16" font-weight="bold" font-style="normal" fill="#1a1a1a" text-anchor="middle" textLength="21" lengthAdjust="spacingAndGlyphs">1.4</text>
<text x="1052.8" y="1218.8" font-family="'Liberation Serif','Times New Roman',serif" font-size="17.3" font-weight="bold" font-style="normal" fill="#1a1a1a" text-anchor="end" textLength="21" lengthAdjust="spacingAndGlyphs">1.8</text>
<text x="1281.3" y="1470.5" font-family="'Liberation Serif','Times New Roman',serif" font-size="16" font-weight="bold" font-style="normal" fill="#1a1a1a" text-anchor="middle" textLength="21" lengthAdjust="spacingAndGlyphs">1.6</text>
<text x="1052.8" y="1253.5" font-family="'Liberation Serif','Times New Roman',serif" font-size="17.3" font-weight="bold" font-style="normal" fill="#1a1a1a" text-anchor="end" textLength="21" lengthAdjust="spacingAndGlyphs">1.6</text>
<text x="1319.1" y="1470.5" font-family="'Liberation Serif','Times New Roman',serif" font-size="16" font-weight="bold" font-style="normal" fill="#1a1a1a" text-anchor="middle" textLength="21" lengthAdjust="spacingAndGlyphs">1.8</text>
<text x="1052.8" y="1288.2" font-family="'Liberation Serif','Times New Roman',serif" font-size="17.3" font-weight="bold" font-style="normal" fill="#1a1a1a" text-anchor="end" textLength="21" lengthAdjust="spacingAndGlyphs">1.4</text>
<text x="1356.9" y="1470.5" font-family="'Liberation Serif','Times New Roman',serif" font-size="16" font-weight="bold" font-style="normal" fill="#1a1a1a" text-anchor="middle" textLength="21" lengthAdjust="spacingAndGlyphs">2.0</text>
<text x="1052.8" y="1322.9" font-family="'Liberation Serif','Times New Roman',serif" font-size="17.3" font-weight="bold" font-style="normal" fill="#1a1a1a" text-anchor="end" textLength="21" lengthAdjust="spacingAndGlyphs">1.2</text>
<text x="1394.7" y="1470.5" font-family="'Liberation Serif','Times New Roman',serif" font-size="16" font-weight="bold" font-style="normal" fill="#1a1a1a" text-anchor="middle" textLength="21" lengthAdjust="spacingAndGlyphs">2.2</text>
<text x="1052.8" y="1357.5" font-family="'Liberation Serif','Times New Roman',serif" font-size="17.3" font-weight="bold" font-style="normal" fill="#1a1a1a" text-anchor="end" textLength="21" lengthAdjust="spacingAndGlyphs">1.0</text>
<text x="1432.5" y="1470.5" font-family="'Liberation Serif','Times New Roman',serif" font-size="16" font-weight="bold" font-style="normal" fill="#1a1a1a" text-anchor="middle" textLength="21" lengthAdjust="spacingAndGlyphs">2.4</text>
<text x="1052.8" y="1392.2" font-family="'Liberation Serif','Times New Roman',serif" font-size="17.3" font-weight="bold" font-style="normal" fill="#1a1a1a" text-anchor="end" textLength="21" lengthAdjust="spacingAndGlyphs">0.8</text>
<text x="1470.3" y="1470.5" font-family="'Liberation Serif','Times New Roman',serif" font-size="16" font-weight="bold" font-style="normal" fill="#1a1a1a" text-anchor="middle" textLength="21" lengthAdjust="spacingAndGlyphs">2.6</text>
<text x="1052.8" y="1426.9" font-family="'Liberation Serif','Times New Roman',serif" font-size="17.3" font-weight="bold" font-style="normal" fill="#1a1a1a" text-anchor="end" textLength="21" lengthAdjust="spacingAndGlyphs">0.6</text>
<text x="1508.1" y="1470.5" font-family="'Liberation Serif','Times New Roman',serif" font-size="16" font-weight="bold" font-style="normal" fill="#1a1a1a" text-anchor="middle" textLength="21" lengthAdjust="spacingAndGlyphs">2.8</text>
<text x="1063.2" y="1035.1" font-family="'Liberation Serif','Times New Roman',serif" font-size="24.5" font-weight="bold" font-style="italic" fill="#000" text-anchor="start" textLength="24.4" lengthAdjust="spacingAndGlyphs">de</text>
<text x="1515.9" y="1447.5" font-family="'Liberation Serif','Times New Roman',serif" font-size="24.5" font-weight="bold" font-style="italic" fill="#000" text-anchor="start" textLength="20.6" lengthAdjust="spacingAndGlyphs">di</text>
<text x="1284.4" y="1060.3" font-family="'Liberation Serif','Times New Roman',serif" font-size="25" font-weight="bold" font-style="normal" fill="#000" text-anchor="start" textLength="70.5" lengthAdjust="spacingAndGlyphs">Cl...Cl</text>
<text x="1288.0" y="1093.1" font-family="'Liberation Serif','Times New Roman',serif" font-size="25" font-weight="bold" font-style="normal" fill="#a3161c" text-anchor="start" textLength="54.8" lengthAdjust="spacingAndGlyphs">0.8%</text>
<text x="1171.0" y="1166.1" font-family="'Liberation Serif','Times New Roman',serif" font-size="25" font-weight="bold" font-style="normal" fill="#000" text-anchor="start" textLength="63.9" lengthAdjust="spacingAndGlyphs">Cl...C</text>
<text x="1168.9" y="1199.5" font-family="'Liberation Serif','Times New Roman',serif" font-size="25" font-weight="bold" font-style="normal" fill="#a3161c" text-anchor="start" textLength="55.3" lengthAdjust="spacingAndGlyphs">4.4%</text>
<text x="1168.9" y="1248.2" font-family="'Liberation Serif','Times New Roman',serif" font-size="25" font-weight="bold" font-style="normal" fill="#000" text-anchor="start" textLength="62.9" lengthAdjust="spacingAndGlyphs">Cl...N</text>
<text x="1168.0" y="1281.0" font-family="'Liberation Serif','Times New Roman',serif" font-size="25" font-weight="bold" font-style="normal" fill="#a3161c" text-anchor="start" textLength="67.8" lengthAdjust="spacingAndGlyphs">13.1%</text>
<text x="1132.4" y="1350.0" font-family="'Liberation Serif','Times New Roman',serif" font-size="25" font-weight="bold" font-style="normal" fill="#000" text-anchor="start" textLength="63.8" lengthAdjust="spacingAndGlyphs">Cl...O</text>
<text x="1133.6" y="1374.3" font-family="'Liberation Serif','Times New Roman',serif" font-size="25" font-weight="bold" font-style="normal" fill="#a3161c" text-anchor="start" textLength="54.7" lengthAdjust="spacingAndGlyphs">0.3%</text>
<text x="1400.5" y="1350.9" font-family="'Liberation Serif','Times New Roman',serif" font-size="25" font-weight="bold" font-style="normal" fill="#000" text-anchor="start" textLength="63.8" lengthAdjust="spacingAndGlyphs">Cl...H</text>
<text x="1407.2" y="1386.5" font-family="'Liberation Serif','Times New Roman',serif" font-size="25" font-weight="bold" font-style="normal" fill="#a3161c" text-anchor="start" textLength="68.7" lengthAdjust="spacingAndGlyphs">80.0%</text>
<text x="1242" y="1441.6" font-family="'Liberation Serif','Times New Roman',serif" font-size="25.5" font-weight="bold" fill="#000" textLength="90" lengthAdjust="spacingAndGlyphs">[ZnCl<tspan font-size="19">4</tspan>]</text>
<path d="M1234.9,1163.0 C1237.2,1158.5 1244.5,1142.0 1248.5,1135.7 C1252.5,1129.4 1255.9,1125.5 1259.2,1125.0 C1262.5,1124.5 1265.0,1120.3 1268.3,1132.7 C1271.6,1145.1 1276.6,1186.8 1278.9,1199.5 C1281.2,1212.2 1281.5,1207.1 1282.0,1208.6" fill="none" stroke="#222" stroke-width="1.4"/>
<path d="M1233.3,1252.7 C1233.8,1257.0 1234.4,1271.0 1236.4,1278.6 C1238.4,1286.2 1241.5,1297.3 1245.5,1298.3 C1249.5,1299.3 1255.1,1289.9 1260.7,1284.6 C1266.3,1279.3 1275.9,1269.4 1278.9,1266.4" fill="none" stroke="#222" stroke-width="1.4"/>
<path d="M1195.3,1345.4 C1196.6,1348.5 1200.1,1360.7 1202.9,1363.7 C1205.7,1366.8 1204.4,1369.8 1212.0,1363.7 C1219.6,1357.6 1236.3,1339.4 1248.5,1327.2 C1260.7,1315.0 1278.9,1296.8 1285.0,1290.7" fill="none" stroke="#222" stroke-width="1.4"/>
<path d="M1399.0,1345.4 C1392.2,1349.5 1368.9,1364.6 1358.0,1369.7 C1347.1,1374.8 1338.7,1376.8 1333.6,1375.8 C1328.5,1374.8 1328.3,1370.5 1327.6,1363.7 C1326.8,1356.9 1328.8,1339.6 1329.1,1334.8" fill="none" stroke="#222" stroke-width="1.4"/>
<rect x="1579.5" y="1005.0" width="493.3" height="452.2" fill="#fff"/>
<line x1="1618.7" y1="1008.0" x2="1618.7" y2="1454.2" stroke="#9c9c9c" stroke-width="2.1"/>
<line x1="1582.5" y1="1041.2" x2="2069.8" y2="1041.2" stroke="#b2b2b2" stroke-width="2"/>
<line x1="1656.5" y1="1008.0" x2="1656.5" y2="1454.2" stroke="#9c9c9c" stroke-width="2.1"/>
<line x1="1582.5" y1="1075.9" x2="2069.8" y2="1075.9" stroke="#b2b2b2" stroke-width="2"/>
<line x1="1694.3" y1="1008.0" x2="1694.3" y2="1454.2" stroke="#9c9c9c" stroke-width="2.1"/>
<line x1="1582.5" y1="1110.6" x2="2069.8" y2="1110.6" stroke="#b2b2b2" stroke-width="2"/>
<line x1="1732.1" y1="1008.0" x2="1732.1" y2="1454.2" stroke="#9c9c9c" stroke-width="2.1"/>
<line x1="1582.5" y1="1145.3" x2="2069.8" y2="1145.3" stroke="#b2b2b2" stroke-width="2"/>
<line x1="1769.9" y1="1008.0" x2="1769.9" y2="1454.2" stroke="#9c9c9c" stroke-width="2.1"/>
<line x1="1582.5" y1="1180.0" x2="2069.8" y2="1180.0" stroke="#b2b2b2" stroke-width="2"/>
<line x1="1807.7" y1="1008.0" x2="1807.7" y2="1454.2" stroke="#9c9c9c" stroke-width="2.1"/>
<line x1="1582.5" y1="1214.7" x2="2069.8" y2="1214.7" stroke="#b2b2b2" stroke-width="2"/>
<line x1="1845.6" y1="1008.0" x2="1845.6" y2="1454.2" stroke="#9c9c9c" stroke-width="2.1"/>
<line x1="1582.5" y1="1249.5" x2="2069.8" y2="1249.5" stroke="#b2b2b2" stroke-width="2"/>
<line x1="1883.4" y1="1008.0" x2="1883.4" y2="1454.2" stroke="#9c9c9c" stroke-width="2.1"/>
<line x1="1582.5" y1="1284.2" x2="2069.8" y2="1284.2" stroke="#b2b2b2" stroke-width="2"/>
<line x1="1921.2" y1="1008.0" x2="1921.2" y2="1454.2" stroke="#9c9c9c" stroke-width="2.1"/>
<line x1="1582.5" y1="1318.9" x2="2069.8" y2="1318.9" stroke="#b2b2b2" stroke-width="2"/>
<line x1="1959.0" y1="1008.0" x2="1959.0" y2="1454.2" stroke="#9c9c9c" stroke-width="2.1"/>
<line x1="1582.5" y1="1353.6" x2="2069.8" y2="1353.6" stroke="#b2b2b2" stroke-width="2"/>
<line x1="1996.8" y1="1008.0" x2="1996.8" y2="1454.2" stroke="#9c9c9c" stroke-width="2.1"/>
<line x1="1582.5" y1="1388.3" x2="2069.8" y2="1388.3" stroke="#b2b2b2" stroke-width="2"/>
<line x1="2034.6" y1="1008.0" x2="2034.6" y2="1454.2" stroke="#9c9c9c" stroke-width="2.1"/>
<line x1="1582.5" y1="1423.0" x2="2069.8" y2="1423.0" stroke="#b2b2b2" stroke-width="2"/>
<path d="M1698.3,1410.5 C1702.9,1407.1 1719.8,1389.3 1730.2,1378.4 C1740.6,1367.5 1750.5,1355.5 1760.7,1344.9 C1770.8,1334.3 1782.0,1324.2 1791.1,1314.5 C1800.2,1304.9 1807.7,1296.7 1815.3,1287.1 C1822.9,1277.5 1831.2,1264.5 1836.9,1256.7 C1842.5,1249.0 1844.8,1246.4 1849.3,1240.8 C1853.9,1235.2 1859.6,1229.7 1864.1,1223.2 C1868.6,1216.8 1873.3,1208.5 1876.4,1201.9 C1879.4,1195.3 1880.9,1189.1 1882.4,1183.5 C1883.9,1177.9 1885.8,1170.4 1885.4,1168.4 C1885.1,1166.4 1883.1,1167.4 1880.5,1171.4 C1878.0,1175.3 1873.1,1190.7 1870.1,1192.2 C1867.1,1193.6 1863.8,1184.1 1862.6,1180.0 C1861.3,1176.0 1862.3,1176.0 1862.6,1167.9 C1862.9,1159.8 1864.5,1143.6 1864.5,1131.4 C1864.5,1119.3 1864.1,1106.0 1862.6,1095.0 C1861.0,1084.0 1857.2,1072.3 1855.0,1065.5 C1852.8,1058.7 1851.4,1056.2 1849.3,1054.2 C1847.3,1052.2 1846.5,1049.0 1842.9,1053.3 C1839.3,1057.7 1831.7,1076.0 1827.6,1080.1 C1823.5,1084.1 1822.6,1078.6 1818.5,1077.6 C1814.5,1076.7 1806.8,1071.3 1803.2,1074.2 C1799.6,1077.1 1801.8,1089.5 1797.2,1095.0 C1792.6,1100.5 1781.7,1103.1 1775.6,1107.1 C1769.5,1111.2 1765.2,1113.7 1760.7,1119.3 C1756.2,1124.9 1754.2,1133.8 1748.6,1141.0 C1743.0,1148.2 1732.3,1157.0 1727.2,1162.7 C1722.1,1168.3 1720.2,1169.9 1718.1,1174.8 C1716.1,1179.7 1716.7,1185.2 1715.1,1192.2 C1713.6,1199.1 1712.4,1208.3 1708.9,1216.5 C1705.3,1224.7 1698.8,1234.8 1693.8,1241.5 C1688.7,1248.2 1682.7,1252.2 1678.6,1256.7 C1674.6,1261.3 1669.9,1266.9 1669.4,1268.9 C1668.8,1270.9 1670.3,1271.1 1675.4,1268.5 C1680.5,1266.0 1694.4,1253.0 1700.0,1253.6 C1705.6,1254.2 1705.3,1265.9 1708.9,1272.0 C1712.4,1278.1 1716.6,1285.2 1721.2,1290.2 C1725.7,1295.3 1731.2,1299.3 1736.3,1302.4 C1741.4,1305.4 1748.5,1304.4 1751.6,1308.5 C1754.7,1312.5 1755.1,1319.7 1754.6,1326.7 C1754.1,1333.6 1753.6,1342.2 1748.6,1350.1 C1743.5,1358.1 1731.8,1366.3 1724.2,1374.4 C1716.6,1382.5 1707.1,1392.7 1702.8,1398.7 C1698.5,1404.7 1693.7,1413.9 1698.3,1410.5 Z" fill="url(#hsp)" />
<g clip-path="url(#cp12)"><path d="M1694.3,1301.5 L1779.4,1301.5 L1788.8,1206.1 L1732.1,1188.7 L1694.3,1232.1 Z" fill="url(#wsp)"/></g>
<ellipse cx="1769.9" cy="1174.8" rx="26.5" ry="20.8" fill="url(#cglow)" clip-path="url(#cp17)"/>
<path d="M1669.7,1268.5 C1672.9,1265.4 1686.4,1257.8 1694.3,1251.2 C1702.2,1244.5 1709.1,1236.4 1717.0,1228.6 C1724.9,1220.8 1735.9,1208.1 1741.6,1204.3 C1747.3,1200.6 1753.2,1201.4 1751.0,1206.1 C1748.8,1210.7 1736.2,1224.0 1728.3,1232.1 C1720.5,1240.2 1712.6,1248.3 1703.8,1254.7 C1694.9,1261.0 1681.1,1268.0 1675.4,1270.3 C1669.7,1272.6 1666.6,1271.7 1669.7,1268.5 Z" fill="url(#hstreak)" fill-opacity="0.85" />
<path d="M1698.1,1410.0 C1701.6,1405.6 1714.5,1393.6 1722.7,1384.8 C1730.9,1376.0 1739.4,1366.3 1747.3,1357.1 C1755.1,1347.8 1763.9,1337.1 1769.9,1329.3 C1775.9,1321.5 1780.0,1312.8 1783.2,1310.2 C1786.3,1307.6 1790.1,1309.3 1788.8,1313.7 C1787.6,1318.0 1781.6,1328.1 1775.6,1336.2 C1769.6,1344.3 1761.1,1353.3 1752.9,1362.3 C1744.7,1371.2 1735.0,1381.9 1726.5,1390.0 C1717.9,1398.2 1706.6,1407.9 1701.9,1411.2 C1697.2,1414.5 1694.6,1414.4 1698.1,1410.0 Z" fill="url(#hstreak)" fill-opacity="0.85" />
<path d="M1819.1,1266.8 C1820.0,1264.2 1826.7,1260.2 1830.4,1256.4 C1834.2,1252.6 1838.3,1245.7 1841.8,1244.2 C1845.2,1242.8 1851.9,1244.8 1851.2,1247.7 C1850.6,1250.6 1842.4,1257.6 1838.0,1261.6 C1833.6,1265.7 1827.9,1271.1 1824.8,1272.0 C1821.6,1272.9 1818.1,1269.4 1819.1,1266.8 Z" fill="#48c060" fill-opacity="0.8" />
<rect x="1581.1" y="1006.6" width="490.1" height="449.0" fill="none" stroke="#000" stroke-width="3.2"/>
<text x="1577.7" y="1044.0" font-family="'Liberation Serif','Times New Roman',serif" font-size="17.3" font-weight="bold" font-style="normal" fill="#1a1a1a" text-anchor="end" textLength="21" lengthAdjust="spacingAndGlyphs">2.8</text>
<text x="1617.5" y="1469.4" font-family="'Liberation Serif','Times New Roman',serif" font-size="16" font-weight="bold" font-style="normal" fill="#1a1a1a" text-anchor="middle" textLength="21" lengthAdjust="spacingAndGlyphs">0.6</text>
<text x="1577.7" y="1078.7" font-family="'Liberation Serif','Times New Roman',serif" font-size="17.3" font-weight="bold" font-style="normal" fill="#1a1a1a" text-anchor="end" textLength="21" lengthAdjust="spacingAndGlyphs">2.6</text>
<text x="1655.3" y="1469.4" font-family="'Liberation Serif','Times New Roman',serif" font-size="16" font-weight="bold" font-style="normal" fill="#1a1a1a" text-anchor="middle" textLength="21" lengthAdjust="spacingAndGlyphs">0.8</text>
<text x="1577.7" y="1113.4" font-family="'Liberation Serif','Times New Roman',serif" font-size="17.3" font-weight="bold" font-style="normal" fill="#1a1a1a" text-anchor="end" textLength="21" lengthAdjust="spacingAndGlyphs">2.4</text>
<text x="1693.1" y="1469.4" font-family="'Liberation Serif','Times New Roman',serif" font-size="16" font-weight="bold" font-style="normal" fill="#1a1a1a" text-anchor="middle" textLength="21" lengthAdjust="spacingAndGlyphs">1.0</text>
<text x="1577.7" y="1148.1" font-family="'Liberation Serif','Times New Roman',serif" font-size="17.3" font-weight="bold" font-style="normal" fill="#1a1a1a" text-anchor="end" textLength="21" lengthAdjust="spacingAndGlyphs">2.2</text>
<text x="1730.9" y="1469.4" font-family="'Liberation Serif','Times New Roman',serif" font-size="16" font-weight="bold" font-style="normal" fill="#1a1a1a" text-anchor="middle" textLength="21" lengthAdjust="spacingAndGlyphs">1.2</text>
<text x="1577.7" y="1182.8" font-family="'Liberation Serif','Times New Roman',serif" font-size="17.3" font-weight="bold" font-style="normal" fill="#1a1a1a" text-anchor="end" textLength="21" lengthAdjust="spacingAndGlyphs">2.0</text>
<text x="1768.7" y="1469.4" font-family="'Liberation Serif','Times New Roman',serif" font-size="16" font-weight="bold" font-style="normal" fill="#1a1a1a" text-anchor="middle" textLength="21" lengthAdjust="spacingAndGlyphs">1.4</text>
<text x="1577.7" y="1217.5" font-family="'Liberation Serif','Times New Roman',serif" font-size="17.3" font-weight="bold" font-style="normal" fill="#1a1a1a" text-anchor="end" textLength="21" lengthAdjust="spacingAndGlyphs">1.8</text>
<text x="1806.5" y="1469.4" font-family="'Liberation Serif','Times New Roman',serif" font-size="16" font-weight="bold" font-style="normal" fill="#1a1a1a" text-anchor="middle" textLength="21" lengthAdjust="spacingAndGlyphs">1.6</text>
<text x="1577.7" y="1252.3" font-family="'Liberation Serif','Times New Roman',serif" font-size="17.3" font-weight="bold" font-style="normal" fill="#1a1a1a" text-anchor="end" textLength="21" lengthAdjust="spacingAndGlyphs">1.6</text>
<text x="1844.4" y="1469.4" font-family="'Liberation Serif','Times New Roman',serif" font-size="16" font-weight="bold" font-style="normal" fill="#1a1a1a" text-anchor="middle" textLength="21" lengthAdjust="spacingAndGlyphs">1.8</text>
<text x="1577.7" y="1287.0" font-family="'Liberation Serif','Times New Roman',serif" font-size="17.3" font-weight="bold" font-style="normal" fill="#1a1a1a" text-anchor="end" textLength="21" lengthAdjust="spacingAndGlyphs">1.4</text>
<text x="1882.2" y="1469.4" font-family="'Liberation Serif','Times New Roman',serif" font-size="16" font-weight="bold" font-style="normal" fill="#1a1a1a" text-anchor="middle" textLength="21" lengthAdjust="spacingAndGlyphs">2.0</text>
<text x="1577.7" y="1321.7" font-family="'Liberation Serif','Times New Roman',serif" font-size="17.3" font-weight="bold" font-style="normal" fill="#1a1a1a" text-anchor="end" textLength="21" lengthAdjust="spacingAndGlyphs">1.2</text>
<text x="1920.0" y="1469.4" font-family="'Liberation Serif','Times New Roman',serif" font-size="16" font-weight="bold" font-style="normal" fill="#1a1a1a" text-anchor="middle" textLength="21" lengthAdjust="spacingAndGlyphs">2.2</text>
<text x="1577.7" y="1356.4" font-family="'Liberation Serif','Times New Roman',serif" font-size="17.3" font-weight="bold" font-style="normal" fill="#1a1a1a" text-anchor="end" textLength="21" lengthAdjust="spacingAndGlyphs">1.0</text>
<text x="1957.8" y="1469.4" font-family="'Liberation Serif','Times New Roman',serif" font-size="16" font-weight="bold" font-style="normal" fill="#1a1a1a" text-anchor="middle" textLength="21" lengthAdjust="spacingAndGlyphs">2.4</text>
<text x="1577.7" y="1391.1" font-family="'Liberation Serif','Times New Roman',serif" font-size="17.3" font-weight="bold" font-style="normal" fill="#1a1a1a" text-anchor="end" textLength="21" lengthAdjust="spacingAndGlyphs">0.8</text>
<text x="1995.6" y="1469.4" font-family="'Liberation Serif','Times New Roman',serif" font-size="16" font-weight="bold" font-style="normal" fill="#1a1a1a" text-anchor="middle" textLength="21" lengthAdjust="spacingAndGlyphs">2.6</text>
<text x="1577.7" y="1425.8" font-family="'Liberation Serif','Times New Roman',serif" font-size="17.3" font-weight="bold" font-style="normal" fill="#1a1a1a" text-anchor="end" textLength="21" lengthAdjust="spacingAndGlyphs">0.6</text>
<text x="2033.4" y="1469.4" font-family="'Liberation Serif','Times New Roman',serif" font-size="16" font-weight="bold" font-style="normal" fill="#1a1a1a" text-anchor="middle" textLength="21" lengthAdjust="spacingAndGlyphs">2.8</text>
<text x="1588.1" y="1033.6" font-family="'Liberation Serif','Times New Roman',serif" font-size="24.5" font-weight="bold" font-style="italic" fill="#000" text-anchor="start" textLength="24.4" lengthAdjust="spacingAndGlyphs">de</text>
<text x="2041.2" y="1446.4" font-family="'Liberation Serif','Times New Roman',serif" font-size="24.5" font-weight="bold" font-style="italic" fill="#000" text-anchor="start" textLength="20.6" lengthAdjust="spacingAndGlyphs">di</text>
<text x="1678.5" y="1073.4" font-family="'Liberation Serif','Times New Roman',serif" font-size="25" font-weight="bold" font-style="normal" fill="#000" text-anchor="start" textLength="53.3" lengthAdjust="spacingAndGlyphs">H...C</text>
<text x="1675.4" y="1106.0" font-family="'Liberation Serif','Times New Roman',serif" font-size="25" font-weight="bold" font-style="normal" fill="#a3161c" text-anchor="start" textLength="54.9" lengthAdjust="spacingAndGlyphs">0.7%</text>
<text x="1921.5" y="1108.1" font-family="'Liberation Serif','Times New Roman',serif" font-size="25" font-weight="bold" font-style="normal" fill="#000" text-anchor="start" textLength="54.8" lengthAdjust="spacingAndGlyphs">H...N</text>
<text x="1925.1" y="1142.5" font-family="'Liberation Serif','Times New Roman',serif" font-size="25" font-weight="bold" font-style="normal" fill="#a3161c" text-anchor="start" textLength="55.5" lengthAdjust="spacingAndGlyphs">3.4%</text>
<text x="1593.8" y="1247.0" font-family="'Liberation Serif','Times New Roman',serif" font-size="25" font-weight="bold" font-style="normal" fill="#000" text-anchor="start" textLength="64.9" lengthAdjust="spacingAndGlyphs">H...Cl</text>
<text x="1591.7" y="1281.1" font-family="'Liberation Serif','Times New Roman',serif" font-size="25" font-weight="bold" font-style="normal" fill="#a3161c" text-anchor="start" textLength="48.7" lengthAdjust="spacingAndGlyphs">39%</text>
<text x="1846.6" y="1317.6" font-family="'Liberation Serif','Times New Roman',serif" font-size="25" font-weight="bold" font-style="normal" fill="#000" text-anchor="start" textLength="56.6" lengthAdjust="spacingAndGlyphs">O...H</text>
<text x="1847.5" y="1351.1" font-family="'Liberation Serif','Times New Roman',serif" font-size="25" font-weight="bold" font-style="normal" fill="#a3161c" text-anchor="start" textLength="68.5" lengthAdjust="spacingAndGlyphs">24.7%</text>
<text x="1617.0" y="1352.7" font-family="'Liberation Serif','Times New Roman',serif" font-size="25" font-weight="bold" font-style="normal" fill="#000" text-anchor="start" textLength="56.9" lengthAdjust="spacingAndGlyphs">H...H</text>
<text x="1615.1" y="1384.6" font-family="'Liberation Serif','Times New Roman',serif" font-size="25" font-weight="bold" font-style="normal" fill="#a3161c" text-anchor="start" textLength="68.0" lengthAdjust="spacingAndGlyphs">31.5%</text>
<text x="1772.5" y="1437.2" font-family="'Liberation Serif','Times New Roman',serif" font-size="25" font-weight="bold" fill="#000" textLength="57.4" lengthAdjust="spacingAndGlyphs">H<tspan font-size="17.5">2</tspan>O</text>
<path d="M1731.8,1068.0 C1734.6,1067.0 1739.6,1064.7 1748.5,1061.9 C1757.4,1059.1 1777.1,1052.0 1785.0,1051.2 C1792.9,1050.4 1794.7,1052.0 1795.7,1057.3 C1796.7,1062.6 1794.0,1072.8 1791.2,1083.2 C1788.4,1093.6 1781.0,1113.6 1779.0,1119.7" fill="none" stroke="#222" stroke-width="1.4"/>
<polyline points="1923.6,1091 1923.6,1070 1916,1068 1852,1131.9" fill="none" stroke="#222" stroke-width="1.4" stroke-linejoin="round"/>
<path d="M1652.6,1250.7 C1651.8,1255.2 1648.0,1270.7 1648.0,1278.0 C1648.0,1285.3 1649.0,1293.3 1652.6,1294.8 C1656.2,1296.3 1661.5,1293.5 1669.4,1287.2 C1677.3,1280.9 1694.7,1261.8 1699.8,1256.7" fill="none" stroke="#222" stroke-width="1.4"/>
<path d="M1673.9,1345.0 C1676.4,1349.6 1684.8,1368.4 1689.1,1372.5 C1693.4,1376.6 1695.5,1376.0 1699.8,1369.4 C1704.1,1362.8 1708.9,1346.6 1715.0,1332.9 C1721.1,1319.2 1732.8,1294.8 1736.3,1287.2" fill="none" stroke="#222" stroke-width="1.4"/>
<path d="M1846.0,1319.2 C1829.0,1332.9 1761.5,1389.7 1744.0,1401.4 C1726.5,1413.1 1740.2,1396.1 1741.0,1389.2 C1741.8,1382.3 1747.2,1365.1 1748.5,1360.3" fill="none" stroke="#222" stroke-width="1.4"/>
</svg></body></html>
